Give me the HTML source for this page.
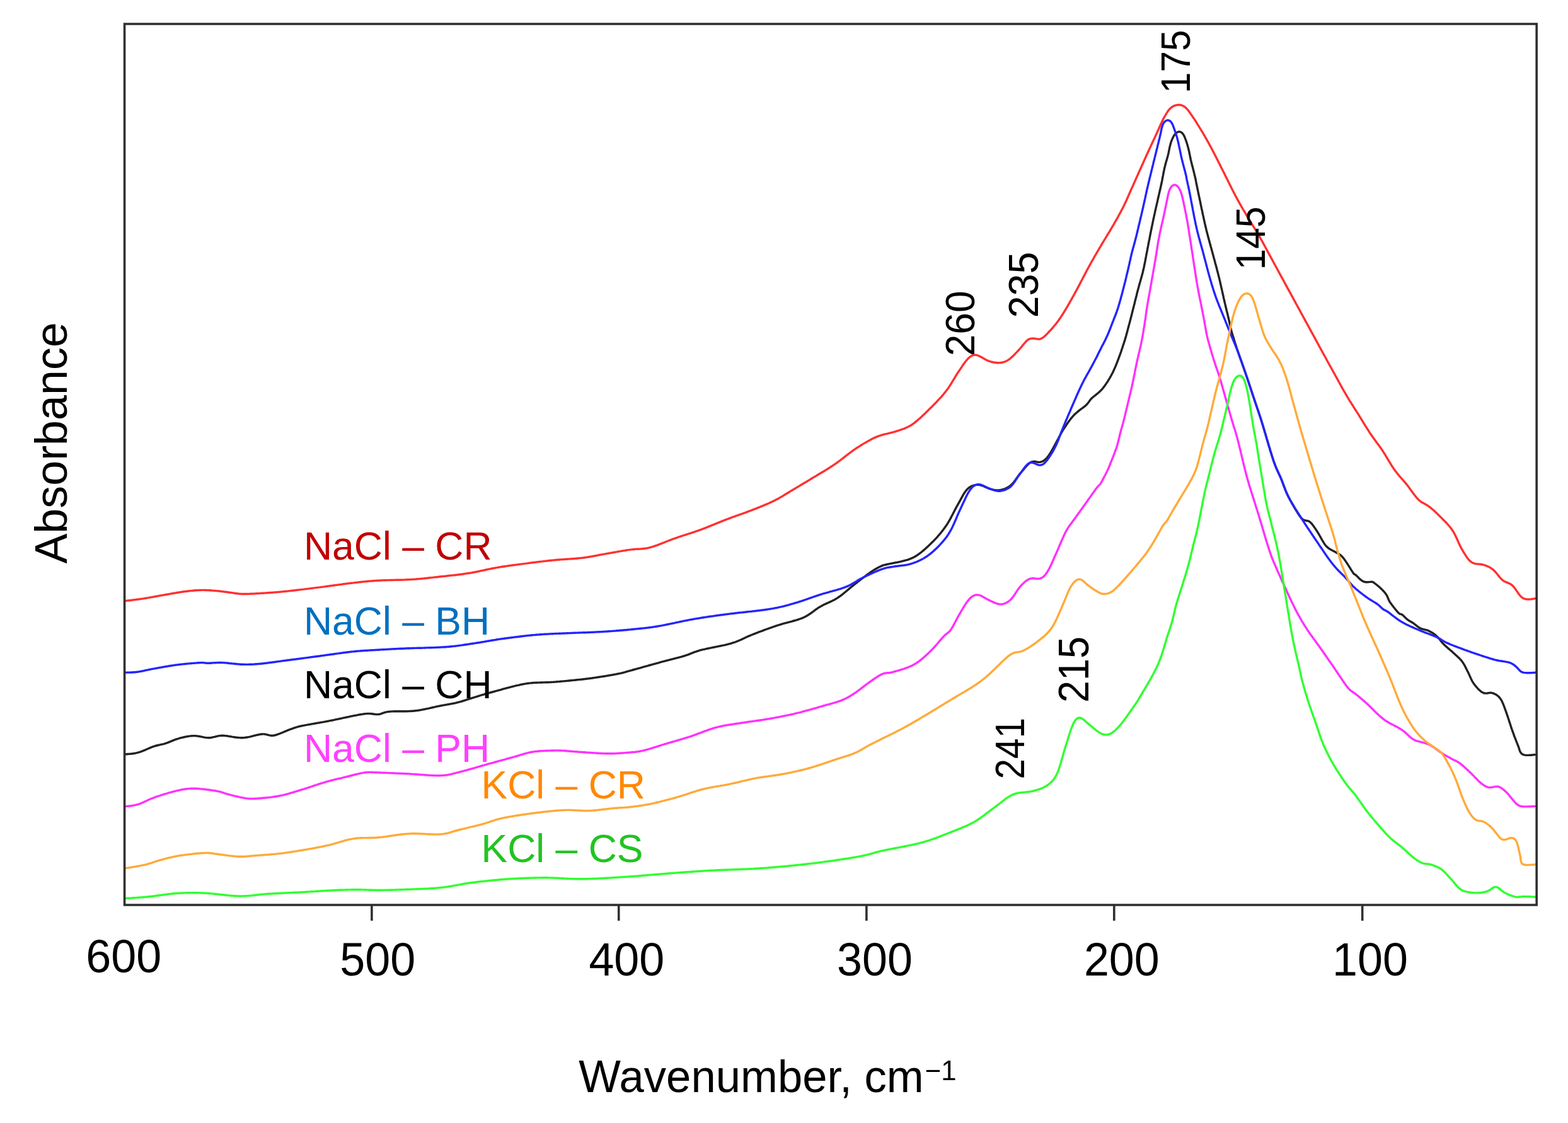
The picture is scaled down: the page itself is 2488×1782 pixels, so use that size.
<!DOCTYPE html>
<html><head><meta charset="utf-8"><title>Absorbance spectra</title>
<style>html,body{margin:0;padding:0;background:#fff;}svg{display:block;}</style>
</head><body>
<svg width="2488" height="1782" viewBox="0 0 2488 1782">
<rect width="2488" height="1782" fill="#fff"/>
<g>
<g fill="none" stroke-width="3.4" stroke-linejoin="round" stroke-linecap="butt">
<path d="M197.4 953.6 L199.4 953.4 L201.4 953.1 L203.4 952.9 L205.3 952.7 L207.3 952.5 L209.3 952.2 L211.3 952.0 L213.3 951.7 L215.3 951.5 L217.3 951.2 L219.2 951.0 L221.2 950.7 L223.2 950.4 L225.2 950.2 L227.2 949.9 L229.1 949.6 L231.1 949.2 L233.1 948.9 L235.1 948.6 L237.0 948.2 L239.0 947.9 L241.0 947.5 L242.9 947.2 L244.9 946.8 L246.9 946.5 L248.8 946.1 L250.8 945.8 L252.8 945.4 L254.7 945.0 L256.7 944.7 L258.7 944.3 L260.7 944.0 L262.6 943.6 L264.6 943.3 L266.6 943.0 L268.5 942.6 L270.5 942.3 L272.5 941.9 L274.4 941.5 L276.4 941.2 L278.4 940.9 L280.4 940.5 L282.3 940.2 L284.3 939.9 L286.3 939.6 L288.3 939.3 L290.2 939.0 L292.2 938.7 L294.2 938.5 L296.2 938.2 L298.2 938.0 L300.2 937.8 L302.1 937.6 L304.1 937.4 L306.1 937.2 L308.1 937.0 L310.1 936.8 L312.1 936.7 L314.1 936.6 L316.1 936.5 L318.1 936.5 L320.1 936.4 L322.1 936.4 L324.1 936.4 L326.1 936.5 L328.1 936.5 L330.1 936.6 L332.1 936.7 L334.1 936.8 L336.1 937.0 L338.1 937.1 L340.1 937.3 L342.1 937.5 L344.1 937.6 L346.1 937.8 L348.0 938.0 L350.0 938.2 L352.0 938.5 L354.0 938.7 L356.0 939.0 L358.0 939.2 L360.0 939.5 L361.9 939.8 L363.9 940.1 L365.9 940.3 L367.9 940.6 L369.9 940.9 L371.8 941.2 L373.8 941.5 L375.8 941.7 L377.8 942.0 L379.8 942.2 L381.8 942.4 L383.8 942.5 L385.8 942.5 L387.8 942.5 L389.8 942.5 L391.8 942.5 L393.8 942.5 L395.7 942.4 L397.7 942.3 L399.7 942.2 L401.7 942.1 L403.7 942.0 L405.7 941.9 L407.7 941.8 L409.7 941.7 L411.7 941.6 L413.7 941.4 L415.7 941.3 L417.7 941.2 L419.7 941.1 L421.7 940.9 L423.7 940.8 L425.7 940.7 L427.7 940.5 L429.7 940.4 L431.7 940.2 L433.7 940.1 L435.7 939.9 L437.7 939.8 L439.7 939.6 L441.7 939.4 L443.6 939.3 L445.6 939.1 L447.6 938.9 L449.6 938.7 L451.6 938.5 L453.6 938.3 L455.6 938.1 L457.6 937.9 L459.6 937.7 L461.6 937.4 L463.5 937.2 L465.5 937.0 L467.5 936.8 L469.5 936.5 L471.5 936.3 L473.5 936.1 L475.5 935.8 L477.4 935.6 L479.4 935.4 L481.4 935.1 L483.4 934.9 L485.4 934.6 L487.4 934.4 L489.4 934.1 L491.3 933.9 L493.3 933.6 L495.3 933.4 L497.3 933.1 L499.3 932.9 L501.3 932.6 L503.2 932.4 L505.2 932.1 L507.2 931.9 L509.2 931.6 L511.2 931.4 L513.2 931.1 L515.2 930.9 L517.1 930.6 L519.1 930.3 L521.1 930.1 L523.1 929.8 L525.1 929.5 L527.0 929.3 L529.0 929.0 L531.0 928.7 L533.0 928.4 L535.0 928.2 L537.0 927.9 L538.9 927.6 L540.9 927.4 L542.9 927.1 L544.9 926.8 L546.9 926.6 L548.8 926.3 L550.8 926.1 L552.8 925.8 L554.8 925.6 L556.8 925.3 L558.8 925.1 L560.8 924.9 L562.7 924.6 L564.7 924.4 L566.7 924.2 L568.7 923.9 L570.7 923.7 L572.7 923.5 L574.7 923.3 L576.7 923.1 L578.7 922.9 L580.6 922.7 L582.6 922.5 L584.6 922.3 L586.6 922.1 L588.6 922.0 L590.6 921.8 L592.6 921.7 L594.6 921.5 L596.6 921.4 L598.6 921.3 L600.6 921.2 L602.6 921.1 L604.6 921.0 L606.6 920.9 L608.6 920.8 L610.6 920.8 L612.6 920.7 L614.6 920.6 L616.6 920.6 L618.6 920.6 L620.6 920.5 L622.6 920.5 L624.6 920.4 L626.6 920.4 L628.6 920.3 L630.6 920.3 L632.6 920.3 L634.6 920.2 L636.6 920.2 L638.6 920.1 L640.6 920.1 L642.6 920.0 L644.6 919.9 L646.6 919.8 L648.6 919.7 L650.6 919.6 L652.6 919.5 L654.6 919.4 L656.6 919.3 L658.5 919.1 L660.5 919.0 L662.5 918.8 L664.5 918.6 L666.5 918.5 L668.5 918.3 L670.5 918.1 L672.5 917.9 L674.5 917.7 L676.5 917.5 L678.5 917.3 L680.4 917.0 L682.4 916.8 L684.4 916.6 L686.4 916.4 L688.4 916.1 L690.4 915.9 L692.4 915.7 L694.4 915.5 L696.3 915.2 L698.3 915.0 L700.3 914.8 L702.3 914.6 L704.3 914.4 L706.3 914.2 L708.3 914.0 L710.3 913.7 L712.3 913.5 L714.2 913.3 L716.2 913.1 L718.2 912.9 L720.2 912.7 L722.2 912.5 L724.2 912.2 L726.2 912.0 L728.2 911.7 L730.1 911.5 L732.1 911.2 L734.1 911.0 L736.1 910.7 L738.1 910.4 L740.0 910.1 L742.0 909.8 L744.0 909.5 L746.0 909.2 L747.9 908.9 L749.9 908.5 L751.9 908.1 L753.8 907.8 L755.8 907.4 L757.8 907.0 L759.7 906.6 L761.7 906.1 L763.6 905.7 L765.6 905.3 L767.5 904.9 L769.5 904.5 L771.5 904.0 L773.4 903.6 L775.4 903.2 L777.3 902.8 L779.3 902.4 L781.2 902.0 L783.2 901.6 L785.2 901.3 L787.1 900.9 L789.1 900.6 L791.1 900.2 L793.1 899.9 L795.0 899.6 L797.0 899.3 L799.0 899.0 L801.0 898.7 L802.9 898.4 L804.9 898.1 L806.9 897.8 L808.9 897.5 L810.9 897.3 L812.8 897.0 L814.8 896.7 L816.8 896.4 L818.8 896.2 L820.8 895.9 L822.8 895.7 L824.7 895.4 L826.7 895.1 L828.7 894.9 L830.7 894.6 L832.7 894.4 L834.7 894.1 L836.6 893.9 L838.6 893.6 L840.6 893.3 L842.6 893.1 L844.6 892.8 L846.6 892.6 L848.5 892.3 L850.5 892.1 L852.5 891.8 L854.5 891.6 L856.5 891.3 L858.5 891.1 L860.5 890.9 L862.4 890.6 L864.4 890.4 L866.4 890.2 L868.4 889.9 L870.4 889.7 L872.4 889.5 L874.4 889.3 L876.4 889.1 L878.3 888.9 L880.3 888.7 L882.3 888.5 L884.3 888.3 L886.3 888.2 L888.3 888.0 L890.3 887.9 L892.3 887.7 L894.3 887.6 L896.3 887.5 L898.3 887.3 L900.3 887.2 L902.3 887.1 L904.3 886.9 L906.3 886.8 L908.3 886.7 L910.3 886.5 L912.3 886.4 L914.2 886.2 L916.2 886.0 L918.2 885.8 L920.2 885.6 L922.2 885.4 L924.2 885.2 L926.2 885.0 L928.2 884.7 L930.1 884.4 L932.1 884.1 L934.1 883.8 L936.1 883.5 L938.0 883.1 L940.0 882.8 L942.0 882.4 L943.9 882.0 L945.9 881.7 L947.9 881.3 L949.8 880.9 L951.8 880.5 L953.8 880.1 L955.7 879.8 L957.7 879.4 L959.7 879.1 L961.6 878.7 L963.6 878.4 L965.6 878.0 L967.5 877.7 L969.5 877.3 L971.5 877.0 L973.5 876.6 L975.4 876.3 L977.4 875.9 L979.4 875.6 L981.3 875.2 L983.3 874.9 L985.3 874.6 L987.2 874.2 L989.2 873.9 L991.2 873.6 L993.2 873.2 L995.1 872.9 L997.1 872.6 L999.1 872.4 L1001.1 872.1 L1003.1 871.9 L1005.1 871.7 L1007.0 871.5 L1009.0 871.4 L1011.0 871.3 L1013.0 871.2 L1015.0 871.1 L1017.0 871.0 L1019.0 870.8 L1021.0 870.7 L1023.0 870.4 L1025.0 870.1 L1026.9 869.8 L1028.9 869.4 L1030.8 868.9 L1032.8 868.4 L1034.7 867.8 L1036.6 867.2 L1038.5 866.6 L1040.4 865.9 L1042.3 865.3 L1044.2 864.6 L1046.0 863.9 L1047.9 863.2 L1049.8 862.4 L1051.6 861.7 L1053.5 861.0 L1055.3 860.2 L1057.2 859.5 L1059.1 858.7 L1060.9 858.0 L1062.8 857.3 L1064.6 856.6 L1066.5 855.9 L1068.4 855.2 L1070.3 854.5 L1072.2 853.8 L1074.0 853.2 L1075.9 852.5 L1077.8 851.9 L1079.7 851.2 L1081.6 850.6 L1083.5 850.0 L1085.4 849.4 L1087.3 848.8 L1089.2 848.2 L1091.1 847.5 L1093.0 846.9 L1095.0 846.3 L1096.9 845.7 L1098.8 845.1 L1100.7 844.4 L1102.5 843.8 L1104.4 843.2 L1106.3 842.5 L1108.2 841.8 L1110.1 841.2 L1112.0 840.5 L1113.9 839.8 L1115.7 839.1 L1117.6 838.4 L1119.5 837.7 L1121.3 836.9 L1123.2 836.2 L1125.0 835.4 L1126.9 834.7 L1128.7 833.9 L1130.6 833.2 L1132.4 832.4 L1134.3 831.7 L1136.1 830.9 L1138.0 830.1 L1139.9 829.4 L1141.7 828.6 L1143.6 827.9 L1145.4 827.1 L1147.3 826.4 L1149.1 825.7 L1151.0 824.9 L1152.9 824.2 L1154.7 823.5 L1156.6 822.8 L1158.5 822.1 L1160.4 821.4 L1162.2 820.7 L1164.1 820.0 L1166.0 819.4 L1167.9 818.7 L1169.8 818.0 L1171.6 817.4 L1173.5 816.7 L1175.4 816.0 L1177.3 815.3 L1179.2 814.7 L1181.1 814.0 L1182.9 813.3 L1184.8 812.6 L1186.7 811.9 L1188.6 811.2 L1190.4 810.5 L1192.3 809.8 L1194.2 809.1 L1196.0 808.3 L1197.9 807.6 L1199.8 806.9 L1201.6 806.1 L1203.5 805.4 L1205.3 804.7 L1207.2 803.9 L1209.0 803.2 L1210.9 802.4 L1212.7 801.6 L1214.6 800.9 L1216.4 800.1 L1218.3 799.3 L1220.1 798.5 L1221.9 797.6 L1223.7 796.8 L1225.5 795.9 L1227.3 795.1 L1229.1 794.2 L1230.9 793.2 L1232.7 792.3 L1234.4 791.4 L1236.2 790.4 L1237.9 789.4 L1239.6 788.4 L1241.4 787.4 L1243.1 786.4 L1244.8 785.3 L1246.5 784.3 L1248.2 783.3 L1249.9 782.2 L1251.6 781.2 L1253.3 780.1 L1255.0 779.1 L1256.8 778.1 L1258.5 777.0 L1260.2 776.0 L1261.9 775.0 L1263.6 773.9 L1265.3 772.9 L1267.1 771.9 L1268.8 770.9 L1270.5 769.8 L1272.2 768.8 L1273.9 767.8 L1275.6 766.8 L1277.3 765.7 L1279.1 764.7 L1280.8 763.7 L1282.5 762.6 L1284.2 761.6 L1285.9 760.5 L1287.6 759.5 L1289.3 758.5 L1291.0 757.4 L1292.7 756.4 L1294.5 755.4 L1296.2 754.4 L1297.9 753.3 L1299.6 752.3 L1301.3 751.3 L1303.1 750.3 L1304.8 749.2 L1306.5 748.2 L1308.2 747.2 L1309.9 746.1 L1311.6 745.1 L1313.3 744.0 L1315.0 743.0 L1316.7 741.9 L1318.4 740.8 L1320.1 739.7 L1321.7 738.6 L1323.4 737.5 L1325.0 736.4 L1326.7 735.2 L1328.3 734.1 L1329.9 732.9 L1331.5 731.7 L1333.1 730.5 L1334.7 729.3 L1336.3 728.0 L1337.9 726.8 L1339.4 725.6 L1341.0 724.4 L1342.6 723.1 L1344.2 721.9 L1345.8 720.7 L1347.3 719.5 L1348.9 718.3 L1350.5 717.1 L1352.2 715.9 L1353.8 714.7 L1355.4 713.6 L1357.1 712.4 L1358.7 711.3 L1360.4 710.2 L1362.1 709.1 L1363.8 708.1 L1365.5 707.0 L1367.2 705.9 L1368.9 704.9 L1370.6 703.9 L1372.3 702.9 L1374.0 701.9 L1375.8 700.9 L1377.5 699.9 L1379.3 698.9 L1381.0 698.0 L1382.8 697.0 L1384.6 696.1 L1386.4 695.2 L1388.2 694.4 L1390.0 693.6 L1391.9 692.9 L1393.8 692.2 L1395.6 691.5 L1397.5 690.9 L1399.4 690.3 L1401.4 689.7 L1403.3 689.2 L1405.2 688.7 L1407.2 688.3 L1409.1 687.8 L1411.1 687.4 L1413.0 686.9 L1415.0 686.4 L1416.9 685.9 L1418.8 685.4 L1420.7 684.8 L1422.6 684.2 L1424.5 683.6 L1426.4 683.0 L1428.3 682.3 L1430.2 681.7 L1432.1 681.0 L1434.0 680.4 L1435.9 679.6 L1437.7 678.8 L1439.5 678.0 L1441.3 677.1 L1443.1 676.2 L1444.8 675.2 L1446.5 674.1 L1448.2 673.0 L1449.8 671.8 L1451.4 670.6 L1452.9 669.4 L1454.5 668.1 L1456.0 666.8 L1457.5 665.5 L1459.0 664.2 L1460.5 662.9 L1462.0 661.5 L1463.4 660.1 L1464.9 658.8 L1466.3 657.4 L1467.8 656.0 L1469.2 654.6 L1470.6 653.2 L1472.1 651.8 L1473.5 650.4 L1474.9 649.0 L1476.3 647.6 L1477.8 646.2 L1479.2 644.8 L1480.6 643.3 L1482.0 641.9 L1483.4 640.5 L1484.8 639.1 L1486.2 637.6 L1487.5 636.2 L1488.9 634.7 L1490.3 633.2 L1491.6 631.8 L1493.0 630.3 L1494.3 628.8 L1495.6 627.3 L1496.9 625.8 L1498.2 624.2 L1499.5 622.7 L1500.7 621.1 L1501.9 619.5 L1503.1 617.9 L1504.3 616.3 L1505.4 614.6 L1506.5 613.0 L1507.6 611.3 L1508.7 609.6 L1509.7 607.9 L1510.8 606.2 L1511.8 604.5 L1512.8 602.8 L1513.9 601.1 L1514.9 599.3 L1515.9 597.6 L1517.0 595.9 L1518.0 594.2 L1519.1 592.6 L1520.2 590.9 L1521.3 589.2 L1522.4 587.6 L1523.6 585.9 L1524.7 584.2 L1525.8 582.6 L1526.9 580.9 L1528.0 579.3 L1529.2 577.6 L1530.4 576.0 L1531.5 574.4 L1532.8 572.8 L1534.0 571.3 L1535.4 569.8 L1536.8 568.4 L1538.2 567.0 L1539.8 565.8 L1541.4 564.7 L1543.2 563.9 L1545.1 563.4 L1547.1 563.3 L1549.0 563.4 L1550.9 563.9 L1552.8 564.5 L1554.6 565.4 L1556.4 566.3 L1558.1 567.3 L1559.8 568.3 L1561.6 569.3 L1563.3 570.3 L1565.1 571.2 L1566.9 572.0 L1568.7 572.8 L1570.6 573.4 L1572.5 574.0 L1574.5 574.5 L1576.4 574.9 L1578.4 575.3 L1580.4 575.5 L1582.4 575.7 L1584.4 575.7 L1586.3 575.6 L1588.3 575.5 L1590.3 575.1 L1592.2 574.7 L1594.1 574.1 L1596.0 573.3 L1597.8 572.4 L1599.5 571.4 L1601.1 570.3 L1602.7 569.1 L1604.2 567.8 L1605.7 566.4 L1607.2 565.1 L1608.6 563.7 L1610.0 562.3 L1611.4 560.8 L1612.8 559.4 L1614.2 557.9 L1615.5 556.5 L1616.9 555.0 L1618.2 553.5 L1619.5 552.0 L1620.8 550.5 L1622.0 548.9 L1623.3 547.3 L1624.6 545.8 L1625.8 544.3 L1627.2 542.8 L1628.5 541.3 L1630.0 540.0 L1631.6 538.8 L1633.4 537.9 L1635.2 537.4 L1637.2 537.1 L1639.1 537.0 L1641.1 537.2 L1643.1 537.4 L1645.0 537.8 L1646.9 538.1 L1648.8 538.2 L1650.7 537.8 L1652.5 537.1 L1654.1 536.2 L1655.7 535.0 L1657.3 533.8 L1658.7 532.4 L1660.2 531.0 L1661.6 529.6 L1663.0 528.2 L1664.3 526.7 L1665.7 525.2 L1667.0 523.8 L1668.4 522.3 L1669.7 520.8 L1671.0 519.3 L1672.3 517.7 L1673.6 516.2 L1674.8 514.7 L1676.1 513.1 L1677.3 511.5 L1678.5 509.9 L1679.7 508.3 L1680.8 506.7 L1682.0 505.0 L1683.1 503.4 L1684.2 501.7 L1685.3 500.0 L1686.4 498.3 L1687.4 496.7 L1688.5 495.0 L1689.5 493.2 L1690.6 491.5 L1691.6 489.8 L1692.6 488.1 L1693.6 486.4 L1694.6 484.6 L1695.6 482.9 L1696.6 481.2 L1697.6 479.4 L1698.6 477.7 L1699.6 476.0 L1700.6 474.2 L1701.5 472.5 L1702.5 470.7 L1703.5 469.0 L1704.5 467.2 L1705.4 465.5 L1706.4 463.7 L1707.3 462.0 L1708.3 460.2 L1709.2 458.4 L1710.2 456.7 L1711.1 454.9 L1712.0 453.1 L1713.0 451.4 L1713.9 449.6 L1714.8 447.8 L1715.7 446.0 L1716.7 444.3 L1717.6 442.5 L1718.5 440.7 L1719.4 438.9 L1720.4 437.2 L1721.3 435.4 L1722.2 433.6 L1723.2 431.9 L1724.1 430.1 L1725.0 428.3 L1726.0 426.6 L1726.9 424.8 L1727.9 423.0 L1728.8 421.3 L1729.8 419.5 L1730.8 417.8 L1731.7 416.0 L1732.7 414.3 L1733.7 412.5 L1734.7 410.8 L1735.7 409.1 L1736.6 407.3 L1737.6 405.6 L1738.7 403.9 L1739.7 402.1 L1740.7 400.4 L1741.7 398.7 L1742.7 397.0 L1743.7 395.2 L1744.7 393.5 L1745.7 391.8 L1746.8 390.1 L1747.8 388.4 L1748.8 386.6 L1749.8 384.9 L1750.9 383.2 L1751.9 381.5 L1752.9 379.8 L1754.0 378.1 L1755.0 376.4 L1756.1 374.7 L1757.1 372.9 L1758.1 371.2 L1759.2 369.5 L1760.2 367.8 L1761.3 366.1 L1762.3 364.4 L1763.3 362.7 L1764.3 361.0 L1765.3 359.2 L1766.4 357.5 L1767.4 355.8 L1768.4 354.0 L1769.3 352.3 L1770.3 350.6 L1771.3 348.8 L1772.3 347.1 L1773.3 345.3 L1774.3 343.6 L1775.2 341.8 L1776.2 340.1 L1777.1 338.3 L1778.1 336.6 L1779.0 334.8 L1779.9 333.0 L1780.9 331.3 L1781.8 329.5 L1782.7 327.7 L1783.5 325.9 L1784.4 324.1 L1785.3 322.3 L1786.1 320.5 L1787.0 318.7 L1787.8 316.8 L1788.6 315.0 L1789.4 313.2 L1790.2 311.3 L1791.0 309.5 L1791.8 307.7 L1792.6 305.9 L1793.4 304.0 L1794.2 302.2 L1795.0 300.4 L1795.9 298.5 L1796.7 296.7 L1797.5 294.9 L1798.3 293.1 L1799.1 291.2 L1800.0 289.4 L1800.8 287.6 L1801.6 285.8 L1802.4 283.9 L1803.2 282.1 L1804.0 280.3 L1804.9 278.5 L1805.7 276.6 L1806.5 274.8 L1807.3 273.0 L1808.1 271.2 L1809.0 269.3 L1809.8 267.5 L1810.6 265.7 L1811.4 263.9 L1812.2 262.0 L1813.1 260.2 L1813.9 258.4 L1814.7 256.6 L1815.5 254.7 L1816.3 252.9 L1817.2 251.1 L1818.0 249.3 L1818.8 247.4 L1819.6 245.6 L1820.5 243.8 L1821.3 242.0 L1822.1 240.2 L1823.0 238.3 L1823.8 236.5 L1824.6 234.7 L1825.5 232.9 L1826.3 231.1 L1827.2 229.3 L1828.0 227.5 L1828.8 225.6 L1829.7 223.8 L1830.5 222.0 L1831.4 220.2 L1832.2 218.4 L1833.1 216.6 L1833.9 214.8 L1834.8 213.0 L1835.6 211.1 L1836.4 209.3 L1837.2 207.5 L1838.1 205.7 L1838.9 203.8 L1839.7 202.0 L1840.5 200.2 L1841.3 198.4 L1842.1 196.5 L1843.0 194.7 L1843.8 192.9 L1844.7 191.1 L1845.6 189.3 L1846.5 187.6 L1847.5 185.8 L1848.5 184.1 L1849.5 182.4 L1850.5 180.6 L1851.6 178.9 L1852.6 177.3 L1853.8 175.6 L1855.0 174.1 L1856.3 172.6 L1857.8 171.3 L1859.3 170.1 L1860.9 169.0 L1862.7 168.1 L1864.5 167.4 L1866.4 166.9 L1868.3 166.5 L1870.2 166.4 L1872.1 166.5 L1874.0 166.8 L1875.8 167.4 L1877.6 168.2 L1879.3 169.2 L1880.8 170.4 L1882.3 171.7 L1883.6 173.1 L1884.9 174.6 L1886.2 176.2 L1887.3 177.8 L1888.5 179.4 L1889.6 181.1 L1890.7 182.7 L1891.8 184.4 L1892.9 186.1 L1894.1 187.7 L1895.2 189.4 L1896.3 191.0 L1897.4 192.7 L1898.4 194.4 L1899.5 196.1 L1900.5 197.8 L1901.6 199.5 L1902.6 201.2 L1903.7 202.9 L1904.7 204.6 L1905.8 206.3 L1906.8 208.0 L1907.9 209.7 L1908.9 211.5 L1909.9 213.2 L1910.9 214.9 L1911.9 216.7 L1912.9 218.4 L1913.9 220.1 L1914.9 221.9 L1915.9 223.6 L1916.8 225.3 L1917.8 227.1 L1918.8 228.8 L1919.7 230.6 L1920.7 232.3 L1921.6 234.1 L1922.6 235.9 L1923.5 237.6 L1924.4 239.4 L1925.3 241.2 L1926.3 243.0 L1927.2 244.7 L1928.1 246.5 L1929.0 248.3 L1929.9 250.1 L1930.8 251.9 L1931.7 253.6 L1932.6 255.4 L1933.5 257.2 L1934.4 259.0 L1935.3 260.8 L1936.2 262.6 L1937.1 264.4 L1938.0 266.2 L1938.9 267.9 L1939.8 269.7 L1940.7 271.5 L1941.6 273.3 L1942.5 275.1 L1943.4 276.9 L1944.3 278.7 L1945.2 280.5 L1946.1 282.3 L1947.0 284.1 L1947.8 285.8 L1948.7 287.6 L1949.6 289.4 L1950.5 291.2 L1951.4 293.0 L1952.3 294.8 L1953.2 296.6 L1954.1 298.4 L1955.0 300.2 L1955.9 302.0 L1956.8 303.7 L1957.7 305.5 L1958.6 307.3 L1959.5 309.1 L1960.5 310.8 L1961.4 312.6 L1962.4 314.4 L1963.3 316.1 L1964.3 317.9 L1965.3 319.6 L1966.3 321.4 L1967.2 323.1 L1968.2 324.8 L1969.2 326.6 L1970.2 328.3 L1971.2 330.0 L1972.2 331.8 L1973.2 333.5 L1974.2 335.2 L1975.2 336.9 L1976.3 338.7 L1977.3 340.4 L1978.3 342.1 L1979.3 343.8 L1980.4 345.5 L1981.4 347.2 L1982.4 349.0 L1983.5 350.7 L1984.5 352.4 L1985.6 354.1 L1986.6 355.8 L1987.7 357.5 L1988.7 359.2 L1989.8 360.9 L1990.8 362.6 L1991.9 364.3 L1992.9 366.0 L1993.9 367.7 L1995.0 369.4 L1996.0 371.1 L1997.0 372.9 L1998.0 374.6 L1999.0 376.3 L2000.0 378.1 L2001.0 379.8 L2002.0 381.6 L2002.9 383.3 L2003.9 385.1 L2004.8 386.8 L2005.8 388.6 L2006.8 390.3 L2007.7 392.1 L2008.6 393.9 L2009.6 395.6 L2010.5 397.4 L2011.5 399.1 L2012.4 400.9 L2013.4 402.7 L2014.3 404.4 L2015.3 406.2 L2016.3 407.9 L2017.2 409.7 L2018.2 411.4 L2019.1 413.2 L2020.1 415.0 L2021.0 416.7 L2022.0 418.5 L2022.9 420.2 L2023.9 422.0 L2024.9 423.7 L2025.8 425.5 L2026.8 427.3 L2027.7 429.0 L2028.7 430.8 L2029.6 432.5 L2030.6 434.3 L2031.5 436.0 L2032.5 437.8 L2033.5 439.6 L2034.4 441.3 L2035.4 443.1 L2036.3 444.8 L2037.3 446.6 L2038.2 448.3 L2039.2 450.1 L2040.2 451.9 L2041.1 453.6 L2042.1 455.4 L2043.0 457.1 L2044.0 458.9 L2044.9 460.6 L2045.9 462.4 L2046.9 464.1 L2047.8 465.9 L2048.8 467.6 L2049.7 469.4 L2050.7 471.2 L2051.7 472.9 L2052.6 474.7 L2053.6 476.4 L2054.5 478.2 L2055.5 479.9 L2056.4 481.7 L2057.4 483.5 L2058.4 485.2 L2059.3 487.0 L2060.3 488.7 L2061.2 490.5 L2062.2 492.2 L2063.1 494.0 L2064.1 495.8 L2065.0 497.5 L2066.0 499.3 L2067.0 501.0 L2067.9 502.8 L2068.9 504.5 L2069.8 506.3 L2070.8 508.1 L2071.7 509.8 L2072.7 511.6 L2073.7 513.3 L2074.6 515.1 L2075.6 516.8 L2076.5 518.6 L2077.5 520.3 L2078.4 522.1 L2079.4 523.9 L2080.3 525.6 L2081.3 527.4 L2082.3 529.1 L2083.2 530.9 L2084.2 532.6 L2085.1 534.4 L2086.1 536.2 L2087.0 537.9 L2088.0 539.7 L2088.9 541.4 L2089.9 543.2 L2090.9 544.9 L2091.8 546.7 L2092.8 548.5 L2093.7 550.2 L2094.7 552.0 L2095.6 553.7 L2096.6 555.5 L2097.6 557.2 L2098.5 559.0 L2099.5 560.7 L2100.5 562.5 L2101.4 564.2 L2102.4 566.0 L2103.4 567.7 L2104.3 569.5 L2105.3 571.3 L2106.2 573.0 L2107.2 574.8 L2108.2 576.5 L2109.2 578.3 L2110.1 580.0 L2111.1 581.8 L2112.1 583.5 L2113.0 585.3 L2114.0 587.0 L2115.0 588.8 L2115.9 590.5 L2116.9 592.3 L2117.9 594.0 L2118.8 595.8 L2119.8 597.5 L2120.8 599.3 L2121.7 601.0 L2122.7 602.8 L2123.6 604.5 L2124.6 606.3 L2125.6 608.0 L2126.5 609.8 L2127.5 611.5 L2128.5 613.3 L2129.4 615.0 L2130.4 616.8 L2131.4 618.5 L2132.4 620.3 L2133.4 622.0 L2134.4 623.7 L2135.4 625.5 L2136.4 627.2 L2137.4 628.9 L2138.4 630.6 L2139.5 632.3 L2140.5 634.1 L2141.5 635.8 L2142.6 637.5 L2143.7 639.2 L2144.7 640.8 L2145.8 642.5 L2146.9 644.2 L2147.9 645.9 L2149.0 647.6 L2150.1 649.3 L2151.2 651.0 L2152.2 652.7 L2153.3 654.4 L2154.4 656.0 L2155.4 657.7 L2156.5 659.4 L2157.5 661.1 L2158.6 662.8 L2159.6 664.5 L2160.7 666.2 L2161.7 668.0 L2162.8 669.7 L2163.8 671.4 L2164.9 673.1 L2165.9 674.8 L2167.0 676.5 L2168.0 678.2 L2169.1 679.9 L2170.2 681.5 L2171.3 683.2 L2172.3 684.9 L2173.4 686.6 L2174.5 688.2 L2175.7 689.9 L2176.8 691.5 L2178.0 693.2 L2179.1 694.8 L2180.3 696.4 L2181.5 698.0 L2182.7 699.7 L2183.8 701.3 L2185.0 702.9 L2186.2 704.5 L2187.4 706.1 L2188.6 707.7 L2189.7 709.3 L2190.9 711.0 L2192.0 712.6 L2193.2 714.3 L2194.3 715.9 L2195.3 717.6 L2196.4 719.3 L2197.5 721.0 L2198.5 722.7 L2199.5 724.4 L2200.6 726.1 L2201.6 727.9 L2202.6 729.6 L2203.6 731.3 L2204.7 733.0 L2205.7 734.7 L2206.8 736.4 L2207.8 738.1 L2208.9 739.8 L2210.0 741.5 L2211.1 743.2 L2212.2 744.8 L2213.4 746.4 L2214.6 748.0 L2215.8 749.6 L2217.0 751.2 L2218.3 752.7 L2219.6 754.3 L2220.9 755.8 L2222.2 757.3 L2223.5 758.8 L2224.9 760.3 L2226.2 761.8 L2227.5 763.3 L2228.8 764.8 L2230.1 766.4 L2231.3 767.9 L2232.6 769.5 L2233.8 771.0 L2235.0 772.6 L2236.2 774.2 L2237.4 775.9 L2238.6 777.5 L2239.7 779.1 L2240.9 780.7 L2242.1 782.3 L2243.3 783.9 L2244.5 785.5 L2245.7 787.1 L2247.0 788.7 L2248.2 790.2 L2249.6 791.7 L2251.0 793.1 L2252.5 794.5 L2254.0 795.7 L2255.7 796.8 L2257.4 797.8 L2259.1 798.8 L2260.9 799.7 L2262.7 800.6 L2264.4 801.7 L2266.0 802.8 L2267.7 803.9 L2269.2 805.2 L2270.8 806.4 L2272.3 807.7 L2273.9 809.0 L2275.3 810.3 L2276.8 811.7 L2278.3 813.1 L2279.7 814.4 L2281.1 815.8 L2282.6 817.2 L2284.0 818.6 L2285.4 820.0 L2286.8 821.4 L2288.3 822.8 L2289.7 824.3 L2291.1 825.7 L2292.5 827.1 L2293.9 828.5 L2295.3 830.0 L2296.6 831.5 L2297.9 833.0 L2299.2 834.5 L2300.5 836.0 L2301.8 837.6 L2303.0 839.2 L2304.1 840.8 L2305.2 842.5 L2306.3 844.2 L2307.3 845.9 L2308.2 847.7 L2309.1 849.5 L2310.0 851.3 L2310.8 853.1 L2311.7 854.9 L2312.5 856.7 L2313.3 858.5 L2314.1 860.4 L2314.9 862.2 L2315.8 864.0 L2316.6 865.8 L2317.5 867.6 L2318.4 869.4 L2319.4 871.1 L2320.4 872.9 L2321.4 874.6 L2322.4 876.3 L2323.5 878.0 L2324.5 879.7 L2325.6 881.4 L2326.7 883.1 L2327.8 884.7 L2329.0 886.3 L2330.3 887.9 L2331.6 889.3 L2333.1 890.7 L2334.6 891.9 L2336.3 892.9 L2338.1 893.7 L2340.0 894.3 L2342.0 894.7 L2343.9 894.9 L2345.9 895.1 L2347.9 895.2 L2349.9 895.5 L2351.9 895.8 L2353.8 896.2 L2355.7 896.8 L2357.6 897.5 L2359.5 898.2 L2361.3 899.0 L2363.1 899.9 L2364.8 900.9 L2366.5 902.0 L2368.1 903.2 L2369.6 904.4 L2371.1 905.8 L2372.5 907.2 L2373.8 908.7 L2375.1 910.3 L2376.3 911.8 L2377.6 913.4 L2378.8 915.0 L2380.1 916.5 L2381.4 918.0 L2382.8 919.4 L2384.3 920.7 L2385.9 921.9 L2387.7 922.8 L2389.5 923.7 L2391.3 924.4 L2393.2 925.1 L2395.0 925.9 L2396.8 926.8 L2398.4 927.9 L2399.9 929.2 L2401.3 930.6 L2402.6 932.1 L2403.8 933.7 L2405.0 935.3 L2406.1 937.0 L2407.2 938.6 L2408.4 940.3 L2409.5 941.9 L2410.7 943.5 L2412.0 945.1 L2413.3 946.5 L2414.8 947.9 L2416.4 949.0 L2418.1 949.9 L2420.0 950.5 L2421.9 950.8 L2423.9 951.0 L2425.9 951.0 L2427.9 950.9 L2429.9 950.7 L2431.9 950.4 L2433.8 950.1 L2435.8 949.8 L2437.8 949.6" stroke="#ff3030"/>
<path d="M197.2 1197.0 L199.2 1196.8 L201.2 1196.7 L203.2 1196.5 L205.2 1196.4 L207.2 1196.2 L209.2 1196.0 L211.1 1195.7 L213.1 1195.5 L215.1 1195.1 L217.0 1194.7 L219.0 1194.2 L220.9 1193.7 L222.8 1193.0 L224.7 1192.3 L226.5 1191.6 L228.4 1190.8 L230.2 1190.1 L232.1 1189.3 L233.9 1188.5 L235.7 1187.7 L237.6 1186.9 L239.4 1186.1 L241.3 1185.4 L243.2 1184.7 L245.0 1184.1 L247.0 1183.5 L248.9 1183.0 L250.8 1182.5 L252.8 1182.1 L254.7 1181.7 L256.7 1181.2 L258.6 1180.8 L260.6 1180.3 L262.5 1179.7 L264.4 1179.1 L266.3 1178.4 L268.1 1177.6 L270.0 1176.9 L271.8 1176.1 L273.7 1175.4 L275.5 1174.6 L277.4 1173.9 L279.3 1173.2 L281.2 1172.6 L283.1 1172.0 L285.0 1171.4 L286.9 1170.9 L288.9 1170.4 L290.8 1170.0 L292.8 1169.5 L294.7 1169.1 L296.7 1168.7 L298.7 1168.4 L300.6 1168.1 L302.6 1167.9 L304.6 1167.7 L306.6 1167.6 L308.6 1167.6 L310.6 1167.7 L312.6 1167.9 L314.6 1168.2 L316.5 1168.5 L318.5 1168.9 L320.5 1169.3 L322.4 1169.7 L324.4 1170.1 L326.4 1170.4 L328.3 1170.6 L330.3 1170.7 L332.3 1170.7 L334.3 1170.5 L336.3 1170.2 L338.2 1169.7 L340.2 1169.3 L342.1 1168.8 L344.1 1168.3 L346.0 1167.9 L348.0 1167.6 L350.0 1167.4 L352.0 1167.3 L354.0 1167.3 L356.0 1167.4 L358.0 1167.6 L359.9 1167.8 L361.9 1168.1 L363.9 1168.4 L365.9 1168.7 L367.8 1169.1 L369.8 1169.4 L371.8 1169.7 L373.8 1170.0 L375.8 1170.2 L377.7 1170.4 L379.7 1170.6 L381.7 1170.7 L383.7 1170.8 L385.7 1170.7 L387.7 1170.6 L389.7 1170.3 L391.7 1170.0 L393.6 1169.7 L395.6 1169.3 L397.6 1168.8 L399.5 1168.4 L401.4 1167.9 L403.4 1167.4 L405.3 1166.9 L407.3 1166.4 L409.2 1166.0 L411.2 1165.6 L413.1 1165.2 L415.1 1165.0 L417.1 1164.9 L419.1 1164.9 L421.1 1165.2 L423.0 1165.6 L424.9 1166.1 L426.9 1166.7 L428.8 1167.1 L430.8 1167.3 L432.8 1167.2 L434.7 1167.0 L436.7 1166.5 L438.6 1166.0 L440.5 1165.4 L442.4 1164.7 L444.3 1164.0 L446.1 1163.2 L448.0 1162.5 L449.8 1161.7 L451.7 1160.9 L453.5 1160.2 L455.3 1159.4 L457.2 1158.7 L459.1 1157.9 L460.9 1157.2 L462.8 1156.6 L464.7 1155.9 L466.6 1155.2 L468.5 1154.6 L470.4 1154.0 L472.3 1153.4 L474.2 1152.9 L476.2 1152.4 L478.1 1152.0 L480.1 1151.6 L482.1 1151.2 L484.0 1150.8 L486.0 1150.4 L487.9 1150.1 L489.9 1149.7 L491.9 1149.4 L493.9 1149.0 L495.8 1148.7 L497.8 1148.3 L499.8 1148.0 L501.7 1147.6 L503.7 1147.3 L505.7 1147.0 L507.6 1146.6 L509.6 1146.3 L511.6 1145.9 L513.6 1145.6 L515.5 1145.2 L517.5 1144.9 L519.5 1144.5 L521.4 1144.1 L523.4 1143.7 L525.3 1143.3 L527.3 1143.0 L529.3 1142.6 L531.2 1142.2 L533.2 1141.7 L535.1 1141.3 L537.1 1140.9 L539.1 1140.5 L541.0 1140.1 L543.0 1139.7 L544.9 1139.2 L546.9 1138.8 L548.8 1138.4 L550.8 1138.0 L552.7 1137.6 L554.7 1137.2 L556.7 1136.7 L558.6 1136.3 L560.6 1135.9 L562.5 1135.5 L564.5 1135.2 L566.5 1134.8 L568.4 1134.4 L570.4 1134.0 L572.4 1133.7 L574.3 1133.4 L576.3 1133.1 L578.3 1132.8 L580.3 1132.6 L582.3 1132.4 L584.3 1132.4 L586.3 1132.4 L588.3 1132.5 L590.3 1132.7 L592.2 1133.0 L594.2 1133.3 L596.2 1133.5 L598.2 1133.6 L600.2 1133.6 L602.1 1133.3 L604.0 1132.8 L605.9 1132.1 L607.8 1131.4 L609.7 1130.8 L611.6 1130.2 L613.6 1129.8 L615.5 1129.4 L617.5 1129.2 L619.5 1129.1 L621.5 1128.9 L623.5 1128.9 L625.5 1128.8 L627.5 1128.8 L629.5 1128.8 L631.5 1128.8 L633.5 1128.8 L635.5 1128.8 L637.5 1128.8 L639.5 1128.7 L641.5 1128.7 L643.5 1128.7 L645.5 1128.7 L647.5 1128.6 L649.5 1128.5 L651.5 1128.5 L653.5 1128.3 L655.5 1128.2 L657.5 1128.0 L659.5 1127.8 L661.4 1127.6 L663.4 1127.3 L665.4 1127.0 L667.4 1126.6 L669.3 1126.3 L671.3 1125.9 L673.3 1125.5 L675.2 1125.1 L677.2 1124.7 L679.1 1124.3 L681.1 1123.9 L683.0 1123.4 L685.0 1123.0 L686.9 1122.5 L688.9 1122.1 L690.8 1121.6 L692.8 1121.2 L694.7 1120.8 L696.7 1120.4 L698.7 1120.0 L700.6 1119.6 L702.6 1119.2 L704.6 1118.9 L706.5 1118.5 L708.5 1118.2 L710.5 1117.8 L712.4 1117.5 L714.4 1117.1 L716.4 1116.8 L718.3 1116.4 L720.3 1116.0 L722.3 1115.6 L724.2 1115.1 L726.1 1114.6 L728.1 1114.1 L730.0 1113.6 L731.9 1113.1 L733.9 1112.5 L735.8 1111.9 L737.7 1111.3 L739.6 1110.7 L741.5 1110.1 L743.4 1109.5 L745.3 1108.9 L747.2 1108.3 L749.1 1107.7 L751.0 1107.1 L752.9 1106.5 L754.9 1105.9 L756.8 1105.3 L758.7 1104.7 L760.6 1104.1 L762.5 1103.5 L764.4 1102.9 L766.3 1102.4 L768.2 1101.8 L770.1 1101.2 L772.1 1100.6 L774.0 1100.1 L775.9 1099.6 L777.8 1099.0 L779.8 1098.5 L781.7 1098.0 L783.6 1097.5 L785.6 1096.9 L787.5 1096.4 L789.4 1095.9 L791.3 1095.3 L793.3 1094.8 L795.2 1094.3 L797.1 1093.7 L799.0 1093.2 L801.0 1092.7 L802.9 1092.1 L804.8 1091.6 L806.8 1091.1 L808.7 1090.6 L810.6 1090.1 L812.6 1089.6 L814.5 1089.1 L816.5 1088.6 L818.4 1088.2 L820.4 1087.7 L822.3 1087.3 L824.3 1086.8 L826.2 1086.4 L828.2 1086.0 L830.1 1085.6 L832.1 1085.3 L834.1 1084.9 L836.0 1084.6 L838.0 1084.3 L840.0 1084.1 L842.0 1083.9 L844.0 1083.7 L846.0 1083.5 L848.0 1083.4 L850.0 1083.3 L852.0 1083.2 L854.0 1083.1 L856.0 1083.1 L858.0 1083.0 L860.0 1083.0 L862.0 1082.9 L864.0 1082.9 L866.0 1082.8 L868.0 1082.8 L870.0 1082.7 L872.0 1082.6 L874.0 1082.5 L876.0 1082.4 L878.0 1082.3 L879.9 1082.1 L881.9 1082.0 L883.9 1081.8 L885.9 1081.6 L887.9 1081.5 L889.9 1081.3 L891.9 1081.1 L893.9 1080.9 L895.9 1080.8 L897.9 1080.6 L899.9 1080.4 L901.9 1080.2 L903.9 1080.0 L905.8 1079.8 L907.8 1079.6 L909.8 1079.4 L911.8 1079.2 L913.8 1079.0 L915.8 1078.8 L917.8 1078.6 L919.8 1078.4 L921.8 1078.2 L923.7 1078.0 L925.7 1077.7 L927.7 1077.5 L929.7 1077.3 L931.7 1077.0 L933.7 1076.8 L935.7 1076.5 L937.6 1076.2 L939.6 1076.0 L941.6 1075.7 L943.6 1075.4 L945.6 1075.1 L947.5 1074.8 L949.5 1074.5 L951.5 1074.2 L953.5 1073.9 L955.4 1073.6 L957.4 1073.3 L959.4 1073.0 L961.4 1072.7 L963.3 1072.3 L965.3 1072.0 L967.3 1071.6 L969.3 1071.3 L971.2 1071.0 L973.2 1070.6 L975.2 1070.2 L977.1 1069.9 L979.1 1069.5 L981.1 1069.1 L983.0 1068.7 L985.0 1068.3 L986.9 1067.8 L988.9 1067.3 L990.8 1066.8 L992.7 1066.3 L994.6 1065.7 L996.5 1065.2 L998.5 1064.6 L1000.4 1064.1 L1002.3 1063.6 L1004.3 1063.0 L1006.2 1062.5 L1008.1 1062.0 L1010.0 1061.4 L1012.0 1060.9 L1013.9 1060.4 L1015.8 1059.8 L1017.7 1059.3 L1019.7 1058.7 L1021.6 1058.2 L1023.5 1057.6 L1025.4 1057.1 L1027.4 1056.6 L1029.3 1056.0 L1031.2 1055.5 L1033.2 1055.0 L1035.1 1054.4 L1037.0 1053.9 L1038.9 1053.3 L1040.9 1052.8 L1042.8 1052.3 L1044.7 1051.8 L1046.7 1051.2 L1048.6 1050.7 L1050.5 1050.2 L1052.5 1049.7 L1054.4 1049.2 L1056.3 1048.7 L1058.3 1048.2 L1060.2 1047.7 L1062.1 1047.2 L1064.1 1046.7 L1066.0 1046.2 L1067.9 1045.7 L1069.9 1045.2 L1071.8 1044.7 L1073.8 1044.2 L1075.7 1043.7 L1077.6 1043.2 L1079.5 1042.6 L1081.5 1042.1 L1083.4 1041.5 L1085.3 1041.0 L1087.2 1040.4 L1089.1 1039.7 L1091.0 1039.1 L1092.9 1038.4 L1094.7 1037.6 L1096.6 1036.9 L1098.4 1036.2 L1100.3 1035.4 L1102.2 1034.7 L1104.1 1034.1 L1106.0 1033.4 L1107.9 1032.8 L1109.8 1032.2 L1111.7 1031.7 L1113.6 1031.2 L1115.6 1030.7 L1117.5 1030.3 L1119.5 1029.8 L1121.4 1029.4 L1123.4 1029.0 L1125.4 1028.6 L1127.3 1028.2 L1129.3 1027.8 L1131.2 1027.4 L1133.2 1027.0 L1135.2 1026.6 L1137.1 1026.2 L1139.1 1025.8 L1141.0 1025.4 L1143.0 1025.0 L1145.0 1024.6 L1146.9 1024.2 L1148.9 1023.8 L1150.8 1023.3 L1152.8 1022.9 L1154.7 1022.4 L1156.6 1021.9 L1158.6 1021.4 L1160.5 1020.8 L1162.4 1020.2 L1164.3 1019.6 L1166.2 1019.0 L1168.1 1018.3 L1169.9 1017.5 L1171.8 1016.8 L1173.6 1016.0 L1175.5 1015.2 L1177.3 1014.4 L1179.1 1013.5 L1180.9 1012.7 L1182.7 1011.8 L1184.5 1011.0 L1186.3 1010.1 L1188.2 1009.3 L1190.0 1008.6 L1191.9 1007.8 L1193.7 1007.0 L1195.6 1006.3 L1197.4 1005.6 L1199.3 1004.9 L1201.2 1004.2 L1203.0 1003.4 L1204.9 1002.7 L1206.8 1002.0 L1208.7 1001.3 L1210.5 1000.6 L1212.4 999.9 L1214.3 999.2 L1216.2 998.5 L1218.0 997.9 L1219.9 997.2 L1221.8 996.5 L1223.7 995.8 L1225.6 995.2 L1227.5 994.5 L1229.4 993.8 L1231.2 993.2 L1233.1 992.6 L1235.0 992.0 L1237.0 991.4 L1238.9 990.8 L1240.8 990.2 L1242.7 989.7 L1244.6 989.1 L1246.6 988.6 L1248.5 988.1 L1250.4 987.6 L1252.4 987.1 L1254.3 986.6 L1256.2 986.1 L1258.2 985.5 L1260.1 985.0 L1262.0 984.5 L1263.9 983.9 L1265.8 983.3 L1267.7 982.7 L1269.6 982.0 L1271.5 981.3 L1273.4 980.6 L1275.2 979.8 L1277.0 978.9 L1278.8 978.0 L1280.5 977.0 L1282.2 976.0 L1283.9 974.9 L1285.6 973.8 L1287.2 972.6 L1288.8 971.5 L1290.4 970.3 L1292.0 969.1 L1293.6 967.9 L1295.3 966.7 L1296.9 965.6 L1298.5 964.4 L1300.2 963.4 L1302.0 962.4 L1303.7 961.4 L1305.5 960.5 L1307.3 959.6 L1309.1 958.7 L1310.9 957.9 L1312.7 957.1 L1314.5 956.2 L1316.4 955.4 L1318.2 954.6 L1320.0 953.7 L1321.8 952.8 L1323.6 951.9 L1325.3 951.0 L1327.0 949.9 L1328.7 948.9 L1330.4 947.8 L1332.0 946.6 L1333.7 945.5 L1335.2 944.3 L1336.8 943.0 L1338.4 941.8 L1339.9 940.5 L1341.5 939.2 L1343.0 938.0 L1344.5 936.7 L1346.1 935.4 L1347.6 934.1 L1349.1 932.8 L1350.7 931.5 L1352.2 930.3 L1353.8 929.0 L1355.3 927.8 L1356.9 926.5 L1358.5 925.3 L1360.1 924.1 L1361.6 922.8 L1363.2 921.6 L1364.8 920.4 L1366.4 919.2 L1368.0 918.0 L1369.6 916.7 L1371.2 915.5 L1372.8 914.3 L1374.4 913.1 L1376.0 911.9 L1377.6 910.7 L1379.2 909.6 L1380.8 908.4 L1382.5 907.3 L1384.1 906.2 L1385.8 905.1 L1387.5 904.0 L1389.2 903.0 L1391.0 902.0 L1392.7 901.0 L1394.5 900.1 L1396.3 899.2 L1398.1 898.4 L1399.9 897.6 L1401.8 896.9 L1403.7 896.4 L1405.7 896.0 L1407.6 895.5 L1409.6 895.1 L1411.5 894.7 L1413.5 894.3 L1415.4 893.9 L1417.4 893.5 L1419.4 893.1 L1421.3 892.7 L1423.3 892.4 L1425.2 892.0 L1427.2 891.6 L1429.2 891.1 L1431.1 890.7 L1433.1 890.2 L1435.0 889.7 L1436.9 889.2 L1438.8 888.7 L1440.8 888.1 L1442.6 887.4 L1444.5 886.7 L1446.4 885.9 L1448.2 885.1 L1450.0 884.2 L1451.7 883.2 L1453.4 882.2 L1455.1 881.2 L1456.8 880.0 L1458.4 878.9 L1460.0 877.7 L1461.6 876.5 L1463.1 875.2 L1464.7 873.9 L1466.2 872.6 L1467.7 871.3 L1469.2 870.0 L1470.7 868.6 L1472.1 867.3 L1473.6 865.9 L1475.0 864.5 L1476.5 863.1 L1477.9 861.7 L1479.3 860.3 L1480.8 858.9 L1482.2 857.5 L1483.5 856.0 L1484.9 854.6 L1486.3 853.1 L1487.6 851.6 L1488.9 850.1 L1490.2 848.6 L1491.5 847.1 L1492.8 845.5 L1494.0 844.0 L1495.3 842.4 L1496.5 840.8 L1497.7 839.2 L1498.9 837.6 L1500.0 836.0 L1501.2 834.3 L1502.3 832.7 L1503.4 831.0 L1504.4 829.3 L1505.4 827.6 L1506.4 825.8 L1507.4 824.1 L1508.4 822.3 L1509.3 820.6 L1510.2 818.8 L1511.2 817.0 L1512.1 815.3 L1513.0 813.5 L1513.9 811.7 L1514.8 809.9 L1515.8 808.1 L1516.7 806.4 L1517.6 804.6 L1518.6 802.9 L1519.6 801.1 L1520.6 799.4 L1521.5 797.6 L1522.5 795.9 L1523.5 794.1 L1524.4 792.4 L1525.4 790.6 L1526.3 788.9 L1527.3 787.1 L1528.3 785.4 L1529.3 783.7 L1530.4 782.0 L1531.5 780.3 L1532.7 778.7 L1534.0 777.2 L1535.4 775.8 L1536.9 774.4 L1538.5 773.2 L1540.2 772.2 L1541.9 771.3 L1543.8 770.6 L1545.7 770.0 L1547.7 769.6 L1549.6 769.4 L1551.6 769.3 L1553.6 769.4 L1555.6 769.8 L1557.5 770.3 L1559.4 771.0 L1561.2 771.8 L1563.0 772.6 L1564.9 773.4 L1566.7 774.2 L1568.5 774.9 L1570.4 775.6 L1572.3 776.1 L1574.3 776.6 L1576.2 777.1 L1578.2 777.5 L1580.2 777.8 L1582.1 778.0 L1584.1 778.0 L1586.1 777.8 L1588.1 777.4 L1590.0 777.0 L1591.9 776.4 L1593.8 775.8 L1595.7 775.0 L1597.5 774.2 L1599.2 773.2 L1600.9 772.2 L1602.6 771.1 L1604.1 769.8 L1605.6 768.4 L1606.9 767.0 L1608.2 765.5 L1609.5 763.9 L1610.7 762.3 L1611.8 760.7 L1613.0 759.0 L1614.2 757.4 L1615.3 755.8 L1616.5 754.2 L1617.8 752.6 L1619.0 751.1 L1620.3 749.5 L1621.6 748.0 L1622.9 746.5 L1624.2 744.9 L1625.4 743.4 L1626.7 741.9 L1628.0 740.4 L1629.4 738.9 L1630.8 737.4 L1632.2 736.1 L1633.8 734.8 L1635.4 733.7 L1637.2 732.8 L1639.1 732.4 L1641.0 732.3 L1643.0 732.5 L1644.9 732.9 L1646.9 733.2 L1648.8 733.4 L1650.8 733.2 L1652.7 732.7 L1654.4 732.0 L1656.1 731.0 L1657.7 729.8 L1659.2 728.5 L1660.6 727.1 L1661.9 725.6 L1663.1 724.0 L1664.3 722.4 L1665.4 720.7 L1666.5 719.0 L1667.5 717.3 L1668.5 715.6 L1669.5 713.9 L1670.5 712.1 L1671.5 710.4 L1672.4 708.6 L1673.4 706.9 L1674.3 705.1 L1675.3 703.3 L1676.2 701.6 L1677.2 699.8 L1678.1 698.1 L1679.1 696.3 L1680.0 694.5 L1680.9 692.8 L1681.9 691.0 L1682.8 689.2 L1683.8 687.5 L1684.8 685.7 L1685.8 684.0 L1686.8 682.3 L1687.9 680.6 L1689.0 678.9 L1690.1 677.3 L1691.2 675.6 L1692.3 673.9 L1693.4 672.3 L1694.6 670.6 L1695.7 669.0 L1696.9 667.4 L1698.1 665.8 L1699.3 664.2 L1700.6 662.7 L1701.9 661.1 L1703.2 659.7 L1704.6 658.2 L1706.0 656.8 L1707.5 655.5 L1709.0 654.2 L1710.5 652.9 L1712.1 651.6 L1713.7 650.4 L1715.3 649.2 L1716.9 648.0 L1718.5 646.8 L1720.1 645.6 L1721.6 644.4 L1723.1 643.1 L1724.5 641.7 L1725.8 640.2 L1727.0 638.7 L1728.2 637.1 L1729.3 635.4 L1730.5 633.9 L1731.8 632.4 L1733.2 631.1 L1734.8 629.8 L1736.3 628.5 L1737.9 627.3 L1739.4 626.1 L1741.0 624.8 L1742.5 623.5 L1744.0 622.2 L1745.5 620.8 L1746.9 619.4 L1748.3 618.0 L1749.6 616.5 L1750.8 614.9 L1752.1 613.4 L1753.2 611.7 L1754.4 610.1 L1755.5 608.4 L1756.6 606.8 L1757.7 605.1 L1758.7 603.4 L1759.8 601.7 L1760.8 600.0 L1761.8 598.2 L1762.8 596.5 L1763.7 594.7 L1764.6 593.0 L1765.5 591.2 L1766.4 589.4 L1767.3 587.6 L1768.1 585.7 L1768.9 583.9 L1769.7 582.1 L1770.5 580.2 L1771.2 578.4 L1772.0 576.5 L1772.7 574.7 L1773.4 572.8 L1774.1 570.9 L1774.8 569.1 L1775.5 567.2 L1776.2 565.3 L1776.9 563.4 L1777.6 561.5 L1778.2 559.7 L1778.9 557.8 L1779.5 555.9 L1780.1 554.0 L1780.8 552.1 L1781.4 550.2 L1782.0 548.3 L1782.6 546.4 L1783.3 544.5 L1783.9 542.6 L1784.5 540.7 L1785.1 538.7 L1785.6 536.8 L1786.2 534.9 L1786.8 533.0 L1787.3 531.1 L1787.9 529.1 L1788.4 527.2 L1788.9 525.3 L1789.4 523.4 L1789.9 521.4 L1790.4 519.5 L1790.9 517.5 L1791.4 515.6 L1792.0 513.7 L1792.5 511.7 L1793.0 509.8 L1793.5 507.9 L1794.0 505.9 L1794.5 504.0 L1795.0 502.1 L1795.5 500.1 L1796.0 498.2 L1796.4 496.2 L1796.9 494.3 L1797.4 492.4 L1797.9 490.4 L1798.4 488.5 L1798.9 486.6 L1799.4 484.6 L1799.9 482.7 L1800.4 480.7 L1800.8 478.8 L1801.3 476.9 L1801.8 474.9 L1802.3 473.0 L1802.8 471.0 L1803.3 469.1 L1803.7 467.1 L1804.2 465.2 L1804.7 463.3 L1805.2 461.3 L1805.7 459.4 L1806.3 457.5 L1806.8 455.5 L1807.3 453.6 L1807.8 451.7 L1808.4 449.8 L1808.9 447.8 L1809.5 445.9 L1810.0 444.0 L1810.6 442.1 L1811.1 440.1 L1811.6 438.2 L1812.2 436.3 L1812.7 434.3 L1813.2 432.4 L1813.6 430.5 L1814.1 428.5 L1814.5 426.6 L1815.0 424.6 L1815.4 422.7 L1815.8 420.7 L1816.2 418.7 L1816.6 416.8 L1817.0 414.8 L1817.4 412.9 L1817.7 410.9 L1818.1 408.9 L1818.5 407.0 L1818.8 405.0 L1819.2 403.0 L1819.6 401.1 L1820.0 399.1 L1820.4 397.1 L1820.7 395.2 L1821.1 393.2 L1821.5 391.2 L1821.9 389.3 L1822.2 387.3 L1822.6 385.3 L1823.0 383.4 L1823.4 381.4 L1823.8 379.5 L1824.2 377.5 L1824.5 375.5 L1824.9 373.6 L1825.3 371.6 L1825.7 369.7 L1826.1 367.7 L1826.5 365.7 L1826.9 363.8 L1827.3 361.8 L1827.7 359.8 L1828.1 357.9 L1828.5 355.9 L1828.9 354.0 L1829.3 352.0 L1829.7 350.1 L1830.1 348.1 L1830.5 346.1 L1831.0 344.2 L1831.4 342.2 L1831.8 340.3 L1832.3 338.3 L1832.7 336.4 L1833.1 334.4 L1833.6 332.5 L1834.0 330.5 L1834.4 328.6 L1834.9 326.6 L1835.3 324.7 L1835.8 322.7 L1836.2 320.8 L1836.7 318.8 L1837.1 316.9 L1837.5 314.9 L1838.0 313.0 L1838.4 311.0 L1838.9 309.1 L1839.3 307.1 L1839.8 305.2 L1840.2 303.2 L1840.7 301.3 L1841.1 299.3 L1841.6 297.4 L1842.0 295.4 L1842.4 293.5 L1842.9 291.5 L1843.3 289.6 L1843.7 287.6 L1844.1 285.6 L1844.4 283.7 L1844.8 281.7 L1845.2 279.7 L1845.6 277.8 L1845.9 275.8 L1846.3 273.8 L1846.7 271.9 L1847.1 269.9 L1847.5 268.0 L1847.9 266.0 L1848.4 264.1 L1848.9 262.1 L1849.4 260.2 L1849.9 258.3 L1850.5 256.3 L1851.0 254.4 L1851.6 252.5 L1852.1 250.6 L1852.7 248.7 L1853.2 246.7 L1853.6 244.8 L1854.1 242.8 L1854.5 240.9 L1854.9 238.9 L1855.3 237.0 L1855.7 235.0 L1856.1 233.0 L1856.6 231.1 L1857.1 229.2 L1857.6 227.3 L1858.2 225.4 L1858.9 223.5 L1859.6 221.6 L1860.4 219.8 L1861.3 218.0 L1862.2 216.2 L1863.2 214.6 L1864.4 213.0 L1865.7 211.6 L1867.1 210.4 L1868.7 209.5 L1870.3 209.0 L1872.0 209.0 L1873.6 209.6 L1875.1 210.5 L1876.4 211.8 L1877.6 213.3 L1878.6 215.0 L1879.4 216.8 L1880.2 218.6 L1880.9 220.5 L1881.6 222.4 L1882.3 224.3 L1882.9 226.1 L1883.5 228.1 L1884.1 230.0 L1884.6 231.9 L1885.2 233.8 L1885.7 235.8 L1886.1 237.7 L1886.6 239.6 L1887.0 241.6 L1887.4 243.6 L1887.8 245.5 L1888.2 247.5 L1888.6 249.4 L1889.0 251.4 L1889.4 253.3 L1889.9 255.3 L1890.3 257.2 L1890.8 259.2 L1891.3 261.1 L1891.8 263.1 L1892.3 265.0 L1892.8 266.9 L1893.3 268.9 L1893.8 270.8 L1894.3 272.8 L1894.8 274.7 L1895.2 276.6 L1895.7 278.6 L1896.2 280.5 L1896.6 282.5 L1897.1 284.4 L1897.5 286.4 L1897.8 288.3 L1898.2 290.3 L1898.6 292.3 L1899.0 294.2 L1899.4 296.2 L1899.8 298.1 L1900.2 300.1 L1900.6 302.1 L1901.0 304.0 L1901.4 306.0 L1901.8 307.9 L1902.2 309.9 L1902.6 311.9 L1903.1 313.8 L1903.5 315.8 L1903.9 317.7 L1904.3 319.7 L1904.7 321.6 L1905.1 323.6 L1905.5 325.6 L1905.9 327.5 L1906.3 329.5 L1906.7 331.4 L1907.2 333.4 L1907.6 335.3 L1908.0 337.3 L1908.4 339.3 L1908.8 341.2 L1909.3 343.2 L1909.7 345.1 L1910.1 347.1 L1910.5 349.0 L1911.0 351.0 L1911.4 352.9 L1911.8 354.9 L1912.3 356.8 L1912.7 358.8 L1913.2 360.7 L1913.7 362.7 L1914.1 364.6 L1914.6 366.6 L1915.1 368.5 L1915.6 370.4 L1916.1 372.4 L1916.6 374.3 L1917.1 376.2 L1917.6 378.2 L1918.1 380.1 L1918.7 382.0 L1919.2 384.0 L1919.7 385.9 L1920.3 387.8 L1920.8 389.7 L1921.3 391.7 L1921.9 393.6 L1922.4 395.5 L1922.9 397.5 L1923.4 399.4 L1924.0 401.3 L1924.5 403.3 L1925.0 405.2 L1925.5 407.1 L1926.0 409.1 L1926.6 411.0 L1927.1 412.9 L1927.6 414.8 L1928.1 416.8 L1928.6 418.7 L1929.2 420.6 L1929.7 422.6 L1930.2 424.5 L1930.7 426.4 L1931.2 428.4 L1931.7 430.3 L1932.2 432.2 L1932.7 434.2 L1933.2 436.1 L1933.7 438.1 L1934.2 440.0 L1934.7 441.9 L1935.1 443.9 L1935.6 445.8 L1936.0 447.8 L1936.5 449.7 L1936.9 451.7 L1937.4 453.6 L1937.8 455.6 L1938.3 457.5 L1938.7 459.5 L1939.1 461.4 L1939.6 463.4 L1940.0 465.3 L1940.4 467.3 L1940.9 469.2 L1941.3 471.2 L1941.7 473.1 L1942.2 475.1 L1942.6 477.0 L1943.1 479.0 L1943.5 480.9 L1944.0 482.9 L1944.5 484.8 L1944.9 486.8 L1945.4 488.7 L1945.9 490.7 L1946.3 492.6 L1946.8 494.6 L1947.3 496.5 L1947.8 498.4 L1948.2 500.4 L1948.7 502.3 L1949.2 504.3 L1949.6 506.2 L1950.1 508.2 L1950.5 510.1 L1950.9 512.1 L1951.3 514.0 L1951.8 516.0 L1952.2 517.9 L1952.6 519.9 L1953.1 521.8 L1953.6 523.8 L1954.1 525.7 L1954.7 527.6 L1955.2 529.5 L1955.8 531.5 L1956.4 533.4 L1957.0 535.3 L1957.6 537.2 L1958.1 539.1 L1958.7 541.0 L1959.3 542.9 L1959.9 544.8 L1960.6 546.7 L1961.2 548.6 L1961.8 550.5 L1962.4 552.4 L1963.0 554.3 L1963.7 556.2 L1964.3 558.1 L1964.9 560.0 L1965.6 561.9 L1966.2 563.8 L1966.9 565.7 L1967.6 567.6 L1968.2 569.5 L1968.9 571.4 L1969.6 573.2 L1970.3 575.1 L1970.9 577.0 L1971.6 578.9 L1972.3 580.8 L1973.0 582.6 L1973.6 584.5 L1974.3 586.4 L1975.0 588.3 L1975.6 590.2 L1976.3 592.1 L1976.9 594.0 L1977.6 595.9 L1978.2 597.8 L1978.9 599.6 L1979.5 601.5 L1980.1 603.4 L1980.8 605.3 L1981.4 607.2 L1982.0 609.1 L1982.7 611.0 L1983.3 612.9 L1983.9 614.8 L1984.5 616.7 L1985.2 618.6 L1985.8 620.5 L1986.4 622.4 L1987.0 624.3 L1987.7 626.2 L1988.3 628.1 L1988.9 630.0 L1989.6 631.9 L1990.2 633.8 L1990.8 635.7 L1991.5 637.6 L1992.1 639.5 L1992.8 641.4 L1993.4 643.3 L1994.1 645.2 L1994.7 647.1 L1995.4 649.0 L1996.0 650.9 L1996.6 652.8 L1997.3 654.7 L1997.9 656.6 L1998.5 658.5 L1999.2 660.4 L1999.8 662.3 L2000.4 664.2 L2001.0 666.1 L2001.6 668.0 L2002.2 669.9 L2002.8 671.8 L2003.4 673.7 L2004.0 675.6 L2004.5 677.5 L2005.1 679.4 L2005.7 681.4 L2006.2 683.3 L2006.8 685.2 L2007.4 687.1 L2008.0 689.0 L2008.5 690.9 L2009.1 692.9 L2009.6 694.8 L2010.2 696.7 L2010.8 698.6 L2011.3 700.5 L2011.9 702.5 L2012.5 704.4 L2013.0 706.3 L2013.6 708.2 L2014.2 710.1 L2014.8 712.0 L2015.3 714.0 L2015.9 715.9 L2016.5 717.8 L2017.1 719.7 L2017.7 721.6 L2018.3 723.5 L2018.9 725.4 L2019.5 727.3 L2020.1 729.2 L2020.7 731.1 L2021.4 733.0 L2022.1 734.9 L2022.8 736.8 L2023.5 738.6 L2024.2 740.5 L2025.0 742.4 L2025.7 744.2 L2026.6 746.0 L2027.4 747.8 L2028.2 749.7 L2029.1 751.5 L2029.9 753.3 L2030.8 755.1 L2031.6 756.9 L2032.4 758.7 L2033.2 760.6 L2033.9 762.4 L2034.6 764.3 L2035.3 766.2 L2036.0 768.1 L2036.7 769.9 L2037.4 771.8 L2038.1 773.7 L2038.8 775.6 L2039.5 777.4 L2040.3 779.3 L2041.0 781.1 L2041.9 782.9 L2042.7 784.8 L2043.6 786.6 L2044.4 788.4 L2045.4 790.1 L2046.3 791.9 L2047.2 793.7 L2048.2 795.4 L2049.2 797.2 L2050.1 798.9 L2051.1 800.7 L2052.1 802.4 L2053.1 804.1 L2054.1 805.9 L2055.1 807.6 L2056.2 809.3 L2057.2 811.0 L2058.3 812.7 L2059.3 814.4 L2060.4 816.1 L2061.5 817.7 L2062.7 819.3 L2063.9 820.9 L2065.2 822.4 L2066.5 823.7 L2068.0 824.7 L2069.7 825.5 L2071.4 825.9 L2073.2 826.2 L2074.9 826.5 L2076.6 827.1 L2078.2 828.0 L2079.6 829.2 L2081.0 830.6 L2082.2 832.1 L2083.4 833.7 L2084.6 835.3 L2085.7 837.0 L2086.9 838.6 L2088.0 840.3 L2089.1 842.0 L2090.2 843.7 L2091.2 845.3 L2092.3 847.0 L2093.3 848.8 L2094.3 850.5 L2095.3 852.3 L2096.2 854.0 L2097.2 855.8 L2098.2 857.5 L2099.2 859.2 L2100.2 860.9 L2101.3 862.6 L2102.4 864.2 L2103.7 865.8 L2105.0 867.3 L2106.5 868.6 L2108.0 869.9 L2109.7 871.0 L2111.4 872.0 L2113.2 872.9 L2114.9 873.9 L2116.7 874.8 L2118.4 875.8 L2120.2 876.8 L2121.9 877.7 L2123.7 878.6 L2125.4 879.7 L2127.0 880.9 L2128.5 882.2 L2129.9 883.6 L2131.2 885.1 L2132.5 886.7 L2133.6 888.3 L2134.8 889.9 L2135.9 891.6 L2137.0 893.2 L2138.1 894.9 L2139.2 896.6 L2140.3 898.3 L2141.3 900.0 L2142.4 901.7 L2143.4 903.4 L2144.5 905.1 L2145.6 906.8 L2146.7 908.4 L2147.7 910.0 L2148.7 911.0 L2149.6 911.4 L2150.6 911.9 L2151.9 913.0 L2153.3 914.4 L2154.7 915.8 L2156.1 917.2 L2157.5 918.6 L2159.0 919.9 L2160.6 921.1 L2162.3 922.2 L2164.1 923.0 L2166.0 923.5 L2168.0 923.7 L2169.9 923.7 L2171.9 923.6 L2173.9 923.4 L2175.9 923.3 L2177.6 923.3 L2179.0 923.8 L2180.3 924.8 L2181.8 926.0 L2183.4 927.2 L2185.0 928.5 L2186.5 929.7 L2188.0 931.0 L2189.5 932.3 L2191.0 933.7 L2192.4 935.1 L2193.8 936.5 L2195.2 938.0 L2196.6 939.4 L2197.8 941.0 L2199.0 942.6 L2200.1 944.2 L2201.1 946.0 L2201.9 947.8 L2202.6 949.7 L2203.4 951.5 L2204.2 953.3 L2205.2 955.0 L2206.3 956.7 L2207.5 958.3 L2208.7 959.9 L2209.9 961.5 L2211.1 963.1 L2212.4 964.7 L2213.6 966.2 L2214.9 967.8 L2216.2 969.3 L2217.5 970.8 L2218.8 972.3 L2220.2 973.6 L2221.7 974.4 L2223.3 974.7 L2224.9 975.4 L2226.3 976.5 L2227.8 977.9 L2229.1 979.3 L2230.6 980.7 L2232.0 982.1 L2233.6 983.4 L2235.2 984.5 L2236.9 985.5 L2238.7 986.5 L2240.4 987.5 L2242.1 988.6 L2243.7 989.7 L2245.3 991.0 L2246.8 992.2 L2248.4 993.5 L2250.0 994.7 L2251.6 995.8 L2253.4 996.8 L2255.2 997.6 L2257.1 998.2 L2259.0 998.7 L2261.0 999.1 L2262.9 999.6 L2264.8 1000.2 L2266.7 1000.9 L2268.5 1001.8 L2270.2 1002.7 L2272.0 1003.7 L2273.7 1004.8 L2275.3 1005.9 L2276.9 1007.1 L2278.5 1008.4 L2279.9 1009.7 L2281.3 1011.1 L2282.7 1012.6 L2283.9 1014.2 L2285.2 1015.7 L2286.4 1017.3 L2287.7 1018.8 L2289.0 1020.3 L2290.4 1021.8 L2291.8 1023.2 L2293.2 1024.6 L2294.7 1025.9 L2296.2 1027.2 L2297.7 1028.6 L2299.2 1029.9 L2300.8 1031.2 L2302.3 1032.5 L2303.8 1033.8 L2305.3 1035.1 L2306.7 1036.5 L2308.2 1037.8 L2309.7 1039.2 L2311.2 1040.5 L2312.7 1041.9 L2314.1 1043.2 L2315.6 1044.6 L2316.9 1046.1 L2318.3 1047.5 L2319.5 1049.1 L2320.7 1050.7 L2321.8 1052.4 L2322.9 1054.1 L2323.9 1055.8 L2324.8 1057.6 L2325.7 1059.4 L2326.6 1061.1 L2327.5 1062.9 L2328.4 1064.7 L2329.3 1066.5 L2330.2 1068.3 L2331.0 1070.1 L2331.8 1071.9 L2332.6 1073.8 L2333.5 1075.6 L2334.3 1077.4 L2335.2 1079.2 L2336.1 1081.0 L2337.1 1082.7 L2338.2 1084.4 L2339.4 1086.0 L2340.6 1087.6 L2341.9 1089.1 L2343.1 1090.7 L2344.5 1092.2 L2345.9 1093.6 L2347.3 1095.0 L2348.8 1096.3 L2350.3 1097.6 L2352.0 1098.6 L2353.8 1099.5 L2355.7 1100.0 L2357.6 1100.1 L2359.6 1100.0 L2361.6 1099.7 L2363.5 1099.4 L2365.5 1099.3 L2367.5 1099.6 L2369.4 1100.1 L2371.2 1100.9 L2373.0 1101.8 L2374.7 1102.8 L2376.3 1104.0 L2377.8 1105.3 L2379.2 1106.7 L2380.4 1108.3 L2381.5 1109.9 L2382.6 1111.7 L2383.5 1113.4 L2384.3 1115.2 L2385.1 1117.1 L2385.8 1118.9 L2386.6 1120.8 L2387.2 1122.7 L2387.9 1124.6 L2388.6 1126.4 L2389.3 1128.3 L2389.9 1130.2 L2390.6 1132.1 L2391.3 1134.0 L2391.9 1135.9 L2392.6 1137.8 L2393.2 1139.7 L2393.8 1141.6 L2394.4 1143.5 L2395.0 1145.4 L2395.7 1147.3 L2396.3 1149.2 L2396.9 1151.1 L2397.5 1153.0 L2398.1 1154.9 L2398.8 1156.8 L2399.4 1158.7 L2400.1 1160.6 L2400.8 1162.4 L2401.5 1164.3 L2402.1 1166.2 L2402.8 1168.1 L2403.5 1169.9 L2404.3 1171.8 L2405.0 1173.7 L2405.7 1175.5 L2406.4 1177.4 L2407.2 1179.3 L2407.9 1181.1 L2408.7 1183.0 L2409.4 1184.8 L2410.0 1186.7 L2410.6 1188.6 L2411.2 1190.5 L2411.9 1192.4 L2412.9 1194.1 L2414.1 1195.7 L2415.6 1196.8 L2417.4 1197.7 L2419.3 1198.1 L2421.3 1198.4 L2423.2 1198.4 L2425.2 1198.4 L2427.2 1198.3 L2429.2 1198.2 L2431.2 1198.0 L2433.2 1197.8 L2435.2 1197.6 L2437.2 1197.5 L2438.2 1197.4" stroke="#222222"/>
<path d="M197.4 1067.2 L199.4 1067.2 L201.4 1067.1 L203.4 1067.1 L205.4 1067.1 L207.4 1067.0 L209.4 1067.0 L211.4 1066.8 L213.4 1066.7 L215.4 1066.5 L217.4 1066.3 L219.3 1066.0 L221.3 1065.7 L223.3 1065.3 L225.3 1065.0 L227.2 1064.6 L229.2 1064.2 L231.1 1063.7 L233.1 1063.3 L235.0 1062.9 L237.0 1062.5 L238.9 1062.1 L240.9 1061.7 L242.9 1061.3 L244.8 1060.9 L246.8 1060.6 L248.8 1060.2 L250.7 1059.9 L252.7 1059.5 L254.7 1059.2 L256.7 1058.8 L258.6 1058.5 L260.6 1058.1 L262.6 1057.8 L264.5 1057.5 L266.5 1057.1 L268.5 1056.8 L270.5 1056.5 L272.4 1056.2 L274.4 1055.9 L276.4 1055.6 L278.4 1055.3 L280.4 1055.1 L282.3 1054.8 L284.3 1054.6 L286.3 1054.3 L288.3 1054.1 L290.3 1053.9 L292.3 1053.7 L294.3 1053.5 L296.3 1053.3 L298.3 1053.1 L300.2 1052.9 L302.2 1052.8 L304.2 1052.6 L306.2 1052.4 L308.2 1052.3 L310.2 1052.1 L312.2 1052.0 L314.2 1051.8 L316.2 1051.7 L318.2 1051.6 L320.2 1051.5 L322.2 1051.6 L324.1 1051.8 L326.1 1052.1 L328.1 1052.2 L330.1 1052.3 L332.1 1052.3 L334.1 1052.2 L336.1 1052.0 L338.1 1051.9 L340.1 1051.8 L342.0 1051.7 L344.0 1051.6 L346.0 1051.5 L348.0 1051.5 L350.0 1051.5 L352.0 1051.5 L354.0 1051.6 L356.0 1051.7 L358.0 1051.9 L360.0 1052.0 L362.0 1052.2 L364.0 1052.5 L366.0 1052.7 L368.0 1052.9 L370.0 1053.1 L372.0 1053.3 L373.9 1053.5 L375.9 1053.7 L377.9 1053.9 L379.9 1054.0 L381.9 1054.2 L383.9 1054.3 L385.9 1054.3 L387.9 1054.4 L389.9 1054.4 L391.9 1054.4 L393.9 1054.4 L395.9 1054.3 L397.9 1054.3 L399.9 1054.2 L401.9 1054.1 L403.9 1054.0 L405.9 1053.8 L407.9 1053.7 L409.9 1053.5 L411.9 1053.4 L413.9 1053.2 L415.9 1053.0 L417.9 1052.8 L419.8 1052.5 L421.8 1052.3 L423.8 1052.1 L425.8 1051.8 L427.8 1051.5 L429.8 1051.3 L431.7 1051.0 L433.7 1050.7 L435.7 1050.5 L437.7 1050.2 L439.7 1049.9 L441.6 1049.6 L443.6 1049.4 L445.6 1049.1 L447.6 1048.8 L449.6 1048.6 L451.6 1048.3 L453.5 1048.1 L455.5 1047.8 L457.5 1047.5 L459.5 1047.3 L461.5 1047.0 L463.5 1046.8 L465.4 1046.5 L467.4 1046.2 L469.4 1046.0 L471.4 1045.7 L473.4 1045.5 L475.4 1045.2 L477.3 1044.9 L479.3 1044.7 L481.3 1044.4 L483.3 1044.1 L485.3 1043.9 L487.3 1043.6 L489.2 1043.4 L491.2 1043.1 L493.2 1042.8 L495.2 1042.6 L497.2 1042.3 L499.2 1042.0 L501.1 1041.8 L503.1 1041.5 L505.1 1041.2 L507.1 1041.0 L509.1 1040.7 L511.0 1040.4 L513.0 1040.2 L515.0 1039.9 L517.0 1039.6 L519.0 1039.3 L521.0 1039.1 L522.9 1038.8 L524.9 1038.5 L526.9 1038.2 L528.9 1038.0 L530.9 1037.7 L532.8 1037.4 L534.8 1037.1 L536.8 1036.9 L538.8 1036.6 L540.8 1036.3 L542.7 1036.1 L544.7 1035.8 L546.7 1035.5 L548.7 1035.3 L550.7 1035.0 L552.7 1034.8 L554.7 1034.6 L556.6 1034.3 L558.6 1034.1 L560.6 1033.9 L562.6 1033.7 L564.6 1033.5 L566.6 1033.3 L568.6 1033.1 L570.6 1033.0 L572.6 1032.8 L574.6 1032.7 L576.6 1032.5 L578.6 1032.4 L580.6 1032.3 L582.6 1032.2 L584.5 1032.1 L586.5 1031.9 L588.5 1031.8 L590.5 1031.7 L592.5 1031.6 L594.5 1031.5 L596.5 1031.4 L598.5 1031.3 L600.5 1031.2 L602.5 1031.0 L604.5 1030.9 L606.5 1030.8 L608.5 1030.7 L610.5 1030.6 L612.5 1030.5 L614.5 1030.4 L616.5 1030.2 L618.5 1030.1 L620.5 1030.0 L622.5 1029.9 L624.5 1029.8 L626.5 1029.7 L628.5 1029.6 L630.5 1029.5 L632.5 1029.4 L634.5 1029.3 L636.5 1029.2 L638.5 1029.2 L640.5 1029.1 L642.5 1029.0 L644.5 1028.9 L646.5 1028.8 L648.5 1028.7 L650.5 1028.7 L652.5 1028.6 L654.5 1028.5 L656.5 1028.5 L658.5 1028.4 L660.5 1028.4 L662.5 1028.3 L664.5 1028.3 L666.5 1028.2 L668.5 1028.2 L670.5 1028.1 L672.5 1028.1 L674.5 1028.0 L676.5 1027.9 L678.5 1027.9 L680.5 1027.8 L682.5 1027.8 L684.5 1027.7 L686.5 1027.6 L688.5 1027.6 L690.5 1027.5 L692.5 1027.4 L694.4 1027.3 L696.4 1027.2 L698.4 1027.1 L700.4 1027.0 L702.4 1026.9 L704.4 1026.8 L706.4 1026.7 L708.4 1026.5 L710.4 1026.4 L712.4 1026.2 L714.4 1026.0 L716.4 1025.8 L718.4 1025.6 L720.4 1025.4 L722.4 1025.2 L724.3 1024.9 L726.3 1024.7 L728.3 1024.4 L730.3 1024.1 L732.3 1023.9 L734.3 1023.6 L736.2 1023.3 L738.2 1023.0 L740.2 1022.7 L742.2 1022.4 L744.1 1022.1 L746.1 1021.8 L748.1 1021.5 L750.1 1021.2 L752.1 1020.9 L754.0 1020.6 L756.0 1020.3 L758.0 1020.0 L760.0 1019.7 L761.9 1019.4 L763.9 1019.0 L765.9 1018.7 L767.9 1018.4 L769.8 1018.0 L771.8 1017.7 L773.8 1017.3 L775.7 1017.0 L777.7 1016.7 L779.7 1016.3 L781.7 1016.0 L783.6 1015.7 L785.6 1015.4 L787.6 1015.0 L789.6 1014.7 L791.5 1014.4 L793.5 1014.1 L795.5 1013.8 L797.5 1013.6 L799.5 1013.3 L801.4 1013.0 L803.4 1012.8 L805.4 1012.5 L807.4 1012.2 L809.4 1012.0 L811.3 1011.7 L813.3 1011.4 L815.3 1011.2 L817.3 1010.9 L819.3 1010.7 L821.3 1010.5 L823.3 1010.2 L825.2 1010.0 L827.2 1009.7 L829.2 1009.5 L831.2 1009.3 L833.2 1009.1 L835.2 1008.8 L837.2 1008.6 L839.2 1008.4 L841.1 1008.2 L843.1 1008.0 L845.1 1007.8 L847.1 1007.6 L849.1 1007.5 L851.1 1007.3 L853.1 1007.1 L855.1 1007.0 L857.1 1006.8 L859.1 1006.7 L861.1 1006.6 L863.1 1006.4 L865.1 1006.3 L867.1 1006.2 L869.1 1006.1 L871.1 1006.0 L873.1 1005.9 L875.1 1005.8 L877.1 1005.7 L879.1 1005.6 L881.1 1005.5 L883.0 1005.4 L885.0 1005.4 L887.0 1005.3 L889.0 1005.2 L891.0 1005.1 L893.0 1005.0 L895.0 1005.0 L897.0 1004.9 L899.0 1004.8 L901.0 1004.7 L903.0 1004.6 L905.0 1004.6 L907.0 1004.5 L909.0 1004.4 L911.0 1004.3 L913.0 1004.2 L915.0 1004.1 L917.0 1004.1 L919.0 1004.0 L921.0 1003.9 L923.0 1003.9 L925.0 1003.8 L927.0 1003.7 L929.0 1003.7 L931.0 1003.6 L933.0 1003.5 L935.0 1003.5 L937.0 1003.4 L939.0 1003.3 L941.0 1003.2 L943.0 1003.1 L945.0 1003.0 L947.0 1002.9 L949.0 1002.8 L951.0 1002.7 L953.0 1002.6 L955.0 1002.5 L957.0 1002.4 L959.0 1002.2 L961.0 1002.1 L963.0 1002.0 L965.0 1001.8 L967.0 1001.7 L969.0 1001.6 L971.0 1001.4 L973.0 1001.3 L974.9 1001.1 L976.9 1001.0 L978.9 1000.8 L980.9 1000.7 L982.9 1000.5 L984.9 1000.3 L986.9 1000.2 L988.9 1000.0 L990.9 999.8 L992.9 999.7 L994.9 999.5 L996.9 999.3 L998.9 999.1 L1000.9 998.9 L1002.8 998.7 L1004.8 998.5 L1006.8 998.3 L1008.8 998.1 L1010.8 997.9 L1012.8 997.7 L1014.8 997.5 L1016.8 997.3 L1018.8 997.1 L1020.8 996.9 L1022.7 996.7 L1024.7 996.4 L1026.7 996.2 L1028.7 996.0 L1030.7 995.7 L1032.7 995.4 L1034.6 995.2 L1036.6 994.9 L1038.6 994.6 L1040.6 994.3 L1042.6 994.0 L1044.5 993.6 L1046.5 993.3 L1048.5 992.9 L1050.4 992.6 L1052.4 992.2 L1054.4 991.8 L1056.3 991.4 L1058.3 991.0 L1060.2 990.6 L1062.2 990.2 L1064.2 989.8 L1066.1 989.4 L1068.1 989.0 L1070.0 988.6 L1072.0 988.1 L1073.9 987.7 L1075.9 987.3 L1077.9 986.9 L1079.8 986.5 L1081.8 986.1 L1083.7 985.7 L1085.7 985.2 L1087.6 984.9 L1089.6 984.5 L1091.6 984.1 L1093.5 983.7 L1095.5 983.3 L1097.5 983.0 L1099.4 982.6 L1101.4 982.3 L1103.4 981.9 L1105.4 981.6 L1107.3 981.3 L1109.3 981.0 L1111.3 980.6 L1113.3 980.3 L1115.2 980.0 L1117.2 979.7 L1119.2 979.4 L1121.2 979.1 L1123.1 978.8 L1125.1 978.5 L1127.1 978.2 L1129.1 977.9 L1131.1 977.7 L1133.0 977.4 L1135.0 977.1 L1137.0 976.8 L1139.0 976.5 L1141.0 976.3 L1142.9 976.0 L1144.9 975.7 L1146.9 975.5 L1148.9 975.2 L1150.9 974.9 L1152.9 974.7 L1154.8 974.4 L1156.8 974.2 L1158.8 973.9 L1160.8 973.7 L1162.8 973.5 L1164.8 973.2 L1166.8 973.0 L1168.7 972.8 L1170.7 972.5 L1172.7 972.3 L1174.7 972.1 L1176.7 971.9 L1178.7 971.7 L1180.7 971.5 L1182.7 971.2 L1184.6 971.0 L1186.6 970.8 L1188.6 970.6 L1190.6 970.4 L1192.6 970.2 L1194.6 969.9 L1196.6 969.7 L1198.6 969.5 L1200.5 969.2 L1202.5 969.0 L1204.5 968.8 L1206.5 968.5 L1208.5 968.3 L1210.5 968.0 L1212.5 967.8 L1214.4 967.5 L1216.4 967.2 L1218.4 966.9 L1220.4 966.6 L1222.3 966.3 L1224.3 965.9 L1226.3 965.6 L1228.3 965.2 L1230.2 964.8 L1232.2 964.5 L1234.1 964.1 L1236.1 963.6 L1238.0 963.2 L1240.0 962.8 L1241.9 962.3 L1243.9 961.8 L1245.8 961.3 L1247.8 960.8 L1249.7 960.3 L1251.6 959.8 L1253.5 959.2 L1255.5 958.7 L1257.4 958.1 L1259.3 957.6 L1261.2 957.0 L1263.2 956.5 L1265.1 955.9 L1267.0 955.3 L1268.9 954.7 L1270.8 954.1 L1272.7 953.4 L1274.6 952.8 L1276.5 952.1 L1278.4 951.5 L1280.3 950.8 L1282.1 950.2 L1284.0 949.5 L1285.9 948.8 L1287.8 948.2 L1289.7 947.5 L1291.6 946.9 L1293.5 946.2 L1295.4 945.6 L1297.3 944.9 L1299.2 944.3 L1301.1 943.7 L1303.0 943.1 L1304.9 942.5 L1306.8 941.9 L1308.7 941.4 L1310.6 940.8 L1312.6 940.3 L1314.5 939.8 L1316.4 939.2 L1318.4 938.7 L1320.3 938.2 L1322.2 937.6 L1324.1 937.1 L1326.1 936.6 L1328.0 936.0 L1329.9 935.4 L1331.8 934.9 L1333.7 934.3 L1335.6 933.7 L1337.5 933.0 L1339.4 932.3 L1341.3 931.6 L1343.1 930.9 L1345.0 930.1 L1346.8 929.3 L1348.6 928.4 L1350.4 927.5 L1352.1 926.5 L1353.8 925.5 L1355.6 924.5 L1357.3 923.4 L1359.0 922.4 L1360.7 921.3 L1362.4 920.3 L1364.1 919.3 L1365.9 918.3 L1367.6 917.4 L1369.4 916.4 L1371.2 915.5 L1373.0 914.7 L1374.8 913.8 L1376.6 912.9 L1378.4 912.1 L1380.2 911.3 L1382.0 910.4 L1383.8 909.6 L1385.7 908.8 L1387.5 908.0 L1389.3 907.2 L1391.2 906.4 L1393.0 905.6 L1394.9 904.9 L1396.7 904.1 L1398.6 903.4 L1400.5 902.8 L1402.4 902.2 L1404.3 901.6 L1406.3 901.1 L1408.2 900.7 L1410.2 900.3 L1412.1 900.0 L1414.1 899.7 L1416.1 899.4 L1418.1 899.1 L1420.1 898.8 L1422.0 898.5 L1424.0 898.3 L1426.0 898.0 L1428.0 897.8 L1430.0 897.6 L1432.0 897.3 L1433.9 897.1 L1435.9 896.8 L1437.9 896.5 L1439.9 896.1 L1441.8 895.7 L1443.8 895.2 L1445.7 894.6 L1447.6 894.0 L1449.5 893.4 L1451.3 892.7 L1453.2 892.0 L1455.1 891.2 L1456.9 890.4 L1458.7 889.6 L1460.5 888.7 L1462.3 887.8 L1464.1 886.9 L1465.8 885.9 L1467.5 884.8 L1469.2 883.8 L1470.9 882.7 L1472.5 881.5 L1474.1 880.3 L1475.7 879.1 L1477.2 877.9 L1478.8 876.6 L1480.3 875.3 L1481.8 873.9 L1483.3 872.6 L1484.7 871.2 L1486.2 869.9 L1487.6 868.5 L1489.0 867.0 L1490.4 865.6 L1491.8 864.1 L1493.1 862.7 L1494.5 861.2 L1495.8 859.7 L1497.1 858.2 L1498.3 856.6 L1499.6 855.0 L1500.8 853.5 L1502.0 851.9 L1503.2 850.2 L1504.3 848.6 L1505.4 846.9 L1506.4 845.2 L1507.5 843.5 L1508.4 841.7 L1509.4 840.0 L1510.3 838.2 L1511.2 836.4 L1512.0 834.6 L1512.9 832.8 L1513.7 831.0 L1514.5 829.1 L1515.3 827.3 L1516.1 825.5 L1516.9 823.6 L1517.7 821.8 L1518.4 819.9 L1519.2 818.1 L1520.0 816.3 L1520.8 814.4 L1521.6 812.6 L1522.5 810.8 L1523.3 809.0 L1524.2 807.2 L1525.0 805.3 L1525.9 803.5 L1526.7 801.7 L1527.5 799.9 L1528.4 798.1 L1529.2 796.3 L1530.1 794.5 L1530.9 792.7 L1531.8 790.8 L1532.6 789.0 L1533.5 787.2 L1534.4 785.5 L1535.4 783.7 L1536.3 782.0 L1537.4 780.2 L1538.5 778.6 L1539.6 776.9 L1540.8 775.4 L1542.1 773.8 L1543.5 772.4 L1545.0 771.2 L1546.7 770.1 L1548.5 769.3 L1550.4 768.8 L1552.3 768.6 L1554.3 768.7 L1556.2 769.1 L1558.1 769.8 L1559.9 770.5 L1561.7 771.4 L1563.5 772.3 L1565.3 773.2 L1567.1 774.0 L1568.9 774.9 L1570.8 775.6 L1572.6 776.3 L1574.5 777.0 L1576.4 777.6 L1578.3 778.2 L1580.3 778.7 L1582.2 779.1 L1584.2 779.2 L1586.2 779.2 L1588.1 779.0 L1590.1 778.6 L1592.0 778.1 L1594.0 777.6 L1595.8 776.9 L1597.6 776.0 L1599.4 775.1 L1601.1 774.0 L1602.7 772.9 L1604.2 771.6 L1605.6 770.1 L1606.9 768.6 L1608.1 767.1 L1609.3 765.5 L1610.4 763.8 L1611.5 762.1 L1612.6 760.5 L1613.7 758.8 L1614.8 757.1 L1615.9 755.4 L1617.1 753.8 L1618.2 752.2 L1619.4 750.6 L1620.6 749.0 L1621.8 747.4 L1623.0 745.7 L1624.1 744.1 L1625.3 742.5 L1626.6 740.9 L1627.8 739.4 L1629.2 737.9 L1630.6 736.6 L1632.2 735.4 L1633.9 734.5 L1635.8 734.1 L1637.7 734.1 L1639.6 734.5 L1641.4 735.2 L1643.2 736.0 L1645.0 736.8 L1646.9 737.5 L1648.7 738.0 L1650.6 738.1 L1652.5 737.8 L1654.2 737.1 L1655.9 736.1 L1657.4 734.9 L1658.7 733.5 L1660.0 732.0 L1661.3 730.4 L1662.5 728.8 L1663.6 727.2 L1664.8 725.6 L1665.9 723.9 L1667.0 722.2 L1668.0 720.5 L1669.1 718.8 L1670.1 717.1 L1671.1 715.3 L1672.0 713.6 L1673.0 711.8 L1673.9 710.0 L1674.8 708.3 L1675.7 706.5 L1676.5 704.7 L1677.3 702.8 L1678.1 701.0 L1678.9 699.1 L1679.6 697.3 L1680.3 695.4 L1681.0 693.5 L1681.7 691.7 L1682.4 689.8 L1683.1 687.9 L1683.8 686.0 L1684.5 684.2 L1685.3 682.3 L1686.0 680.5 L1686.8 678.6 L1687.5 676.8 L1688.3 674.9 L1689.1 673.1 L1689.9 671.2 L1690.6 669.4 L1691.4 667.5 L1692.2 665.7 L1693.0 663.9 L1693.8 662.0 L1694.5 660.2 L1695.3 658.3 L1696.1 656.5 L1696.9 654.7 L1697.7 652.8 L1698.5 651.0 L1699.2 649.1 L1700.0 647.3 L1700.8 645.5 L1701.6 643.6 L1702.4 641.8 L1703.2 640.0 L1704.0 638.1 L1704.8 636.3 L1705.6 634.4 L1706.4 632.6 L1707.2 630.8 L1708.0 629.0 L1708.8 627.1 L1709.6 625.3 L1710.4 623.5 L1711.3 621.6 L1712.1 619.8 L1712.9 618.0 L1713.7 616.2 L1714.6 614.4 L1715.5 612.6 L1716.3 610.8 L1717.2 609.0 L1718.1 607.2 L1719.0 605.4 L1719.9 603.6 L1720.8 601.8 L1721.8 600.1 L1722.8 598.3 L1723.7 596.6 L1724.7 594.8 L1725.7 593.1 L1726.7 591.4 L1727.7 589.6 L1728.7 587.9 L1729.6 586.1 L1730.6 584.4 L1731.6 582.6 L1732.5 580.9 L1733.5 579.1 L1734.4 577.4 L1735.4 575.6 L1736.3 573.8 L1737.2 572.0 L1738.1 570.3 L1739.1 568.5 L1740.0 566.7 L1740.9 564.9 L1741.8 563.1 L1742.6 561.3 L1743.5 559.6 L1744.4 557.8 L1745.3 556.0 L1746.2 554.2 L1747.1 552.4 L1748.0 550.6 L1748.9 548.8 L1749.8 547.1 L1750.8 545.3 L1751.7 543.5 L1752.6 541.7 L1753.5 539.9 L1754.4 538.1 L1755.2 536.3 L1756.1 534.5 L1756.9 532.7 L1757.7 530.9 L1758.5 529.0 L1759.3 527.2 L1760.0 525.3 L1760.8 523.5 L1761.5 521.6 L1762.2 519.8 L1763.0 517.9 L1763.7 516.0 L1764.4 514.2 L1765.1 512.3 L1765.8 510.4 L1766.6 508.6 L1767.3 506.7 L1768.0 504.8 L1768.8 503.0 L1769.5 501.1 L1770.2 499.3 L1770.9 497.4 L1771.6 495.5 L1772.3 493.6 L1772.9 491.7 L1773.6 489.8 L1774.2 487.9 L1774.8 486.0 L1775.3 484.1 L1775.9 482.2 L1776.5 480.3 L1777.0 478.3 L1777.6 476.4 L1778.1 474.5 L1778.6 472.6 L1779.1 470.6 L1779.7 468.7 L1780.2 466.8 L1780.7 464.8 L1781.2 462.9 L1781.7 461.0 L1782.2 459.0 L1782.7 457.1 L1783.2 455.2 L1783.7 453.2 L1784.2 451.3 L1784.7 449.3 L1785.2 447.4 L1785.7 445.5 L1786.1 443.5 L1786.6 441.6 L1787.1 439.6 L1787.5 437.7 L1788.0 435.7 L1788.5 433.8 L1788.9 431.8 L1789.4 429.9 L1789.9 428.0 L1790.3 426.0 L1790.7 424.1 L1791.2 422.1 L1791.6 420.2 L1792.1 418.2 L1792.5 416.2 L1792.9 414.3 L1793.4 412.3 L1793.8 410.4 L1794.2 408.4 L1794.7 406.5 L1795.1 404.5 L1795.6 402.6 L1796.1 400.7 L1796.6 398.7 L1797.1 396.8 L1797.6 394.8 L1798.1 392.9 L1798.7 391.0 L1799.2 389.1 L1799.8 387.1 L1800.3 385.2 L1800.8 383.3 L1801.3 381.4 L1801.8 379.4 L1802.3 377.5 L1802.8 375.5 L1803.3 373.6 L1803.7 371.6 L1804.2 369.7 L1804.7 367.8 L1805.1 365.8 L1805.6 363.9 L1806.1 361.9 L1806.5 360.0 L1807.0 358.0 L1807.4 356.1 L1807.9 354.1 L1808.4 352.2 L1808.8 350.2 L1809.3 348.3 L1809.7 346.3 L1810.2 344.4 L1810.7 342.5 L1811.1 340.5 L1811.6 338.6 L1812.0 336.6 L1812.5 334.7 L1812.9 332.7 L1813.4 330.8 L1813.8 328.8 L1814.3 326.9 L1814.7 324.9 L1815.1 323.0 L1815.6 321.0 L1816.0 319.1 L1816.4 317.1 L1816.9 315.1 L1817.3 313.2 L1817.7 311.2 L1818.1 309.3 L1818.6 307.3 L1819.0 305.4 L1819.4 303.4 L1819.8 301.5 L1820.3 299.5 L1820.7 297.6 L1821.2 295.6 L1821.6 293.7 L1822.1 291.7 L1822.6 289.8 L1823.0 287.8 L1823.5 285.9 L1824.0 283.9 L1824.4 282.0 L1824.9 280.1 L1825.4 278.1 L1825.9 276.2 L1826.3 274.2 L1826.8 272.3 L1827.3 270.3 L1827.8 268.4 L1828.2 266.5 L1828.7 264.5 L1829.2 262.6 L1829.7 260.6 L1830.1 258.7 L1830.6 256.7 L1831.1 254.8 L1831.6 252.9 L1832.1 250.9 L1832.5 249.0 L1833.0 247.0 L1833.5 245.1 L1834.0 243.2 L1834.5 241.2 L1834.9 239.3 L1835.4 237.3 L1835.9 235.4 L1836.4 233.4 L1836.8 231.5 L1837.3 229.6 L1837.8 227.6 L1838.3 225.7 L1838.7 223.7 L1839.2 221.8 L1839.7 219.8 L1840.2 217.9 L1840.6 215.9 L1841.1 214.0 L1841.5 212.0 L1841.9 210.1 L1842.3 208.1 L1842.7 206.2 L1843.1 204.2 L1843.6 202.3 L1844.2 200.4 L1844.8 198.5 L1845.6 196.7 L1846.6 195.0 L1847.7 193.5 L1849.1 192.3 L1850.6 191.3 L1852.2 190.8 L1853.8 190.8 L1855.4 191.4 L1856.9 192.3 L1858.2 193.6 L1859.3 195.2 L1860.2 196.9 L1861.0 198.7 L1861.8 200.5 L1862.4 202.4 L1863.1 204.3 L1863.8 206.2 L1864.4 208.1 L1865.0 210.0 L1865.7 211.9 L1866.3 213.8 L1866.9 215.7 L1867.5 217.6 L1868.0 219.5 L1868.5 221.5 L1869.0 223.4 L1869.5 225.3 L1869.9 227.3 L1870.3 229.2 L1870.7 231.2 L1871.1 233.2 L1871.6 235.1 L1872.0 237.1 L1872.4 239.0 L1872.8 241.0 L1873.2 243.0 L1873.6 244.9 L1874.0 246.9 L1874.4 248.8 L1874.9 250.8 L1875.3 252.7 L1875.8 254.7 L1876.3 256.6 L1876.8 258.6 L1877.3 260.5 L1877.8 262.4 L1878.3 264.4 L1878.8 266.3 L1879.3 268.2 L1879.8 270.1 L1880.4 272.1 L1880.8 274.0 L1881.3 276.0 L1881.8 277.9 L1882.2 279.9 L1882.6 281.8 L1882.9 283.8 L1883.3 285.8 L1883.7 287.7 L1884.2 289.7 L1884.6 291.6 L1885.0 293.6 L1885.5 295.5 L1885.9 297.4 L1886.3 299.4 L1886.7 301.4 L1887.1 303.3 L1887.5 305.3 L1887.9 307.2 L1888.3 309.2 L1888.6 311.2 L1889.0 313.1 L1889.4 315.1 L1889.8 317.1 L1890.1 319.0 L1890.5 321.0 L1890.9 323.0 L1891.2 324.9 L1891.6 326.9 L1892.0 328.9 L1892.4 330.8 L1892.7 332.8 L1893.1 334.8 L1893.5 336.7 L1893.9 338.7 L1894.2 340.7 L1894.6 342.6 L1895.0 344.6 L1895.4 346.5 L1895.8 348.5 L1896.2 350.5 L1896.6 352.4 L1897.0 354.4 L1897.4 356.3 L1897.9 358.3 L1898.3 360.2 L1898.7 362.2 L1899.2 364.1 L1899.6 366.1 L1900.1 368.0 L1900.6 370.0 L1901.1 371.9 L1901.6 373.8 L1902.1 375.8 L1902.6 377.7 L1903.1 379.6 L1903.7 381.6 L1904.2 383.5 L1904.7 385.4 L1905.3 387.3 L1905.8 389.3 L1906.4 391.2 L1906.9 393.1 L1907.4 395.1 L1908.0 397.0 L1908.5 398.9 L1909.0 400.8 L1909.5 402.8 L1910.0 404.7 L1910.5 406.6 L1911.0 408.6 L1911.5 410.5 L1912.1 412.5 L1912.6 414.4 L1913.1 416.3 L1913.6 418.3 L1914.1 420.2 L1914.6 422.1 L1915.1 424.1 L1915.6 426.0 L1916.1 427.9 L1916.6 429.9 L1917.1 431.8 L1917.7 433.7 L1918.2 435.7 L1918.7 437.6 L1919.3 439.5 L1919.8 441.4 L1920.4 443.4 L1920.9 445.3 L1921.5 447.2 L1922.1 449.1 L1922.6 451.0 L1923.2 452.9 L1923.8 454.9 L1924.4 456.8 L1925.0 458.7 L1925.6 460.6 L1926.2 462.5 L1926.8 464.4 L1927.5 466.3 L1928.1 468.2 L1928.8 470.1 L1929.4 472.0 L1930.1 473.8 L1930.8 475.7 L1931.5 477.6 L1932.2 479.4 L1933.0 481.3 L1933.7 483.2 L1934.4 485.0 L1935.2 486.9 L1935.9 488.7 L1936.7 490.6 L1937.5 492.4 L1938.2 494.3 L1939.0 496.1 L1939.8 498.0 L1940.5 499.8 L1941.3 501.7 L1942.0 503.5 L1942.8 505.4 L1943.5 507.2 L1944.3 509.1 L1945.0 511.0 L1945.7 512.8 L1946.5 514.7 L1947.2 516.5 L1948.0 518.4 L1948.7 520.2 L1949.5 522.1 L1950.2 523.9 L1951.0 525.8 L1951.7 527.6 L1952.5 529.5 L1953.3 531.3 L1954.0 533.2 L1954.8 535.0 L1955.6 536.9 L1956.4 538.7 L1957.1 540.6 L1957.9 542.4 L1958.7 544.3 L1959.5 546.1 L1960.2 548.0 L1961.0 549.8 L1961.7 551.7 L1962.5 553.5 L1963.2 555.4 L1963.9 557.2 L1964.6 559.1 L1965.3 561.0 L1966.0 562.9 L1966.7 564.7 L1967.4 566.6 L1968.1 568.5 L1968.8 570.4 L1969.4 572.3 L1970.1 574.2 L1970.8 576.0 L1971.4 577.9 L1972.1 579.8 L1972.7 581.7 L1973.4 583.6 L1974.0 585.5 L1974.7 587.4 L1975.3 589.3 L1976.0 591.2 L1976.6 593.1 L1977.3 594.9 L1977.9 596.8 L1978.6 598.7 L1979.2 600.6 L1979.8 602.5 L1980.5 604.4 L1981.1 606.3 L1981.7 608.2 L1982.4 610.1 L1983.0 612.0 L1983.6 613.9 L1984.2 615.8 L1984.9 617.7 L1985.5 619.6 L1986.1 621.5 L1986.7 623.4 L1987.4 625.3 L1988.0 627.2 L1988.6 629.1 L1989.2 631.0 L1989.9 632.9 L1990.5 634.8 L1991.2 636.7 L1991.8 638.6 L1992.5 640.5 L1993.1 642.4 L1993.7 644.3 L1994.4 646.2 L1995.0 648.1 L1995.7 650.0 L1996.3 651.8 L1997.0 653.7 L1997.6 655.6 L1998.2 657.5 L1998.9 659.4 L1999.5 661.3 L2000.1 663.2 L2000.7 665.1 L2001.3 667.1 L2001.9 669.0 L2002.5 670.9 L2003.1 672.8 L2003.7 674.7 L2004.3 676.6 L2004.8 678.5 L2005.4 680.4 L2006.0 682.4 L2006.5 684.3 L2007.1 686.2 L2007.7 688.1 L2008.2 690.0 L2008.8 692.0 L2009.4 693.9 L2009.9 695.8 L2010.5 697.7 L2011.1 699.6 L2011.6 701.5 L2012.2 703.5 L2012.8 705.4 L2013.3 707.3 L2013.9 709.2 L2014.5 711.1 L2015.1 713.0 L2015.6 715.0 L2016.2 716.9 L2016.8 718.8 L2017.4 720.7 L2018.0 722.6 L2018.6 724.5 L2019.2 726.4 L2019.8 728.3 L2020.4 730.2 L2021.1 732.1 L2021.7 734.0 L2022.4 735.9 L2023.1 737.8 L2023.8 739.6 L2024.6 741.5 L2025.4 743.3 L2026.2 745.2 L2027.0 747.0 L2027.8 748.8 L2028.7 750.6 L2029.5 752.4 L2030.4 754.2 L2031.2 756.0 L2032.0 757.9 L2032.8 759.7 L2033.6 761.6 L2034.3 763.4 L2035.0 765.3 L2035.7 767.2 L2036.4 769.0 L2037.1 770.9 L2037.8 772.8 L2038.5 774.7 L2039.2 776.5 L2039.9 778.4 L2040.7 780.2 L2041.5 782.1 L2042.3 783.9 L2043.1 785.7 L2044.0 787.5 L2044.9 789.3 L2045.9 791.0 L2046.8 792.8 L2047.8 794.5 L2048.8 796.3 L2049.8 798.0 L2050.8 799.7 L2051.9 801.4 L2052.9 803.2 L2053.9 804.9 L2055.0 806.6 L2056.0 808.3 L2057.1 810.0 L2058.2 811.7 L2059.2 813.3 L2060.3 815.0 L2061.4 816.7 L2062.5 818.4 L2063.5 820.1 L2064.6 821.8 L2065.7 823.5 L2066.8 825.1 L2067.9 826.8 L2069.0 828.5 L2070.0 830.2 L2071.1 831.9 L2072.2 833.5 L2073.3 835.2 L2074.4 836.9 L2075.5 838.5 L2076.7 840.2 L2077.8 841.9 L2078.9 843.5 L2080.0 845.2 L2081.1 846.8 L2082.2 848.5 L2083.3 850.2 L2084.5 851.8 L2085.6 853.5 L2086.7 855.1 L2087.8 856.8 L2088.9 858.4 L2090.1 860.1 L2091.2 861.8 L2092.3 863.4 L2093.4 865.1 L2094.5 866.7 L2095.7 868.4 L2096.8 870.0 L2097.9 871.7 L2099.0 873.4 L2100.1 875.0 L2101.3 876.7 L2102.4 878.3 L2103.5 880.0 L2104.7 881.6 L2105.8 883.3 L2107.0 884.9 L2108.1 886.5 L2109.3 888.1 L2110.5 889.7 L2111.7 891.3 L2112.9 892.9 L2114.2 894.5 L2115.4 896.0 L2116.7 897.6 L2118.0 899.1 L2119.3 900.6 L2120.7 902.1 L2122.0 903.6 L2123.4 905.0 L2124.8 906.5 L2126.2 907.9 L2127.6 909.3 L2129.0 910.7 L2130.5 912.1 L2131.9 913.5 L2133.3 914.9 L2134.7 916.3 L2136.0 917.8 L2137.3 919.3 L2138.6 920.9 L2139.9 922.4 L2141.2 923.9 L2142.5 925.4 L2143.8 926.9 L2145.2 928.4 L2146.5 929.9 L2148.0 931.3 L2149.4 932.6 L2150.9 934.0 L2152.4 935.3 L2154.0 936.5 L2155.5 937.8 L2157.1 939.1 L2158.7 940.3 L2160.2 941.5 L2161.8 942.8 L2163.4 944.0 L2165.0 945.2 L2166.6 946.4 L2168.2 947.6 L2169.8 948.7 L2171.5 949.9 L2173.2 951.0 L2174.9 952.0 L2176.6 953.0 L2178.3 954.1 L2180.0 955.1 L2181.7 956.1 L2183.4 957.2 L2185.1 958.3 L2186.6 959.5 L2188.2 960.8 L2189.7 962.1 L2191.1 963.5 L2192.5 964.9 L2194.0 966.2 L2195.4 967.3 L2197.0 968.1 L2198.6 968.8 L2200.2 969.7 L2201.9 970.7 L2203.5 971.9 L2205.1 973.1 L2206.7 974.3 L2208.2 975.6 L2209.8 976.8 L2211.4 978.0 L2213.0 979.2 L2214.6 980.4 L2216.2 981.6 L2217.8 982.8 L2219.5 983.9 L2221.1 985.0 L2222.8 986.1 L2224.5 987.1 L2226.3 988.1 L2228.0 989.1 L2229.8 990.0 L2231.6 990.9 L2233.4 991.8 L2235.2 992.6 L2237.0 993.5 L2238.8 994.3 L2240.7 995.1 L2242.5 995.9 L2244.3 996.7 L2246.2 997.5 L2248.0 998.3 L2249.8 999.0 L2251.7 999.8 L2253.5 1000.6 L2255.4 1001.4 L2257.2 1002.1 L2259.1 1002.8 L2261.0 1003.6 L2262.8 1004.3 L2264.7 1005.0 L2266.6 1005.7 L2268.4 1006.4 L2270.3 1007.1 L2272.2 1007.8 L2274.0 1008.6 L2275.9 1009.3 L2277.7 1010.1 L2279.5 1011.0 L2281.3 1011.9 L2283.1 1012.8 L2284.8 1013.8 L2286.5 1014.8 L2288.2 1015.9 L2289.9 1016.9 L2291.7 1017.9 L2293.4 1018.9 L2295.2 1019.8 L2297.0 1020.6 L2298.9 1021.4 L2300.7 1022.2 L2302.5 1023.0 L2304.4 1023.7 L2306.3 1024.5 L2308.1 1025.2 L2310.0 1025.9 L2311.9 1026.6 L2313.7 1027.3 L2315.6 1028.0 L2317.5 1028.7 L2319.4 1029.4 L2321.2 1030.1 L2323.1 1030.8 L2325.0 1031.5 L2326.9 1032.1 L2328.8 1032.8 L2330.6 1033.5 L2332.5 1034.1 L2334.4 1034.8 L2336.3 1035.5 L2338.2 1036.1 L2340.1 1036.8 L2342.0 1037.4 L2343.9 1038.1 L2345.8 1038.7 L2347.7 1039.4 L2349.6 1040.0 L2351.5 1040.6 L2353.3 1041.3 L2355.3 1041.9 L2357.2 1042.5 L2359.1 1043.1 L2361.0 1043.7 L2362.9 1044.3 L2364.8 1044.9 L2366.7 1045.5 L2368.6 1046.0 L2370.6 1046.6 L2372.5 1047.1 L2374.4 1047.5 L2376.4 1048.0 L2378.3 1048.4 L2380.3 1048.7 L2382.3 1049.0 L2384.3 1049.3 L2386.2 1049.6 L2388.2 1049.9 L2390.2 1050.3 L2392.1 1050.7 L2394.1 1051.1 L2396.0 1051.7 L2397.8 1052.5 L2399.6 1053.4 L2401.3 1054.5 L2402.9 1055.6 L2404.4 1056.9 L2405.9 1058.2 L2407.4 1059.6 L2408.7 1061.0 L2410.0 1062.5 L2411.4 1064.0 L2412.8 1065.3 L2414.5 1066.3 L2416.3 1067.0 L2418.2 1067.4 L2420.2 1067.6 L2422.2 1067.7 L2424.2 1067.8 L2426.2 1067.7 L2428.2 1067.7 L2430.2 1067.6 L2432.2 1067.5 L2434.2 1067.4 L2436.2 1067.3 L2438.2 1067.2" stroke="#2424ff"/>
<path d="M197.2 1279.8 L199.2 1279.6 L201.2 1279.4 L203.2 1279.2 L205.2 1279.0 L207.1 1278.7 L209.1 1278.5 L211.1 1278.2 L213.1 1277.8 L215.0 1277.4 L217.0 1276.9 L218.9 1276.4 L220.8 1275.8 L222.7 1275.1 L224.5 1274.4 L226.4 1273.6 L228.2 1272.7 L230.0 1271.9 L231.8 1271.0 L233.6 1270.2 L235.4 1269.3 L237.2 1268.5 L239.1 1267.7 L240.9 1267.0 L242.8 1266.3 L244.7 1265.6 L246.6 1264.9 L248.4 1264.2 L250.3 1263.6 L252.2 1263.0 L254.1 1262.4 L256.0 1261.7 L257.9 1261.1 L259.9 1260.5 L261.8 1259.9 L263.7 1259.4 L265.6 1258.8 L267.5 1258.2 L269.4 1257.7 L271.4 1257.1 L273.3 1256.6 L275.2 1256.1 L277.2 1255.6 L279.1 1255.1 L281.1 1254.7 L283.0 1254.2 L285.0 1253.8 L286.9 1253.4 L288.9 1253.0 L290.8 1252.6 L292.8 1252.3 L294.8 1252.0 L296.8 1251.8 L298.8 1251.6 L300.8 1251.4 L302.8 1251.3 L304.8 1251.3 L306.8 1251.2 L308.8 1251.3 L310.7 1251.3 L312.7 1251.4 L314.7 1251.5 L316.7 1251.7 L318.7 1251.9 L320.7 1252.1 L322.7 1252.3 L324.7 1252.5 L326.7 1252.7 L328.7 1253.0 L330.6 1253.2 L332.6 1253.5 L334.6 1253.8 L336.6 1254.1 L338.6 1254.4 L340.5 1254.7 L342.5 1255.0 L344.5 1255.4 L346.4 1255.8 L348.4 1256.2 L350.3 1256.7 L352.2 1257.3 L354.1 1257.9 L356.0 1258.6 L357.9 1259.2 L359.8 1259.8 L361.8 1260.3 L363.7 1260.8 L365.6 1261.3 L367.6 1261.8 L369.5 1262.3 L371.5 1262.8 L373.4 1263.3 L375.3 1263.7 L377.3 1264.2 L379.2 1264.7 L381.2 1265.1 L383.1 1265.5 L385.1 1265.9 L387.1 1266.3 L389.0 1266.6 L391.0 1266.9 L393.0 1267.1 L395.0 1267.3 L397.0 1267.4 L399.0 1267.4 L401.0 1267.4 L403.0 1267.3 L405.0 1267.2 L407.0 1267.1 L409.0 1267.0 L411.0 1266.8 L413.0 1266.7 L415.0 1266.5 L416.9 1266.3 L418.9 1266.2 L420.9 1266.0 L422.9 1265.8 L424.9 1265.6 L426.9 1265.4 L428.9 1265.1 L430.9 1264.9 L432.8 1264.6 L434.8 1264.3 L436.8 1264.0 L438.8 1263.7 L440.8 1263.4 L442.7 1263.0 L444.7 1262.6 L446.6 1262.2 L448.6 1261.8 L450.5 1261.3 L452.5 1260.8 L454.4 1260.3 L456.3 1259.8 L458.3 1259.3 L460.2 1258.7 L462.1 1258.2 L464.0 1257.6 L465.9 1257.0 L467.9 1256.5 L469.8 1255.9 L471.7 1255.3 L473.6 1254.7 L475.5 1254.1 L477.4 1253.5 L479.3 1253.0 L481.2 1252.4 L483.2 1251.8 L485.1 1251.2 L487.0 1250.5 L488.9 1249.9 L490.8 1249.3 L492.7 1248.7 L494.6 1248.0 L496.5 1247.4 L498.4 1246.7 L500.2 1246.1 L502.1 1245.5 L504.0 1244.8 L505.9 1244.2 L507.8 1243.6 L509.8 1243.0 L511.7 1242.4 L513.6 1241.9 L515.5 1241.3 L517.4 1240.7 L519.4 1240.2 L521.3 1239.7 L523.2 1239.2 L525.1 1238.7 L527.1 1238.2 L529.0 1237.7 L531.0 1237.2 L532.9 1236.7 L534.8 1236.2 L536.8 1235.7 L538.7 1235.3 L540.7 1234.8 L542.6 1234.3 L544.6 1233.9 L546.5 1233.4 L548.5 1232.9 L550.4 1232.5 L552.3 1232.0 L554.3 1231.5 L556.2 1231.0 L558.2 1230.5 L560.1 1230.0 L562.0 1229.5 L564.0 1229.0 L565.9 1228.5 L567.9 1228.1 L569.8 1227.6 L571.8 1227.2 L573.7 1226.8 L575.7 1226.4 L577.7 1226.1 L579.6 1225.8 L581.6 1225.6 L583.6 1225.5 L585.6 1225.4 L587.6 1225.4 L589.6 1225.5 L591.6 1225.5 L593.6 1225.6 L595.6 1225.7 L597.6 1225.8 L599.6 1225.9 L601.6 1226.0 L603.6 1226.0 L605.6 1226.1 L607.6 1226.2 L609.6 1226.2 L611.6 1226.3 L613.6 1226.4 L615.6 1226.5 L617.6 1226.6 L619.6 1226.6 L621.6 1226.7 L623.6 1226.8 L625.6 1226.9 L627.6 1227.0 L629.6 1227.1 L631.6 1227.2 L633.6 1227.3 L635.6 1227.4 L637.6 1227.5 L639.6 1227.5 L641.6 1227.6 L643.6 1227.7 L645.6 1227.8 L647.6 1227.9 L649.6 1228.0 L651.5 1228.1 L653.5 1228.3 L655.5 1228.4 L657.5 1228.5 L659.5 1228.7 L661.5 1228.8 L663.5 1228.9 L665.5 1229.1 L667.5 1229.2 L669.5 1229.4 L671.5 1229.5 L673.5 1229.7 L675.5 1229.8 L677.5 1230.0 L679.5 1230.1 L681.5 1230.2 L683.5 1230.4 L685.5 1230.5 L687.5 1230.5 L689.5 1230.6 L691.5 1230.7 L693.5 1230.7 L695.5 1230.7 L697.5 1230.7 L699.5 1230.6 L701.5 1230.5 L703.5 1230.4 L705.4 1230.2 L707.4 1230.0 L709.4 1229.7 L711.4 1229.4 L713.3 1229.0 L715.3 1228.6 L717.2 1228.1 L719.2 1227.6 L721.1 1227.1 L723.1 1226.6 L725.0 1226.1 L726.9 1225.6 L728.9 1225.2 L730.8 1224.7 L732.7 1224.2 L734.7 1223.7 L736.6 1223.1 L738.5 1222.6 L740.5 1222.1 L742.4 1221.5 L744.3 1221.0 L746.2 1220.5 L748.2 1219.9 L750.1 1219.4 L752.0 1218.8 L753.9 1218.3 L755.9 1217.7 L757.8 1217.2 L759.7 1216.6 L761.6 1216.0 L763.5 1215.5 L765.5 1214.9 L767.4 1214.4 L769.3 1213.8 L771.2 1213.3 L773.2 1212.7 L775.1 1212.2 L777.0 1211.7 L778.9 1211.1 L780.9 1210.6 L782.8 1210.1 L784.7 1209.5 L786.7 1209.0 L788.6 1208.5 L790.5 1207.9 L792.4 1207.4 L794.4 1206.9 L796.3 1206.3 L798.2 1205.8 L800.2 1205.3 L802.1 1204.8 L804.0 1204.2 L805.9 1203.7 L807.9 1203.2 L809.8 1202.6 L811.7 1202.1 L813.7 1201.6 L815.6 1201.1 L817.5 1200.5 L819.4 1200.0 L821.4 1199.4 L823.3 1198.8 L825.2 1198.2 L827.1 1197.6 L829.0 1197.0 L830.9 1196.5 L832.8 1195.9 L834.7 1195.3 L836.7 1194.8 L838.6 1194.4 L840.6 1193.9 L842.5 1193.5 L844.5 1193.2 L846.5 1192.9 L848.5 1192.6 L850.4 1192.4 L852.4 1192.2 L854.4 1192.0 L856.4 1191.8 L858.4 1191.7 L860.4 1191.6 L862.4 1191.5 L864.4 1191.4 L866.4 1191.3 L868.4 1191.2 L870.4 1191.1 L872.4 1191.1 L874.4 1191.0 L876.4 1191.0 L878.4 1191.0 L880.4 1190.9 L882.4 1190.9 L884.4 1190.9 L886.4 1190.9 L888.4 1191.0 L890.4 1191.0 L892.4 1191.1 L894.4 1191.2 L896.4 1191.3 L898.4 1191.5 L900.4 1191.7 L902.4 1191.9 L904.4 1192.0 L906.3 1192.2 L908.3 1192.4 L910.3 1192.6 L912.3 1192.7 L914.3 1192.8 L916.3 1193.0 L918.3 1193.1 L920.3 1193.3 L922.3 1193.4 L924.3 1193.5 L926.3 1193.7 L928.3 1193.8 L930.3 1194.0 L932.3 1194.1 L934.3 1194.2 L936.3 1194.4 L938.3 1194.5 L940.3 1194.7 L942.3 1194.8 L944.3 1194.9 L946.2 1195.0 L948.2 1195.2 L950.2 1195.3 L952.2 1195.4 L954.2 1195.5 L956.2 1195.6 L958.2 1195.6 L960.2 1195.7 L962.2 1195.7 L964.2 1195.8 L966.2 1195.8 L968.2 1195.8 L970.2 1195.8 L972.2 1195.7 L974.2 1195.7 L976.2 1195.6 L978.2 1195.5 L980.2 1195.4 L982.2 1195.3 L984.2 1195.2 L986.2 1195.0 L988.2 1194.9 L990.2 1194.7 L992.2 1194.6 L994.2 1194.4 L996.2 1194.2 L998.2 1194.1 L1000.2 1193.9 L1002.2 1193.7 L1004.1 1193.5 L1006.1 1193.4 L1008.1 1193.2 L1010.1 1192.9 L1012.1 1192.7 L1014.1 1192.4 L1016.0 1192.0 L1018.0 1191.6 L1020.0 1191.2 L1021.9 1190.7 L1023.8 1190.3 L1025.8 1189.7 L1027.7 1189.2 L1029.6 1188.6 L1031.5 1188.1 L1033.4 1187.5 L1035.4 1186.9 L1037.3 1186.3 L1039.2 1185.7 L1041.1 1185.1 L1043.0 1184.5 L1044.9 1183.9 L1046.8 1183.3 L1048.7 1182.7 L1050.6 1182.1 L1052.5 1181.5 L1054.4 1180.9 L1056.4 1180.3 L1058.3 1179.8 L1060.2 1179.2 L1062.1 1178.7 L1064.0 1178.1 L1066.0 1177.5 L1067.9 1177.0 L1069.8 1176.4 L1071.7 1175.9 L1073.6 1175.3 L1075.6 1174.7 L1077.5 1174.2 L1079.4 1173.6 L1081.3 1173.0 L1083.2 1172.5 L1085.1 1171.9 L1087.1 1171.3 L1089.0 1170.7 L1090.9 1170.1 L1092.8 1169.5 L1094.7 1168.9 L1096.6 1168.3 L1098.5 1167.6 L1100.4 1166.9 L1102.2 1166.3 L1104.1 1165.6 L1106.0 1164.9 L1107.9 1164.2 L1109.7 1163.5 L1111.6 1162.8 L1113.5 1162.1 L1115.3 1161.3 L1117.2 1160.6 L1119.1 1159.9 L1121.0 1159.3 L1122.9 1158.6 L1124.7 1157.9 L1126.6 1157.3 L1128.5 1156.6 L1130.4 1156.0 L1132.3 1155.4 L1134.3 1154.9 L1136.2 1154.4 L1138.1 1153.8 L1140.1 1153.4 L1142.0 1152.9 L1144.0 1152.5 L1145.9 1152.1 L1147.9 1151.7 L1149.9 1151.3 L1151.8 1151.0 L1153.8 1150.6 L1155.8 1150.3 L1157.7 1150.0 L1159.7 1149.7 L1161.7 1149.4 L1163.7 1149.1 L1165.7 1148.8 L1167.6 1148.5 L1169.6 1148.2 L1171.6 1147.9 L1173.6 1147.6 L1175.6 1147.3 L1177.5 1147.0 L1179.5 1146.7 L1181.5 1146.4 L1183.5 1146.1 L1185.4 1145.8 L1187.4 1145.5 L1189.4 1145.2 L1191.4 1144.9 L1193.4 1144.7 L1195.3 1144.4 L1197.3 1144.1 L1199.3 1143.8 L1201.3 1143.5 L1203.3 1143.3 L1205.2 1143.0 L1207.2 1142.7 L1209.2 1142.4 L1211.2 1142.1 L1213.1 1141.8 L1215.1 1141.5 L1217.1 1141.1 L1219.1 1140.8 L1221.0 1140.5 L1223.0 1140.1 L1225.0 1139.8 L1226.9 1139.4 L1228.9 1139.1 L1230.9 1138.7 L1232.8 1138.3 L1234.8 1138.0 L1236.8 1137.6 L1238.7 1137.2 L1240.7 1136.8 L1242.7 1136.4 L1244.6 1136.0 L1246.6 1135.6 L1248.5 1135.2 L1250.5 1134.8 L1252.5 1134.4 L1254.4 1134.0 L1256.4 1133.5 L1258.3 1133.1 L1260.3 1132.6 L1262.2 1132.2 L1264.1 1131.7 L1266.1 1131.2 L1268.0 1130.8 L1270.0 1130.3 L1271.9 1129.8 L1273.8 1129.2 L1275.8 1128.7 L1277.7 1128.2 L1279.6 1127.7 L1281.6 1127.1 L1283.5 1126.6 L1285.4 1126.1 L1287.3 1125.5 L1289.3 1125.0 L1291.2 1124.4 L1293.1 1123.9 L1295.0 1123.3 L1296.9 1122.8 L1298.9 1122.2 L1300.8 1121.7 L1302.7 1121.1 L1304.6 1120.6 L1306.6 1120.0 L1308.5 1119.5 L1310.4 1118.9 L1312.3 1118.4 L1314.3 1117.9 L1316.2 1117.4 L1318.1 1116.8 L1320.1 1116.3 L1322.0 1115.7 L1323.9 1115.2 L1325.8 1114.6 L1327.7 1114.0 L1329.6 1113.4 L1331.5 1112.7 L1333.4 1112.1 L1335.3 1111.3 L1337.1 1110.6 L1338.9 1109.8 L1340.8 1109.0 L1342.6 1108.1 L1344.3 1107.2 L1346.1 1106.2 L1347.8 1105.2 L1349.5 1104.2 L1351.2 1103.1 L1352.9 1102.0 L1354.6 1101.0 L1356.3 1099.9 L1357.9 1098.7 L1359.6 1097.6 L1361.2 1096.4 L1362.8 1095.2 L1364.4 1094.0 L1366.0 1092.8 L1367.5 1091.6 L1369.1 1090.3 L1370.7 1089.1 L1372.3 1087.9 L1373.9 1086.7 L1375.5 1085.5 L1377.1 1084.3 L1378.7 1083.2 L1380.4 1082.0 L1382.0 1080.9 L1383.6 1079.7 L1385.3 1078.5 L1386.9 1077.4 L1388.6 1076.3 L1390.2 1075.2 L1391.9 1074.1 L1393.6 1073.0 L1395.3 1072.0 L1397.0 1071.0 L1398.8 1070.1 L1400.6 1069.3 L1402.5 1068.7 L1404.5 1068.2 L1406.4 1068.0 L1408.4 1067.8 L1410.4 1067.7 L1412.4 1067.4 L1414.3 1067.0 L1416.3 1066.6 L1418.2 1066.0 L1420.1 1065.5 L1422.1 1064.9 L1424.0 1064.4 L1425.9 1063.8 L1427.8 1063.3 L1429.7 1062.7 L1431.6 1062.1 L1433.5 1061.5 L1435.4 1060.8 L1437.3 1060.2 L1439.2 1059.5 L1441.1 1058.8 L1442.9 1058.0 L1444.8 1057.2 L1446.6 1056.4 L1448.4 1055.5 L1450.1 1054.6 L1451.9 1053.6 L1453.6 1052.5 L1455.2 1051.4 L1456.9 1050.3 L1458.5 1049.1 L1460.1 1047.9 L1461.7 1046.7 L1463.2 1045.4 L1464.7 1044.1 L1466.2 1042.8 L1467.7 1041.5 L1469.2 1040.1 L1470.7 1038.8 L1472.1 1037.4 L1473.6 1036.0 L1475.0 1034.6 L1476.5 1033.2 L1477.9 1031.8 L1479.3 1030.4 L1480.6 1028.9 L1482.0 1027.5 L1483.3 1026.0 L1484.7 1024.5 L1486.0 1023.0 L1487.3 1021.5 L1488.6 1020.0 L1489.9 1018.4 L1491.2 1016.9 L1492.5 1015.4 L1493.8 1013.9 L1495.1 1012.4 L1496.5 1010.9 L1497.8 1009.4 L1499.2 1008.0 L1500.7 1006.7 L1502.3 1005.5 L1503.9 1004.3 L1505.4 1003.0 L1506.8 1001.7 L1508.1 1000.1 L1509.2 998.5 L1510.3 996.8 L1511.3 995.1 L1512.3 993.3 L1513.2 991.6 L1514.2 989.8 L1515.1 988.0 L1516.1 986.3 L1517.0 984.5 L1517.9 982.7 L1518.9 981.0 L1519.8 979.2 L1520.8 977.5 L1521.8 975.7 L1522.7 974.0 L1523.8 972.3 L1524.8 970.5 L1525.8 968.8 L1526.8 967.1 L1527.9 965.4 L1528.9 963.7 L1530.0 962.0 L1531.0 960.3 L1532.1 958.6 L1533.2 956.9 L1534.4 955.3 L1535.5 953.7 L1536.8 952.1 L1538.1 950.6 L1539.5 949.2 L1540.9 947.8 L1542.5 946.6 L1544.2 945.6 L1546.0 944.8 L1547.8 944.2 L1549.8 944.0 L1551.8 944.1 L1553.7 944.4 L1555.6 945.0 L1557.4 945.8 L1559.2 946.7 L1560.9 947.7 L1562.7 948.7 L1564.4 949.7 L1566.1 950.7 L1567.9 951.6 L1569.7 952.6 L1571.5 953.4 L1573.3 954.3 L1575.1 955.1 L1576.9 955.9 L1578.8 956.7 L1580.6 957.4 L1582.5 958.0 L1584.4 958.5 L1586.4 958.8 L1588.4 958.9 L1590.3 958.7 L1592.3 958.3 L1594.2 957.7 L1596.0 956.9 L1597.7 956.0 L1599.4 954.9 L1601.0 953.8 L1602.6 952.5 L1604.0 951.1 L1605.4 949.7 L1606.6 948.1 L1607.9 946.5 L1609.0 944.9 L1610.1 943.2 L1611.2 941.6 L1612.3 939.9 L1613.4 938.2 L1614.5 936.6 L1615.6 934.9 L1616.8 933.3 L1618.1 931.7 L1619.4 930.2 L1620.7 928.7 L1622.1 927.3 L1623.5 925.9 L1624.9 924.5 L1626.4 923.2 L1628.0 921.9 L1629.6 920.8 L1631.3 919.7 L1633.1 918.8 L1634.9 918.2 L1636.9 917.8 L1638.8 917.7 L1640.8 917.8 L1642.8 918.1 L1644.8 918.3 L1646.7 918.4 L1648.7 918.3 L1650.6 917.9 L1652.4 917.2 L1654.1 916.3 L1655.7 915.1 L1657.1 913.7 L1658.4 912.3 L1659.6 910.7 L1660.8 909.1 L1661.9 907.4 L1662.9 905.7 L1663.9 904.0 L1664.9 902.2 L1665.8 900.4 L1666.7 898.6 L1667.5 896.8 L1668.4 895.0 L1669.2 893.2 L1670.0 891.4 L1670.8 889.5 L1671.6 887.7 L1672.4 885.9 L1673.2 884.0 L1674.0 882.2 L1674.8 880.4 L1675.7 878.6 L1676.5 876.7 L1677.3 874.9 L1678.1 873.1 L1678.9 871.2 L1679.7 869.4 L1680.4 867.6 L1681.2 865.7 L1682.0 863.9 L1682.8 862.0 L1683.6 860.2 L1684.4 858.4 L1685.2 856.5 L1686.0 854.7 L1686.8 852.9 L1687.6 851.0 L1688.4 849.2 L1689.3 847.4 L1690.2 845.6 L1691.1 843.8 L1692.0 842.1 L1693.0 840.4 L1694.1 838.6 L1695.1 836.9 L1696.2 835.3 L1697.4 833.7 L1698.6 832.0 L1699.8 830.4 L1701.0 828.8 L1702.2 827.2 L1703.4 825.6 L1704.5 824.0 L1705.7 822.4 L1706.9 820.8 L1708.1 819.2 L1709.2 817.5 L1710.4 815.9 L1711.5 814.3 L1712.7 812.7 L1713.9 811.0 L1715.0 809.4 L1716.2 807.8 L1717.4 806.2 L1718.5 804.5 L1719.7 802.9 L1720.9 801.3 L1722.0 799.7 L1723.2 798.0 L1724.4 796.4 L1725.5 794.8 L1726.7 793.1 L1727.8 791.5 L1729.0 789.9 L1730.1 788.2 L1731.3 786.6 L1732.4 785.0 L1733.6 783.3 L1734.8 781.7 L1735.9 780.1 L1737.1 778.5 L1738.2 776.8 L1739.4 775.2 L1740.6 773.7 L1741.7 772.3 L1742.8 771.1 L1743.8 770.1 L1744.8 769.1 L1745.7 768.1 L1746.6 766.9 L1747.5 765.5 L1748.4 763.8 L1749.3 762.1 L1750.2 760.3 L1751.1 758.6 L1752.0 756.8 L1753.0 755.0 L1753.9 753.3 L1754.8 751.5 L1755.8 749.7 L1756.7 747.9 L1757.5 746.1 L1758.4 744.3 L1759.1 742.5 L1759.9 740.6 L1760.7 738.8 L1761.4 736.9 L1762.1 735.0 L1762.8 733.2 L1763.6 731.3 L1764.3 729.5 L1765.1 727.6 L1765.8 725.8 L1766.5 723.9 L1767.3 722.0 L1768.0 720.2 L1768.7 718.3 L1769.4 716.4 L1770.1 714.5 L1770.8 712.7 L1771.4 710.8 L1772.1 708.9 L1772.6 707.0 L1773.2 705.1 L1773.7 703.1 L1774.2 701.2 L1774.7 699.2 L1775.2 697.3 L1775.6 695.4 L1776.1 693.4 L1776.5 691.5 L1777.0 689.5 L1777.5 687.6 L1778.0 685.6 L1778.5 683.7 L1779.0 681.8 L1779.6 679.9 L1780.1 677.9 L1780.7 676.0 L1781.2 674.1 L1781.8 672.2 L1782.3 670.2 L1782.8 668.3 L1783.3 666.4 L1783.8 664.4 L1784.3 662.5 L1784.7 660.5 L1785.2 658.6 L1785.7 656.6 L1786.1 654.7 L1786.6 652.7 L1787.0 650.8 L1787.5 648.9 L1788.0 646.9 L1788.4 645.0 L1788.9 643.0 L1789.4 641.1 L1789.8 639.1 L1790.3 637.2 L1790.8 635.2 L1791.2 633.3 L1791.7 631.4 L1792.2 629.4 L1792.6 627.5 L1793.1 625.5 L1793.6 623.6 L1794.0 621.6 L1794.5 619.7 L1795.0 617.7 L1795.4 615.8 L1795.9 613.8 L1796.3 611.9 L1796.7 609.9 L1797.2 608.0 L1797.6 606.0 L1798.0 604.1 L1798.4 602.1 L1798.8 600.2 L1799.2 598.2 L1799.6 596.2 L1800.0 594.3 L1800.4 592.3 L1800.7 590.3 L1801.1 588.4 L1801.5 586.4 L1801.9 584.5 L1802.3 582.5 L1802.7 580.5 L1803.1 578.6 L1803.5 576.6 L1803.9 574.7 L1804.3 572.7 L1804.8 570.8 L1805.2 568.8 L1805.7 566.9 L1806.1 564.9 L1806.6 563.0 L1807.0 561.0 L1807.5 559.1 L1808.0 557.1 L1808.4 555.2 L1808.9 553.2 L1809.3 551.3 L1809.8 549.3 L1810.2 547.4 L1810.6 545.4 L1811.0 543.5 L1811.4 541.5 L1811.8 539.5 L1812.2 537.6 L1812.6 535.6 L1812.9 533.6 L1813.3 531.7 L1813.6 529.7 L1813.9 527.7 L1814.3 525.8 L1814.6 523.8 L1814.9 521.8 L1815.2 519.8 L1815.6 517.9 L1815.9 515.9 L1816.2 513.9 L1816.5 511.9 L1816.8 510.0 L1817.1 508.0 L1817.4 506.0 L1817.7 504.0 L1817.9 502.0 L1818.2 500.1 L1818.5 498.1 L1818.7 496.1 L1819.0 494.1 L1819.3 492.1 L1819.6 490.2 L1819.9 488.2 L1820.2 486.2 L1820.5 484.2 L1820.9 482.3 L1821.2 480.3 L1821.6 478.3 L1821.9 476.4 L1822.3 474.4 L1822.6 472.4 L1823.0 470.4 L1823.3 468.5 L1823.7 466.5 L1824.0 464.5 L1824.4 462.6 L1824.7 460.6 L1825.1 458.6 L1825.4 456.7 L1825.8 454.7 L1826.1 452.7 L1826.5 450.8 L1826.8 448.8 L1827.2 446.8 L1827.5 444.8 L1827.9 442.9 L1828.2 440.9 L1828.5 438.9 L1828.9 437.0 L1829.2 435.0 L1829.6 433.0 L1829.9 431.1 L1830.3 429.1 L1830.6 427.1 L1831.0 425.1 L1831.3 423.2 L1831.7 421.2 L1832.0 419.2 L1832.3 417.3 L1832.7 415.3 L1833.0 413.3 L1833.4 411.4 L1833.7 409.4 L1834.0 407.4 L1834.4 405.4 L1834.7 403.5 L1835.0 401.5 L1835.3 399.5 L1835.6 397.5 L1835.9 395.6 L1836.2 393.6 L1836.5 391.6 L1836.8 389.6 L1837.1 387.6 L1837.4 385.7 L1837.7 383.7 L1838.1 381.7 L1838.5 379.8 L1838.9 377.8 L1839.2 375.8 L1839.6 373.9 L1840.0 371.9 L1840.4 370.0 L1840.8 368.0 L1841.3 366.0 L1841.7 364.1 L1842.1 362.1 L1842.5 360.2 L1843.0 358.2 L1843.4 356.3 L1843.9 354.3 L1844.3 352.4 L1844.8 350.4 L1845.2 348.5 L1845.7 346.5 L1846.1 344.6 L1846.6 342.6 L1847.0 340.7 L1847.4 338.7 L1847.8 336.8 L1848.2 334.8 L1848.6 332.9 L1849.0 330.9 L1849.4 328.9 L1849.8 327.0 L1850.2 325.0 L1850.6 323.1 L1851.0 321.1 L1851.4 319.1 L1851.8 317.2 L1852.2 315.2 L1852.6 313.3 L1853.0 311.3 L1853.4 309.3 L1853.9 307.4 L1854.4 305.5 L1854.9 303.6 L1855.6 301.7 L1856.4 299.9 L1857.3 298.2 L1858.4 296.6 L1859.7 295.2 L1861.1 294.1 L1862.6 293.5 L1864.2 293.4 L1865.8 293.8 L1867.3 294.7 L1868.7 296.0 L1869.9 297.4 L1871.0 299.1 L1872.0 300.8 L1872.8 302.6 L1873.5 304.4 L1874.2 306.3 L1874.8 308.2 L1875.4 310.1 L1875.9 312.1 L1876.3 314.0 L1876.8 315.9 L1877.2 317.9 L1877.7 319.8 L1878.1 321.8 L1878.5 323.8 L1878.9 325.7 L1879.3 327.7 L1879.7 329.6 L1880.1 331.6 L1880.5 333.6 L1880.9 335.5 L1881.3 337.5 L1881.7 339.4 L1882.1 341.4 L1882.4 343.4 L1882.8 345.3 L1883.2 347.3 L1883.6 349.3 L1883.9 351.2 L1884.3 353.2 L1884.6 355.2 L1884.9 357.1 L1885.3 359.1 L1885.6 361.1 L1885.9 363.1 L1886.2 365.0 L1886.5 367.0 L1886.8 369.0 L1887.1 371.0 L1887.4 372.9 L1887.8 374.9 L1888.1 376.9 L1888.4 378.9 L1888.7 380.9 L1889.0 382.8 L1889.3 384.8 L1889.6 386.8 L1889.9 388.8 L1890.2 390.7 L1890.5 392.7 L1890.8 394.7 L1891.1 396.7 L1891.4 398.6 L1891.7 400.6 L1892.0 402.6 L1892.3 404.6 L1892.6 406.6 L1892.9 408.5 L1893.2 410.5 L1893.5 412.5 L1893.8 414.5 L1894.1 416.4 L1894.4 418.4 L1894.7 420.4 L1895.0 422.4 L1895.3 424.4 L1895.6 426.3 L1895.9 428.3 L1896.2 430.3 L1896.5 432.3 L1896.8 434.2 L1897.1 436.2 L1897.4 438.2 L1897.7 440.2 L1898.1 442.1 L1898.4 444.1 L1898.7 446.1 L1899.0 448.1 L1899.4 450.0 L1899.7 452.0 L1900.1 454.0 L1900.4 455.9 L1900.8 457.9 L1901.1 459.9 L1901.5 461.8 L1901.9 463.8 L1902.3 465.8 L1902.6 467.7 L1903.0 469.7 L1903.4 471.7 L1903.8 473.6 L1904.2 475.6 L1904.6 477.5 L1905.0 479.5 L1905.4 481.5 L1905.8 483.4 L1906.2 485.4 L1906.6 487.3 L1907.0 489.3 L1907.4 491.3 L1907.8 493.2 L1908.2 495.2 L1908.5 497.1 L1908.9 499.1 L1909.3 501.1 L1909.7 503.0 L1910.1 505.0 L1910.4 507.0 L1910.8 508.9 L1911.1 510.9 L1911.5 512.9 L1911.8 514.8 L1912.2 516.8 L1912.5 518.8 L1912.9 520.7 L1913.2 522.7 L1913.6 524.7 L1913.9 526.7 L1914.3 528.6 L1914.7 530.6 L1915.1 532.5 L1915.5 534.5 L1916.0 536.4 L1916.5 538.4 L1917.0 540.3 L1917.6 542.2 L1918.1 544.1 L1918.6 546.1 L1919.2 548.0 L1919.7 549.9 L1920.3 551.8 L1920.8 553.8 L1921.4 555.7 L1921.9 557.6 L1922.5 559.5 L1923.0 561.4 L1923.6 563.4 L1924.2 565.3 L1924.8 567.2 L1925.4 569.1 L1925.9 571.0 L1926.6 572.9 L1927.2 574.8 L1927.8 576.7 L1928.4 578.6 L1929.1 580.5 L1929.7 582.4 L1930.4 584.3 L1931.0 586.2 L1931.7 588.1 L1932.3 590.0 L1933.0 591.9 L1933.6 593.8 L1934.2 595.7 L1934.8 597.6 L1935.4 599.5 L1936.0 601.4 L1936.6 603.3 L1937.2 605.2 L1937.7 607.1 L1938.3 609.1 L1938.8 611.0 L1939.4 612.9 L1939.9 614.8 L1940.5 616.8 L1941.0 618.7 L1941.5 620.6 L1942.1 622.5 L1942.6 624.5 L1943.2 626.4 L1943.7 628.3 L1944.2 630.2 L1944.8 632.2 L1945.3 634.1 L1945.9 636.0 L1946.4 637.9 L1947.0 639.9 L1947.5 641.8 L1948.1 643.7 L1948.6 645.6 L1949.2 647.5 L1949.7 649.5 L1950.3 651.4 L1950.8 653.3 L1951.4 655.2 L1951.9 657.2 L1952.5 659.1 L1953.0 661.0 L1953.6 662.9 L1954.1 664.8 L1954.7 666.8 L1955.3 668.7 L1955.8 670.6 L1956.4 672.5 L1957.0 674.4 L1957.6 676.3 L1958.2 678.2 L1958.8 680.2 L1959.4 682.1 L1960.0 684.0 L1960.6 685.9 L1961.1 687.8 L1961.7 689.7 L1962.2 691.7 L1962.8 693.6 L1963.3 695.5 L1963.8 697.4 L1964.3 699.4 L1964.8 701.3 L1965.3 703.3 L1965.8 705.2 L1966.3 707.1 L1966.7 709.1 L1967.2 711.0 L1967.7 713.0 L1968.2 714.9 L1968.6 716.9 L1969.1 718.8 L1969.5 720.7 L1970.0 722.7 L1970.5 724.6 L1970.9 726.6 L1971.4 728.5 L1971.9 730.5 L1972.3 732.4 L1972.8 734.4 L1973.3 736.3 L1973.7 738.2 L1974.2 740.2 L1974.7 742.1 L1975.2 744.1 L1975.7 746.0 L1976.2 748.0 L1976.7 749.9 L1977.2 751.8 L1977.7 753.8 L1978.2 755.7 L1978.7 757.6 L1979.3 759.5 L1979.8 761.5 L1980.4 763.4 L1980.9 765.3 L1981.5 767.2 L1982.0 769.2 L1982.6 771.1 L1983.2 773.0 L1983.8 774.9 L1984.4 776.8 L1985.0 778.7 L1985.6 780.6 L1986.2 782.5 L1986.8 784.4 L1987.4 786.3 L1988.0 788.2 L1988.6 790.2 L1989.2 792.1 L1989.8 794.0 L1990.4 795.9 L1991.0 797.8 L1991.6 799.7 L1992.2 801.6 L1992.8 803.5 L1993.4 805.4 L1994.0 807.3 L1994.6 809.2 L1995.2 811.1 L1995.8 813.0 L1996.4 815.0 L1997.0 816.9 L1997.6 818.8 L1998.2 820.7 L1998.7 822.6 L1999.3 824.5 L1999.9 826.4 L2000.5 828.3 L2001.1 830.3 L2001.6 832.2 L2002.2 834.1 L2002.8 836.0 L2003.3 837.9 L2003.9 839.8 L2004.5 841.8 L2005.0 843.7 L2005.6 845.6 L2006.1 847.5 L2006.7 849.4 L2007.3 851.4 L2007.8 853.3 L2008.4 855.2 L2009.0 857.1 L2009.6 859.0 L2010.2 860.9 L2010.8 862.8 L2011.4 864.7 L2012.0 866.7 L2012.6 868.6 L2013.2 870.5 L2013.8 872.4 L2014.5 874.3 L2015.1 876.2 L2015.8 878.0 L2016.4 879.9 L2017.1 881.8 L2017.8 883.7 L2018.5 885.6 L2019.2 887.4 L2020.0 889.3 L2020.7 891.1 L2021.5 893.0 L2022.3 894.8 L2023.1 896.7 L2023.9 898.5 L2024.7 900.3 L2025.5 902.2 L2026.3 904.0 L2027.1 905.8 L2027.9 907.6 L2028.7 909.5 L2029.5 911.3 L2030.4 913.1 L2031.2 914.9 L2032.0 916.7 L2032.9 918.6 L2033.7 920.4 L2034.5 922.2 L2035.3 924.0 L2036.2 925.8 L2037.0 927.7 L2037.8 929.5 L2038.7 931.3 L2039.5 933.1 L2040.3 934.9 L2041.1 936.8 L2042.0 938.6 L2042.8 940.4 L2043.6 942.2 L2044.5 944.0 L2045.3 945.9 L2046.1 947.7 L2047.0 949.5 L2047.8 951.3 L2048.7 953.1 L2049.5 954.9 L2050.4 956.7 L2051.3 958.5 L2052.2 960.3 L2053.1 962.1 L2054.0 963.9 L2054.9 965.7 L2055.8 967.5 L2056.7 969.2 L2057.6 971.0 L2058.6 972.8 L2059.5 974.5 L2060.5 976.3 L2061.5 978.0 L2062.4 979.8 L2063.4 981.5 L2064.4 983.2 L2065.4 985.0 L2066.4 986.7 L2067.5 988.4 L2068.5 990.1 L2069.6 991.8 L2070.6 993.5 L2071.7 995.2 L2072.8 996.9 L2073.9 998.6 L2075.0 1000.2 L2076.1 1001.9 L2077.2 1003.5 L2078.4 1005.2 L2079.5 1006.8 L2080.7 1008.4 L2081.9 1010.1 L2083.0 1011.7 L2084.2 1013.3 L2085.4 1014.9 L2086.6 1016.5 L2087.8 1018.1 L2088.9 1019.7 L2090.1 1021.4 L2091.3 1023.0 L2092.5 1024.6 L2093.6 1026.2 L2094.8 1027.9 L2095.9 1029.5 L2097.1 1031.1 L2098.2 1032.8 L2099.4 1034.4 L2100.5 1036.0 L2101.7 1037.7 L2102.8 1039.3 L2103.9 1041.0 L2105.1 1042.6 L2106.2 1044.3 L2107.4 1045.9 L2108.5 1047.6 L2109.6 1049.2 L2110.8 1050.8 L2111.9 1052.5 L2113.0 1054.1 L2114.2 1055.8 L2115.3 1057.4 L2116.5 1059.1 L2117.6 1060.7 L2118.7 1062.4 L2119.8 1064.0 L2121.0 1065.7 L2122.1 1067.3 L2123.2 1069.0 L2124.3 1070.7 L2125.4 1072.3 L2126.5 1074.0 L2127.7 1075.6 L2128.8 1077.3 L2129.9 1079.0 L2131.0 1080.6 L2132.1 1082.3 L2133.3 1083.9 L2134.4 1085.5 L2135.6 1087.2 L2136.8 1088.8 L2138.0 1090.4 L2139.2 1091.9 L2140.6 1093.4 L2142.0 1094.8 L2143.5 1096.1 L2145.1 1097.3 L2146.8 1098.3 L2148.5 1099.4 L2150.1 1100.6 L2151.7 1101.8 L2153.2 1103.0 L2154.8 1104.3 L2156.3 1105.6 L2157.8 1106.9 L2159.4 1108.2 L2160.9 1109.4 L2162.4 1110.7 L2163.9 1112.1 L2165.4 1113.4 L2166.9 1114.7 L2168.4 1116.0 L2169.9 1117.4 L2171.3 1118.8 L2172.8 1120.2 L2174.2 1121.5 L2175.6 1123.0 L2177.1 1124.4 L2178.5 1125.8 L2179.9 1127.2 L2181.3 1128.6 L2182.7 1130.0 L2184.2 1131.4 L2185.6 1132.8 L2187.1 1134.1 L2188.5 1135.5 L2190.0 1136.8 L2191.5 1138.1 L2193.1 1139.4 L2194.6 1140.7 L2196.2 1141.9 L2197.8 1143.1 L2199.5 1144.2 L2201.2 1145.3 L2202.9 1146.3 L2204.6 1147.3 L2206.4 1148.3 L2208.1 1149.2 L2209.9 1150.1 L2211.7 1151.0 L2213.5 1151.9 L2215.3 1152.8 L2217.0 1153.7 L2218.8 1154.7 L2220.5 1155.7 L2222.2 1156.7 L2223.9 1157.8 L2225.5 1159.0 L2227.1 1160.2 L2228.7 1161.4 L2230.2 1162.8 L2231.7 1164.1 L2233.1 1165.5 L2234.6 1166.8 L2236.0 1168.2 L2237.5 1169.5 L2239.0 1170.8 L2240.6 1172.0 L2242.3 1173.1 L2244.0 1174.1 L2245.8 1174.9 L2247.7 1175.6 L2249.6 1176.2 L2251.6 1176.7 L2253.5 1177.1 L2255.4 1177.6 L2257.4 1178.1 L2259.3 1178.6 L2261.2 1179.2 L2263.1 1179.8 L2265.0 1180.5 L2266.9 1181.2 L2268.7 1182.0 L2270.4 1183.0 L2272.1 1184.0 L2273.8 1185.1 L2275.5 1186.2 L2277.1 1187.4 L2278.7 1188.6 L2280.3 1189.7 L2281.9 1190.9 L2283.6 1192.1 L2285.2 1193.3 L2286.8 1194.4 L2288.5 1195.5 L2290.2 1196.6 L2291.9 1197.6 L2293.6 1198.6 L2295.3 1199.6 L2297.1 1200.6 L2298.8 1201.6 L2300.6 1202.6 L2302.3 1203.5 L2304.1 1204.5 L2305.9 1205.4 L2307.7 1206.3 L2309.5 1207.1 L2311.3 1208.0 L2313.0 1208.9 L2314.7 1210.0 L2316.3 1211.1 L2317.9 1212.4 L2319.5 1213.6 L2321.0 1214.9 L2322.5 1216.2 L2324.0 1217.6 L2325.5 1218.9 L2326.9 1220.3 L2328.4 1221.6 L2329.9 1223.0 L2331.3 1224.4 L2332.8 1225.8 L2334.2 1227.1 L2335.6 1228.5 L2337.1 1230.0 L2338.5 1231.4 L2339.8 1232.8 L2341.2 1234.3 L2342.6 1235.7 L2344.0 1237.2 L2345.4 1238.6 L2346.8 1240.0 L2348.3 1241.3 L2349.8 1242.6 L2351.4 1243.8 L2353.0 1245.0 L2354.6 1246.2 L2356.3 1247.2 L2358.1 1248.1 L2359.9 1248.9 L2361.8 1249.4 L2363.8 1249.6 L2365.7 1249.6 L2367.7 1249.2 L2369.6 1248.8 L2371.6 1248.4 L2373.5 1248.1 L2375.5 1248.0 L2377.4 1248.3 L2379.3 1248.9 L2381.0 1249.8 L2382.7 1250.8 L2384.3 1252.0 L2385.9 1253.3 L2387.4 1254.6 L2388.9 1255.9 L2390.3 1257.3 L2391.7 1258.7 L2393.1 1260.2 L2394.4 1261.7 L2395.6 1263.3 L2396.9 1264.8 L2398.1 1266.4 L2399.4 1267.9 L2400.7 1269.4 L2402.0 1270.9 L2403.3 1272.5 L2404.6 1274.0 L2406.0 1275.4 L2407.5 1276.7 L2409.1 1277.8 L2410.9 1278.6 L2412.8 1279.2 L2414.7 1279.6 L2416.7 1279.8 L2418.7 1279.9 L2420.7 1279.9 L2422.7 1279.9 L2424.7 1279.9 L2426.7 1279.8 L2428.7 1279.7 L2430.7 1279.6 L2432.7 1279.5 L2434.7 1279.4 L2436.7 1279.4 L2438.2 1279.3" stroke="#ff30ff"/>
<path d="M197.2 1378.1 L199.2 1377.8 L201.1 1377.4 L203.1 1377.1 L205.1 1376.8 L207.1 1376.5 L209.0 1376.1 L211.0 1375.8 L213.0 1375.5 L215.0 1375.1 L216.9 1374.8 L218.9 1374.5 L220.9 1374.1 L222.8 1373.7 L224.8 1373.3 L226.8 1372.9 L228.7 1372.5 L230.7 1372.1 L232.6 1371.6 L234.5 1371.0 L236.4 1370.5 L238.3 1369.9 L240.2 1369.3 L242.1 1368.6 L244.0 1368.0 L245.9 1367.3 L247.8 1366.7 L249.8 1366.1 L251.7 1365.6 L253.6 1365.0 L255.5 1364.5 L257.5 1364.0 L259.4 1363.5 L261.3 1362.9 L263.3 1362.4 L265.2 1361.9 L267.1 1361.4 L269.1 1361.0 L271.0 1360.5 L273.0 1360.1 L274.9 1359.6 L276.9 1359.2 L278.8 1358.8 L280.8 1358.5 L282.8 1358.1 L284.8 1357.8 L286.7 1357.5 L288.7 1357.2 L290.7 1356.9 L292.7 1356.6 L294.6 1356.4 L296.6 1356.1 L298.6 1355.9 L300.6 1355.6 L302.6 1355.4 L304.6 1355.2 L306.6 1354.9 L308.6 1354.7 L310.5 1354.5 L312.5 1354.3 L314.5 1354.2 L316.5 1354.0 L318.5 1353.8 L320.5 1353.7 L322.5 1353.6 L324.5 1353.5 L326.5 1353.4 L328.5 1353.4 L330.5 1353.5 L332.5 1353.6 L334.5 1353.8 L336.5 1354.0 L338.4 1354.3 L340.4 1354.7 L342.4 1355.0 L344.4 1355.3 L346.3 1355.6 L348.3 1355.8 L350.3 1356.1 L352.3 1356.3 L354.3 1356.6 L356.3 1356.8 L358.2 1357.1 L360.2 1357.4 L362.2 1357.6 L364.2 1357.9 L366.2 1358.1 L368.2 1358.3 L370.2 1358.6 L372.1 1358.8 L374.1 1358.9 L376.1 1359.1 L378.1 1359.2 L380.1 1359.3 L382.1 1359.3 L384.1 1359.3 L386.1 1359.3 L388.1 1359.2 L390.1 1359.1 L392.1 1358.9 L394.1 1358.7 L396.1 1358.5 L398.1 1358.3 L400.1 1358.1 L402.1 1357.9 L404.1 1357.8 L406.0 1357.6 L408.0 1357.4 L410.0 1357.3 L412.0 1357.1 L414.0 1357.0 L416.0 1356.8 L418.0 1356.7 L420.0 1356.5 L422.0 1356.4 L424.0 1356.3 L426.0 1356.1 L428.0 1356.0 L430.0 1355.8 L432.0 1355.6 L434.0 1355.4 L436.0 1355.3 L438.0 1355.1 L439.9 1354.9 L441.9 1354.6 L443.9 1354.4 L445.9 1354.2 L447.9 1353.9 L449.9 1353.7 L451.9 1353.4 L453.8 1353.1 L455.8 1352.9 L457.8 1352.6 L459.8 1352.3 L461.8 1352.0 L463.7 1351.7 L465.7 1351.4 L467.7 1351.1 L469.7 1350.8 L471.6 1350.4 L473.6 1350.1 L475.6 1349.8 L477.6 1349.5 L479.5 1349.1 L481.5 1348.8 L483.5 1348.5 L485.4 1348.1 L487.4 1347.8 L489.4 1347.4 L491.4 1347.1 L493.3 1346.7 L495.3 1346.4 L497.3 1346.0 L499.2 1345.7 L501.2 1345.3 L503.2 1344.9 L505.1 1344.5 L507.1 1344.2 L509.0 1343.8 L511.0 1343.4 L513.0 1343.0 L514.9 1342.6 L516.9 1342.2 L518.8 1341.7 L520.8 1341.3 L522.7 1340.8 L524.7 1340.3 L526.6 1339.8 L528.5 1339.3 L530.5 1338.7 L532.4 1338.2 L534.3 1337.6 L536.2 1337.1 L538.1 1336.5 L540.1 1335.9 L542.0 1335.4 L543.9 1334.8 L545.8 1334.2 L547.7 1333.7 L549.7 1333.2 L551.6 1332.7 L553.6 1332.2 L555.5 1331.8 L557.5 1331.4 L559.4 1331.1 L561.4 1330.7 L563.4 1330.5 L565.4 1330.2 L567.4 1330.0 L569.4 1329.9 L571.4 1329.8 L573.4 1329.7 L575.4 1329.6 L577.4 1329.6 L579.4 1329.6 L581.4 1329.6 L583.4 1329.6 L585.4 1329.5 L587.4 1329.5 L589.4 1329.5 L591.4 1329.5 L593.4 1329.4 L595.4 1329.3 L597.3 1329.2 L599.3 1329.0 L601.3 1328.8 L603.3 1328.6 L605.3 1328.4 L607.3 1328.2 L609.3 1327.9 L611.3 1327.6 L613.2 1327.4 L615.2 1327.1 L617.2 1326.8 L619.2 1326.5 L621.2 1326.2 L623.1 1325.9 L625.1 1325.6 L627.1 1325.3 L629.1 1325.0 L631.1 1324.8 L633.0 1324.5 L635.0 1324.2 L637.0 1324.0 L639.0 1323.8 L641.0 1323.6 L643.0 1323.4 L645.0 1323.2 L647.0 1323.1 L649.0 1323.0 L651.0 1322.9 L653.0 1322.8 L655.0 1322.8 L657.0 1322.8 L659.0 1322.8 L661.0 1322.8 L663.0 1322.9 L665.0 1323.0 L666.9 1323.0 L668.9 1323.1 L670.9 1323.2 L672.9 1323.3 L674.9 1323.4 L676.9 1323.6 L678.9 1323.7 L680.9 1323.8 L682.9 1323.8 L684.9 1323.9 L686.9 1324.0 L688.9 1324.0 L690.9 1324.1 L692.9 1324.1 L694.9 1324.0 L696.9 1323.9 L698.9 1323.8 L700.9 1323.6 L702.9 1323.4 L704.9 1323.1 L706.8 1322.8 L708.8 1322.4 L710.7 1321.9 L712.7 1321.4 L714.6 1320.8 L716.5 1320.3 L718.4 1319.7 L720.3 1319.1 L722.3 1318.5 L724.2 1318.0 L726.1 1317.5 L728.1 1317.0 L730.0 1316.5 L731.9 1316.0 L733.9 1315.6 L735.8 1315.1 L737.8 1314.6 L739.7 1314.1 L741.7 1313.7 L743.6 1313.2 L745.5 1312.7 L747.5 1312.2 L749.4 1311.8 L751.4 1311.3 L753.3 1310.8 L755.3 1310.3 L757.2 1309.8 L759.1 1309.3 L761.1 1308.8 L763.0 1308.3 L764.9 1307.8 L766.9 1307.3 L768.8 1306.8 L770.7 1306.2 L772.6 1305.6 L774.5 1305.0 L776.4 1304.4 L778.3 1303.7 L780.2 1303.1 L782.1 1302.4 L784.0 1301.8 L785.9 1301.2 L787.8 1300.6 L789.8 1300.1 L791.7 1299.6 L793.6 1299.1 L795.6 1298.6 L797.5 1298.2 L799.5 1297.8 L801.4 1297.4 L803.4 1297.0 L805.4 1296.6 L807.3 1296.3 L809.3 1295.9 L811.3 1295.6 L813.3 1295.3 L815.2 1294.9 L817.2 1294.6 L819.2 1294.3 L821.2 1294.0 L823.1 1293.7 L825.1 1293.4 L827.1 1293.1 L829.1 1292.8 L831.0 1292.5 L833.0 1292.2 L835.0 1291.9 L837.0 1291.6 L839.0 1291.4 L840.9 1291.1 L842.9 1290.8 L844.9 1290.6 L846.9 1290.3 L848.9 1290.0 L850.9 1289.8 L852.8 1289.5 L854.8 1289.3 L856.8 1289.1 L858.8 1288.8 L860.8 1288.6 L862.8 1288.3 L864.8 1288.1 L866.8 1287.9 L868.7 1287.7 L870.7 1287.5 L872.7 1287.3 L874.7 1287.1 L876.7 1286.9 L878.7 1286.7 L880.7 1286.5 L882.7 1286.3 L884.7 1286.2 L886.7 1286.0 L888.7 1285.9 L890.7 1285.8 L892.7 1285.7 L894.7 1285.6 L896.7 1285.5 L898.7 1285.4 L900.6 1285.4 L902.6 1285.4 L904.6 1285.4 L906.6 1285.5 L908.6 1285.6 L910.6 1285.7 L912.6 1285.8 L914.6 1285.9 L916.6 1286.0 L918.6 1286.1 L920.6 1286.2 L922.6 1286.3 L924.6 1286.4 L926.6 1286.5 L928.6 1286.5 L930.6 1286.5 L932.6 1286.5 L934.6 1286.5 L936.6 1286.4 L938.6 1286.3 L940.6 1286.1 L942.6 1286.0 L944.6 1285.8 L946.6 1285.6 L948.6 1285.4 L950.6 1285.2 L952.6 1285.0 L954.5 1284.8 L956.5 1284.5 L958.5 1284.3 L960.5 1284.1 L962.5 1283.8 L964.5 1283.6 L966.5 1283.3 L968.4 1283.1 L970.4 1282.9 L972.4 1282.7 L974.4 1282.5 L976.4 1282.3 L978.4 1282.2 L980.4 1282.0 L982.4 1281.9 L984.4 1281.8 L986.4 1281.7 L988.4 1281.6 L990.4 1281.4 L992.4 1281.3 L994.4 1281.1 L996.4 1281.0 L998.4 1280.8 L1000.3 1280.5 L1002.3 1280.3 L1004.3 1280.1 L1006.3 1279.8 L1008.3 1279.6 L1010.3 1279.3 L1012.3 1279.1 L1014.2 1278.8 L1016.2 1278.5 L1018.2 1278.2 L1020.2 1277.9 L1022.1 1277.5 L1024.1 1277.2 L1026.1 1276.8 L1028.0 1276.5 L1030.0 1276.1 L1032.0 1275.7 L1033.9 1275.3 L1035.9 1274.8 L1037.8 1274.4 L1039.8 1274.0 L1041.7 1273.5 L1043.7 1273.0 L1045.6 1272.6 L1047.6 1272.1 L1049.5 1271.6 L1051.4 1271.1 L1053.4 1270.7 L1055.3 1270.2 L1057.3 1269.7 L1059.2 1269.2 L1061.1 1268.6 L1063.1 1268.1 L1065.0 1267.6 L1066.9 1267.1 L1068.9 1266.6 L1070.8 1266.0 L1072.7 1265.5 L1074.6 1264.9 L1076.5 1264.4 L1078.5 1263.8 L1080.4 1263.2 L1082.3 1262.6 L1084.2 1262.0 L1086.1 1261.4 L1088.0 1260.8 L1089.9 1260.1 L1091.8 1259.5 L1093.7 1258.9 L1095.6 1258.2 L1097.5 1257.6 L1099.4 1257.0 L1101.3 1256.4 L1103.2 1255.8 L1105.1 1255.2 L1107.0 1254.6 L1108.9 1254.0 L1110.9 1253.5 L1112.8 1253.0 L1114.7 1252.5 L1116.7 1252.0 L1118.6 1251.5 L1120.6 1251.1 L1122.5 1250.6 L1124.5 1250.2 L1126.4 1249.9 L1128.4 1249.5 L1130.4 1249.1 L1132.3 1248.8 L1134.3 1248.4 L1136.3 1248.1 L1138.3 1247.7 L1140.2 1247.4 L1142.2 1247.1 L1144.2 1246.7 L1146.1 1246.4 L1148.1 1246.1 L1150.1 1245.7 L1152.0 1245.4 L1154.0 1245.0 L1156.0 1244.6 L1157.9 1244.2 L1159.9 1243.8 L1161.8 1243.4 L1163.8 1242.9 L1165.7 1242.5 L1167.7 1242.0 L1169.6 1241.6 L1171.6 1241.1 L1173.5 1240.6 L1175.5 1240.2 L1177.4 1239.7 L1179.4 1239.2 L1181.3 1238.8 L1183.3 1238.3 L1185.2 1237.9 L1187.2 1237.4 L1189.1 1237.0 L1191.1 1236.5 L1193.0 1236.1 L1195.0 1235.7 L1196.9 1235.3 L1198.9 1234.9 L1200.9 1234.6 L1202.8 1234.2 L1204.8 1233.9 L1206.8 1233.6 L1208.8 1233.3 L1210.7 1233.0 L1212.7 1232.7 L1214.7 1232.4 L1216.7 1232.1 L1218.7 1231.9 L1220.6 1231.6 L1222.6 1231.3 L1224.6 1231.1 L1226.6 1230.8 L1228.6 1230.5 L1230.6 1230.2 L1232.5 1229.9 L1234.5 1229.6 L1236.5 1229.3 L1238.5 1229.0 L1240.4 1228.6 L1242.4 1228.3 L1244.4 1227.9 L1246.3 1227.5 L1248.3 1227.2 L1250.2 1226.8 L1252.2 1226.4 L1254.2 1226.0 L1256.1 1225.6 L1258.1 1225.1 L1260.0 1224.7 L1262.0 1224.3 L1263.9 1223.9 L1265.9 1223.4 L1267.8 1223.0 L1269.8 1222.5 L1271.7 1222.0 L1273.7 1221.5 L1275.6 1221.1 L1277.6 1220.6 L1279.5 1220.1 L1281.4 1219.5 L1283.3 1219.0 L1285.3 1218.5 L1287.2 1217.9 L1289.1 1217.3 L1291.0 1216.8 L1292.9 1216.2 L1294.8 1215.6 L1296.8 1215.0 L1298.7 1214.4 L1300.6 1213.7 L1302.5 1213.1 L1304.4 1212.5 L1306.3 1211.8 L1308.1 1211.2 L1310.0 1210.6 L1311.9 1209.9 L1313.8 1209.3 L1315.7 1208.6 L1317.6 1208.0 L1319.5 1207.3 L1321.4 1206.7 L1323.3 1206.1 L1325.2 1205.4 L1327.1 1204.8 L1329.0 1204.2 L1330.9 1203.6 L1332.8 1203.0 L1334.7 1202.4 L1336.6 1201.8 L1338.5 1201.2 L1340.5 1200.6 L1342.4 1200.0 L1344.3 1199.4 L1346.2 1198.8 L1348.1 1198.1 L1349.9 1197.4 L1351.8 1196.8 L1353.7 1196.1 L1355.5 1195.3 L1357.4 1194.5 L1359.2 1193.7 L1361.0 1192.8 L1362.8 1191.9 L1364.5 1191.0 L1366.3 1190.0 L1368.0 1189.0 L1369.7 1187.9 L1371.4 1186.9 L1373.2 1185.9 L1374.9 1184.9 L1376.7 1183.9 L1378.4 1183.0 L1380.2 1182.1 L1382.0 1181.1 L1383.7 1180.2 L1385.5 1179.3 L1387.3 1178.4 L1389.1 1177.5 L1390.9 1176.6 L1392.7 1175.7 L1394.5 1174.8 L1396.2 1173.9 L1398.0 1173.0 L1399.8 1172.1 L1401.6 1171.2 L1403.4 1170.3 L1405.2 1169.4 L1407.0 1168.5 L1408.8 1167.7 L1410.6 1166.8 L1412.4 1165.9 L1414.2 1165.0 L1416.0 1164.2 L1417.8 1163.3 L1419.5 1162.4 L1421.3 1161.5 L1423.1 1160.6 L1424.9 1159.7 L1426.7 1158.8 L1428.5 1157.9 L1430.2 1156.9 L1432.0 1156.0 L1433.8 1155.1 L1435.5 1154.1 L1437.3 1153.1 L1439.0 1152.2 L1440.8 1151.2 L1442.5 1150.2 L1444.3 1149.2 L1446.0 1148.2 L1447.7 1147.2 L1449.5 1146.2 L1451.2 1145.2 L1452.9 1144.2 L1454.6 1143.2 L1456.4 1142.2 L1458.1 1141.2 L1459.8 1140.1 L1461.5 1139.1 L1463.2 1138.1 L1465.0 1137.1 L1466.7 1136.0 L1468.4 1135.0 L1470.1 1134.0 L1471.8 1133.0 L1473.5 1131.9 L1475.2 1130.9 L1477.0 1129.9 L1478.7 1128.8 L1480.4 1127.8 L1482.1 1126.7 L1483.8 1125.7 L1485.5 1124.7 L1487.2 1123.6 L1488.9 1122.6 L1490.6 1121.5 L1492.3 1120.5 L1494.0 1119.5 L1495.7 1118.4 L1497.5 1117.4 L1499.2 1116.3 L1500.9 1115.3 L1502.6 1114.2 L1504.3 1113.2 L1506.0 1112.2 L1507.7 1111.1 L1509.4 1110.1 L1511.1 1109.1 L1512.8 1108.0 L1514.6 1107.0 L1516.3 1106.0 L1518.0 1105.0 L1519.7 1104.0 L1521.5 1102.9 L1523.2 1101.9 L1524.9 1100.9 L1526.6 1099.9 L1528.4 1098.9 L1530.1 1097.9 L1531.8 1096.9 L1533.5 1095.8 L1535.2 1094.8 L1536.9 1093.8 L1538.6 1092.7 L1540.3 1091.7 L1542.0 1090.6 L1543.7 1089.5 L1545.4 1088.4 L1547.1 1087.3 L1548.7 1086.2 L1550.4 1085.1 L1552.0 1084.0 L1553.7 1082.8 L1555.3 1081.6 L1556.9 1080.4 L1558.5 1079.2 L1560.1 1078.0 L1561.6 1076.7 L1563.2 1075.5 L1564.7 1074.2 L1566.2 1072.9 L1567.7 1071.5 L1569.2 1070.2 L1570.7 1068.9 L1572.1 1067.5 L1573.6 1066.1 L1575.0 1064.7 L1576.5 1063.4 L1577.9 1062.0 L1579.3 1060.6 L1580.8 1059.2 L1582.2 1057.8 L1583.6 1056.4 L1585.1 1055.0 L1586.5 1053.6 L1587.9 1052.2 L1589.3 1050.8 L1590.8 1049.4 L1592.2 1048.0 L1593.7 1046.7 L1595.2 1045.3 L1596.7 1044.0 L1598.2 1042.7 L1599.7 1041.4 L1601.3 1040.2 L1603.0 1039.0 L1604.6 1038.0 L1606.4 1037.0 L1608.2 1036.2 L1610.1 1035.6 L1612.0 1035.1 L1614.0 1034.9 L1616.0 1034.6 L1617.9 1034.4 L1619.9 1033.9 L1621.7 1033.3 L1623.6 1032.5 L1625.3 1031.6 L1627.1 1030.7 L1628.8 1029.7 L1630.6 1028.7 L1632.3 1027.6 L1634.0 1026.6 L1635.7 1025.5 L1637.3 1024.4 L1639.0 1023.3 L1640.7 1022.2 L1642.3 1021.0 L1643.9 1019.8 L1645.5 1018.6 L1647.1 1017.4 L1648.7 1016.2 L1650.2 1014.9 L1651.8 1013.7 L1653.3 1012.4 L1654.9 1011.1 L1656.4 1009.8 L1657.9 1008.5 L1659.3 1007.1 L1660.8 1005.7 L1662.2 1004.3 L1663.5 1002.8 L1664.8 1001.3 L1666.1 999.8 L1667.3 998.2 L1668.5 996.6 L1669.6 994.9 L1670.7 993.3 L1671.7 991.5 L1672.7 989.8 L1673.6 988.0 L1674.6 986.3 L1675.4 984.5 L1676.3 982.7 L1677.2 980.9 L1678.0 979.1 L1678.8 977.2 L1679.6 975.4 L1680.4 973.6 L1681.2 971.7 L1682.0 969.9 L1682.8 968.1 L1683.6 966.2 L1684.4 964.4 L1685.2 962.6 L1686.0 960.7 L1686.8 958.9 L1687.6 957.1 L1688.4 955.2 L1689.1 953.4 L1689.9 951.5 L1690.6 949.7 L1691.4 947.8 L1692.1 945.9 L1692.9 944.1 L1693.6 942.2 L1694.4 940.4 L1695.2 938.6 L1696.1 936.8 L1696.9 935.0 L1697.9 933.2 L1698.8 931.4 L1699.9 929.7 L1701.0 928.1 L1702.1 926.5 L1703.4 924.9 L1704.7 923.4 L1706.1 922.1 L1707.6 920.9 L1709.3 920.0 L1711.0 919.4 L1712.7 919.3 L1714.5 919.5 L1716.2 920.2 L1717.8 921.2 L1719.3 922.4 L1720.7 923.7 L1722.2 925.1 L1723.6 926.4 L1725.1 927.8 L1726.7 929.0 L1728.3 930.2 L1729.9 931.4 L1731.5 932.5 L1733.2 933.7 L1734.8 934.8 L1736.5 935.9 L1738.2 937.0 L1739.9 938.0 L1741.6 939.0 L1743.4 940.0 L1745.1 940.9 L1746.9 941.6 L1748.8 942.2 L1750.7 942.5 L1752.6 942.5 L1754.6 942.4 L1756.5 942.1 L1758.4 941.6 L1760.3 940.9 L1762.0 940.1 L1763.7 939.1 L1765.4 938.0 L1767.0 936.8 L1768.5 935.5 L1770.0 934.1 L1771.4 932.8 L1772.8 931.4 L1774.2 929.9 L1775.6 928.5 L1777.0 927.0 L1778.3 925.6 L1779.7 924.1 L1781.0 922.6 L1782.4 921.1 L1783.7 919.6 L1785.0 918.2 L1786.4 916.7 L1787.7 915.2 L1789.0 913.7 L1790.3 912.1 L1791.6 910.6 L1792.9 909.1 L1794.3 907.6 L1795.6 906.1 L1796.9 904.6 L1798.2 903.0 L1799.5 901.5 L1800.8 900.0 L1802.1 898.5 L1803.3 897.0 L1804.6 895.4 L1805.9 893.9 L1807.2 892.4 L1808.5 890.8 L1809.8 889.3 L1811.0 887.7 L1812.3 886.2 L1813.5 884.6 L1814.8 883.0 L1816.0 881.5 L1817.2 879.9 L1818.4 878.3 L1819.6 876.7 L1820.7 875.0 L1821.9 873.4 L1823.0 871.7 L1824.1 870.1 L1825.2 868.4 L1826.3 866.7 L1827.4 865.0 L1828.4 863.3 L1829.5 861.6 L1830.5 859.9 L1831.5 858.2 L1832.5 856.4 L1833.5 854.7 L1834.5 853.0 L1835.5 851.2 L1836.5 849.5 L1837.4 847.7 L1838.4 846.0 L1839.4 844.3 L1840.4 842.5 L1841.3 840.8 L1842.3 839.0 L1843.3 837.3 L1844.3 835.6 L1845.4 834.0 L1846.4 832.5 L1847.5 831.2 L1848.5 830.0 L1849.6 828.9 L1850.6 827.6 L1851.7 826.2 L1852.7 824.6 L1853.7 823.0 L1854.7 821.3 L1855.6 819.5 L1856.6 817.8 L1857.6 816.0 L1858.6 814.3 L1859.6 812.5 L1860.6 810.8 L1861.6 809.1 L1862.6 807.3 L1863.6 805.6 L1864.6 803.9 L1865.6 802.2 L1866.7 800.5 L1867.7 798.8 L1868.7 797.0 L1869.8 795.3 L1870.8 793.6 L1871.8 791.9 L1872.9 790.2 L1873.9 788.5 L1874.9 786.8 L1876.0 785.1 L1877.0 783.4 L1878.1 781.7 L1879.1 780.0 L1880.2 778.3 L1881.2 776.6 L1882.3 774.8 L1883.3 773.1 L1884.3 771.4 L1885.3 769.7 L1886.3 768.0 L1887.3 766.2 L1888.3 764.5 L1889.2 762.7 L1890.2 761.0 L1891.1 759.2 L1892.1 757.4 L1893.0 755.6 L1893.9 753.9 L1894.7 752.0 L1895.5 750.2 L1896.3 748.4 L1897.1 746.5 L1897.8 744.7 L1898.4 742.8 L1899.1 740.9 L1899.7 739.0 L1900.2 737.0 L1900.8 735.1 L1901.3 733.2 L1901.8 731.3 L1902.3 729.3 L1902.8 727.4 L1903.3 725.5 L1903.8 723.5 L1904.3 721.6 L1904.8 719.6 L1905.2 717.7 L1905.7 715.7 L1906.2 713.8 L1906.7 711.9 L1907.2 709.9 L1907.6 708.0 L1908.1 706.0 L1908.6 704.1 L1909.1 702.2 L1909.7 700.2 L1910.2 698.3 L1910.7 696.4 L1911.3 694.5 L1911.8 692.5 L1912.4 690.6 L1913.0 688.7 L1913.5 686.8 L1914.0 684.8 L1914.6 682.9 L1915.1 681.0 L1915.6 679.1 L1916.1 677.1 L1916.6 675.2 L1917.1 673.2 L1917.5 671.3 L1918.0 669.3 L1918.4 667.4 L1918.9 665.4 L1919.3 663.5 L1919.8 661.5 L1920.2 659.6 L1920.7 657.6 L1921.1 655.7 L1921.6 653.7 L1922.0 651.8 L1922.5 649.8 L1922.9 647.9 L1923.4 645.9 L1923.8 644.0 L1924.3 642.1 L1924.7 640.1 L1925.1 638.2 L1925.6 636.2 L1926.0 634.3 L1926.5 632.3 L1926.9 630.4 L1927.4 628.4 L1927.9 626.5 L1928.3 624.5 L1928.8 622.6 L1929.3 620.6 L1929.8 618.7 L1930.3 616.8 L1930.8 614.8 L1931.3 612.9 L1931.9 611.0 L1932.4 609.0 L1933.0 607.1 L1933.5 605.2 L1934.1 603.3 L1934.6 601.4 L1935.2 599.4 L1935.7 597.5 L1936.2 595.6 L1936.7 593.6 L1937.2 591.7 L1937.7 589.8 L1938.2 587.8 L1938.7 585.9 L1939.2 583.9 L1939.6 582.0 L1940.1 580.1 L1940.6 578.1 L1941.0 576.2 L1941.5 574.2 L1941.9 572.3 L1942.3 570.3 L1942.7 568.3 L1943.1 566.4 L1943.5 564.4 L1943.9 562.4 L1944.2 560.5 L1944.6 558.5 L1944.9 556.5 L1945.3 554.6 L1945.7 552.6 L1946.0 550.6 L1946.4 548.7 L1946.8 546.7 L1947.2 544.8 L1947.6 542.8 L1948.0 540.8 L1948.4 538.9 L1948.8 536.9 L1949.2 535.0 L1949.7 533.0 L1950.1 531.1 L1950.5 529.1 L1950.9 527.1 L1951.3 525.2 L1951.7 523.2 L1952.1 521.3 L1952.6 519.3 L1953.0 517.4 L1953.4 515.4 L1953.9 513.5 L1954.3 511.5 L1954.8 509.6 L1955.2 507.6 L1955.7 505.7 L1956.2 503.7 L1956.7 501.8 L1957.2 499.9 L1957.8 497.9 L1958.3 496.0 L1958.9 494.1 L1959.5 492.2 L1960.2 490.3 L1960.8 488.4 L1961.5 486.6 L1962.3 484.7 L1963.0 482.9 L1963.8 481.0 L1964.7 479.2 L1965.6 477.4 L1966.5 475.7 L1967.5 473.9 L1968.6 472.3 L1969.7 470.7 L1971.0 469.2 L1972.4 467.9 L1973.9 466.8 L1975.6 466.1 L1977.4 465.7 L1979.2 465.7 L1980.9 466.2 L1982.5 467.0 L1984.0 468.2 L1985.3 469.6 L1986.3 471.2 L1987.3 472.9 L1988.1 474.7 L1988.9 476.6 L1989.6 478.4 L1990.2 480.3 L1990.9 482.2 L1991.5 484.1 L1992.0 486.1 L1992.6 488.0 L1993.2 489.9 L1993.7 491.8 L1994.3 493.7 L1994.8 495.7 L1995.4 497.6 L1995.9 499.5 L1996.5 501.4 L1997.0 503.4 L1997.6 505.3 L1998.2 507.2 L1998.7 509.1 L1999.3 511.0 L1999.9 512.9 L2000.4 514.9 L2001.0 516.8 L2001.5 518.7 L2002.1 520.6 L2002.7 522.6 L2003.2 524.5 L2003.9 526.4 L2004.5 528.3 L2005.2 530.1 L2005.9 532.0 L2006.7 533.8 L2007.5 535.7 L2008.3 537.5 L2009.2 539.2 L2010.2 541.0 L2011.2 542.7 L2012.2 544.5 L2013.2 546.2 L2014.3 547.9 L2015.3 549.6 L2016.4 551.3 L2017.4 553.0 L2018.5 554.7 L2019.6 556.3 L2020.7 558.0 L2021.8 559.7 L2023.0 561.3 L2024.1 563.0 L2025.2 564.7 L2026.3 566.3 L2027.3 568.0 L2028.4 569.7 L2029.4 571.5 L2030.3 573.2 L2031.2 575.0 L2032.1 576.8 L2033.0 578.6 L2033.8 580.4 L2034.6 582.2 L2035.4 584.1 L2036.1 586.0 L2036.8 587.8 L2037.5 589.7 L2038.2 591.6 L2038.9 593.5 L2039.5 595.3 L2040.2 597.2 L2040.8 599.1 L2041.4 601.0 L2042.0 603.0 L2042.6 604.9 L2043.2 606.8 L2043.7 608.7 L2044.3 610.6 L2044.8 612.5 L2045.4 614.5 L2045.9 616.4 L2046.4 618.3 L2046.9 620.3 L2047.5 622.2 L2048.0 624.1 L2048.5 626.1 L2049.0 628.0 L2049.5 629.9 L2050.0 631.9 L2050.5 633.8 L2051.1 635.7 L2051.6 637.7 L2052.1 639.6 L2052.6 641.5 L2053.2 643.4 L2053.7 645.4 L2054.2 647.3 L2054.8 649.2 L2055.3 651.2 L2055.8 653.1 L2056.4 655.0 L2056.9 656.9 L2057.4 658.9 L2058.0 660.8 L2058.5 662.7 L2059.0 664.7 L2059.6 666.6 L2060.1 668.5 L2060.6 670.4 L2061.2 672.4 L2061.7 674.3 L2062.3 676.2 L2062.8 678.1 L2063.4 680.0 L2063.9 682.0 L2064.5 683.9 L2065.1 685.8 L2065.6 687.7 L2066.2 689.6 L2066.7 691.6 L2067.3 693.5 L2067.9 695.4 L2068.4 697.3 L2069.0 699.2 L2069.6 701.2 L2070.1 703.1 L2070.7 705.0 L2071.3 706.9 L2071.9 708.8 L2072.4 710.7 L2073.0 712.7 L2073.6 714.6 L2074.2 716.5 L2074.7 718.4 L2075.3 720.3 L2075.9 722.2 L2076.4 724.2 L2077.0 726.1 L2077.6 728.0 L2078.2 729.9 L2078.7 731.8 L2079.3 733.7 L2079.9 735.7 L2080.5 737.6 L2081.0 739.5 L2081.6 741.4 L2082.2 743.3 L2082.8 745.2 L2083.3 747.2 L2083.9 749.1 L2084.5 751.0 L2085.1 752.9 L2085.7 754.8 L2086.2 756.7 L2086.8 758.6 L2087.4 760.5 L2088.0 762.5 L2088.6 764.4 L2089.2 766.3 L2089.8 768.2 L2090.4 770.1 L2091.0 772.0 L2091.6 773.9 L2092.2 775.8 L2092.8 777.7 L2093.4 779.6 L2094.0 781.6 L2094.6 783.5 L2095.2 785.4 L2095.8 787.3 L2096.4 789.2 L2097.0 791.1 L2097.6 793.0 L2098.2 794.9 L2098.9 796.8 L2099.5 798.7 L2100.1 800.6 L2100.7 802.5 L2101.3 804.4 L2102.0 806.3 L2102.6 808.2 L2103.2 810.1 L2103.8 812.0 L2104.5 813.9 L2105.1 815.8 L2105.7 817.7 L2106.3 819.6 L2106.9 821.5 L2107.6 823.4 L2108.2 825.3 L2108.8 827.2 L2109.4 829.1 L2110.0 831.0 L2110.6 832.9 L2111.3 834.8 L2111.9 836.7 L2112.5 838.6 L2113.1 840.5 L2113.7 842.4 L2114.3 844.4 L2114.9 846.3 L2115.5 848.2 L2116.0 850.1 L2116.6 852.0 L2117.1 853.9 L2117.7 855.9 L2118.2 857.8 L2118.6 859.7 L2119.1 861.7 L2119.5 863.6 L2120.0 865.6 L2120.5 867.5 L2121.0 869.5 L2121.5 871.4 L2122.0 873.3 L2122.6 875.2 L2123.1 877.2 L2123.7 879.1 L2124.3 881.0 L2124.8 882.9 L2125.4 884.8 L2126.0 886.8 L2126.6 888.7 L2127.2 890.6 L2127.8 892.5 L2128.4 894.4 L2129.1 896.3 L2129.8 898.1 L2130.5 900.0 L2131.2 901.9 L2132.0 903.7 L2132.7 905.6 L2133.5 907.4 L2134.3 909.3 L2135.1 911.1 L2135.8 913.0 L2136.6 914.8 L2137.4 916.6 L2138.2 918.5 L2139.0 920.3 L2139.8 922.1 L2140.6 924.0 L2141.4 925.8 L2142.2 927.6 L2143.0 929.5 L2143.7 931.3 L2144.5 933.2 L2145.2 935.0 L2146.0 936.9 L2146.7 938.8 L2147.5 940.6 L2148.2 942.5 L2148.9 944.3 L2149.7 946.2 L2150.4 948.0 L2151.2 949.9 L2151.9 951.8 L2152.7 953.6 L2153.4 955.5 L2154.2 957.3 L2154.9 959.2 L2155.7 961.0 L2156.4 962.9 L2157.2 964.7 L2157.9 966.6 L2158.7 968.4 L2159.4 970.3 L2160.2 972.2 L2160.9 974.0 L2161.6 975.9 L2162.4 977.7 L2163.1 979.6 L2163.9 981.4 L2164.6 983.3 L2165.4 985.1 L2166.2 987.0 L2167.0 988.8 L2167.8 990.7 L2168.6 992.5 L2169.4 994.3 L2170.2 996.1 L2171.0 998.0 L2171.8 999.8 L2172.6 1001.6 L2173.5 1003.4 L2174.3 1005.3 L2175.1 1007.1 L2176.0 1008.9 L2176.8 1010.7 L2177.6 1012.5 L2178.5 1014.4 L2179.3 1016.2 L2180.1 1018.0 L2180.9 1019.8 L2181.8 1021.6 L2182.6 1023.5 L2183.4 1025.3 L2184.3 1027.1 L2185.1 1028.9 L2185.9 1030.7 L2186.7 1032.6 L2187.5 1034.4 L2188.3 1036.2 L2189.1 1038.1 L2190.0 1039.9 L2190.8 1041.7 L2191.6 1043.5 L2192.4 1045.4 L2193.2 1047.2 L2194.0 1049.0 L2194.8 1050.9 L2195.6 1052.7 L2196.4 1054.5 L2197.2 1056.4 L2198.0 1058.2 L2198.8 1060.0 L2199.6 1061.9 L2200.4 1063.7 L2201.2 1065.5 L2202.0 1067.4 L2202.8 1069.2 L2203.5 1071.1 L2204.3 1072.9 L2205.1 1074.8 L2205.8 1076.6 L2206.6 1078.5 L2207.3 1080.3 L2208.1 1082.2 L2208.8 1084.0 L2209.5 1085.9 L2210.3 1087.8 L2211.0 1089.6 L2211.7 1091.5 L2212.4 1093.4 L2213.1 1095.2 L2213.9 1097.1 L2214.6 1099.0 L2215.3 1100.8 L2216.0 1102.7 L2216.7 1104.6 L2217.5 1106.4 L2218.2 1108.3 L2219.0 1110.1 L2219.7 1112.0 L2220.5 1113.8 L2221.3 1115.7 L2222.0 1117.5 L2222.9 1119.3 L2223.7 1121.2 L2224.5 1123.0 L2225.4 1124.8 L2226.2 1126.6 L2227.1 1128.4 L2228.0 1130.2 L2228.9 1132.0 L2229.8 1133.7 L2230.8 1135.5 L2231.7 1137.3 L2232.7 1139.0 L2233.7 1140.8 L2234.6 1142.5 L2235.7 1144.2 L2236.7 1145.9 L2237.7 1147.7 L2238.8 1149.4 L2239.9 1151.0 L2241.0 1152.7 L2242.1 1154.4 L2243.2 1156.0 L2244.4 1157.6 L2245.6 1159.2 L2246.8 1160.8 L2248.1 1162.3 L2249.4 1163.9 L2250.7 1165.4 L2252.1 1166.8 L2253.5 1168.3 L2254.9 1169.7 L2256.3 1171.1 L2257.7 1172.5 L2259.2 1173.8 L2260.7 1175.2 L2262.2 1176.5 L2263.8 1177.7 L2265.4 1178.9 L2267.0 1180.1 L2268.7 1181.2 L2270.3 1182.3 L2272.0 1183.4 L2273.7 1184.5 L2275.4 1185.6 L2277.0 1186.7 L2278.7 1187.8 L2280.3 1188.9 L2282.0 1190.1 L2283.6 1191.2 L2285.1 1192.5 L2286.5 1193.9 L2287.9 1195.4 L2289.1 1197.0 L2290.2 1198.6 L2291.3 1200.3 L2292.4 1202.0 L2293.4 1203.7 L2294.4 1205.4 L2295.4 1207.2 L2296.4 1208.9 L2297.3 1210.6 L2298.3 1212.4 L2299.3 1214.2 L2300.2 1215.9 L2301.1 1217.7 L2302.0 1219.5 L2302.9 1221.3 L2303.8 1223.1 L2304.7 1224.9 L2305.5 1226.7 L2306.4 1228.5 L2307.2 1230.3 L2308.0 1232.2 L2308.8 1234.0 L2309.5 1235.8 L2310.3 1237.7 L2311.0 1239.6 L2311.7 1241.4 L2312.4 1243.3 L2313.1 1245.2 L2313.8 1247.1 L2314.4 1249.0 L2315.1 1250.9 L2315.7 1252.7 L2316.4 1254.6 L2317.0 1256.5 L2317.7 1258.4 L2318.4 1260.3 L2319.1 1262.2 L2319.8 1264.0 L2320.6 1265.9 L2321.3 1267.7 L2322.1 1269.6 L2322.9 1271.4 L2323.6 1273.3 L2324.4 1275.1 L2325.2 1276.9 L2326.0 1278.8 L2326.9 1280.6 L2327.7 1282.4 L2328.6 1284.2 L2329.6 1285.9 L2330.5 1287.7 L2331.6 1289.4 L2332.6 1291.1 L2333.8 1292.7 L2334.9 1294.3 L2336.2 1295.9 L2337.5 1297.4 L2338.9 1298.8 L2340.5 1300.1 L2342.1 1301.1 L2343.9 1301.9 L2345.8 1302.4 L2347.7 1302.6 L2349.7 1302.8 L2351.6 1303.1 L2353.5 1303.7 L2355.3 1304.5 L2357.0 1305.5 L2358.7 1306.6 L2360.3 1307.8 L2361.9 1309.0 L2363.4 1310.3 L2364.9 1311.6 L2366.4 1313.0 L2367.8 1314.4 L2369.1 1315.9 L2370.4 1317.4 L2371.6 1319.0 L2372.9 1320.6 L2374.1 1322.1 L2375.4 1323.7 L2376.6 1325.2 L2377.8 1326.8 L2379.1 1328.4 L2380.4 1329.8 L2381.9 1331.1 L2383.6 1332.0 L2385.4 1332.5 L2387.3 1332.5 L2389.2 1332.1 L2391.1 1331.5 L2393.0 1330.8 L2394.8 1330.2 L2396.8 1329.7 L2398.7 1329.6 L2400.5 1329.9 L2402.3 1330.7 L2403.7 1331.9 L2405.0 1333.4 L2406.0 1335.1 L2406.8 1336.9 L2407.5 1338.7 L2408.1 1340.6 L2408.6 1342.6 L2409.1 1344.5 L2409.6 1346.5 L2410.0 1348.4 L2410.4 1350.4 L2410.8 1352.3 L2411.3 1354.3 L2411.7 1356.2 L2412.1 1358.2 L2412.5 1360.1 L2412.8 1362.1 L2413.0 1364.1 L2413.2 1366.1 L2413.7 1368.0 L2414.5 1369.6 L2415.8 1370.9 L2417.4 1371.8 L2419.3 1372.3 L2421.2 1372.5 L2423.2 1372.6 L2425.2 1372.6 L2427.2 1372.5 L2429.2 1372.4 L2431.2 1372.2 L2433.2 1372.1 L2435.2 1371.9 L2437.2 1371.8 L2438.2 1371.7" stroke="#ffaa3a"/>
<path d="M197.2 1425.7 L199.2 1425.6 L201.2 1425.4 L203.2 1425.3 L205.2 1425.2 L207.2 1425.1 L209.2 1425.0 L211.2 1424.8 L213.2 1424.7 L215.2 1424.6 L217.2 1424.4 L219.2 1424.3 L221.2 1424.2 L223.1 1424.0 L225.1 1423.9 L227.1 1423.7 L229.1 1423.5 L231.1 1423.4 L233.1 1423.2 L235.1 1423.0 L237.1 1422.8 L239.1 1422.6 L241.1 1422.3 L243.0 1422.1 L245.0 1421.8 L247.0 1421.6 L249.0 1421.3 L251.0 1421.0 L253.0 1420.7 L254.9 1420.4 L256.9 1420.2 L258.9 1419.9 L260.9 1419.6 L262.9 1419.4 L264.8 1419.1 L266.8 1418.8 L268.8 1418.6 L270.8 1418.4 L272.8 1418.2 L274.8 1418.0 L276.8 1417.8 L278.8 1417.6 L280.8 1417.5 L282.8 1417.4 L284.8 1417.3 L286.8 1417.2 L288.7 1417.1 L290.7 1417.0 L292.7 1416.9 L294.7 1416.9 L296.7 1416.8 L298.7 1416.8 L300.7 1416.7 L302.7 1416.7 L304.7 1416.7 L306.7 1416.7 L308.7 1416.7 L310.7 1416.8 L312.7 1416.8 L314.7 1416.8 L316.7 1416.9 L318.7 1416.9 L320.7 1417.0 L322.7 1417.1 L324.7 1417.2 L326.7 1417.3 L328.7 1417.4 L330.7 1417.5 L332.7 1417.7 L334.7 1417.9 L336.7 1418.1 L338.7 1418.3 L340.7 1418.5 L342.7 1418.7 L344.7 1418.9 L346.6 1419.1 L348.6 1419.3 L350.6 1419.6 L352.6 1419.8 L354.6 1420.0 L356.6 1420.2 L358.6 1420.5 L360.6 1420.7 L362.5 1420.9 L364.5 1421.1 L366.5 1421.2 L368.5 1421.4 L370.5 1421.5 L372.5 1421.7 L374.5 1421.8 L376.5 1421.9 L378.5 1421.9 L380.5 1422.0 L382.5 1422.0 L384.5 1421.9 L386.5 1421.9 L388.5 1421.8 L390.5 1421.7 L392.5 1421.6 L394.5 1421.4 L396.5 1421.3 L398.5 1421.1 L400.5 1420.9 L402.5 1420.7 L404.4 1420.4 L406.4 1420.2 L408.4 1420.0 L410.4 1419.8 L412.4 1419.5 L414.4 1419.3 L416.4 1419.1 L418.4 1418.9 L420.4 1418.8 L422.3 1418.6 L424.3 1418.5 L426.3 1418.3 L428.3 1418.2 L430.3 1418.1 L432.3 1418.0 L434.3 1417.9 L436.3 1417.8 L438.3 1417.7 L440.3 1417.6 L442.3 1417.5 L444.3 1417.4 L446.3 1417.3 L448.3 1417.2 L450.3 1417.1 L452.3 1417.0 L454.3 1416.9 L456.3 1416.8 L458.3 1416.7 L460.3 1416.6 L462.3 1416.5 L464.3 1416.4 L466.3 1416.3 L468.3 1416.3 L470.3 1416.2 L472.3 1416.1 L474.3 1416.0 L476.3 1415.9 L478.3 1415.7 L480.3 1415.6 L482.3 1415.5 L484.3 1415.4 L486.3 1415.3 L488.3 1415.2 L490.2 1415.1 L492.2 1414.9 L494.2 1414.8 L496.2 1414.7 L498.2 1414.6 L500.2 1414.4 L502.2 1414.3 L504.2 1414.2 L506.2 1414.1 L508.2 1413.9 L510.2 1413.8 L512.2 1413.7 L514.2 1413.6 L516.2 1413.4 L518.2 1413.3 L520.2 1413.2 L522.2 1413.1 L524.2 1413.0 L526.2 1412.9 L528.2 1412.8 L530.2 1412.7 L532.2 1412.6 L534.2 1412.5 L536.2 1412.4 L538.2 1412.3 L540.2 1412.2 L542.2 1412.2 L544.2 1412.1 L546.2 1412.1 L548.2 1412.0 L550.2 1412.0 L552.2 1411.9 L554.2 1411.9 L556.2 1411.9 L558.2 1411.8 L560.2 1411.8 L562.2 1411.8 L564.2 1411.8 L566.2 1411.8 L568.2 1411.8 L570.2 1411.8 L572.2 1411.8 L574.2 1411.9 L576.2 1411.9 L578.2 1411.9 L580.2 1412.0 L582.2 1412.1 L584.2 1412.1 L586.2 1412.2 L588.2 1412.3 L590.2 1412.3 L592.2 1412.4 L594.2 1412.4 L596.2 1412.5 L598.2 1412.5 L600.2 1412.5 L602.2 1412.5 L604.2 1412.5 L606.2 1412.5 L608.2 1412.4 L610.2 1412.4 L612.2 1412.4 L614.2 1412.4 L616.2 1412.3 L618.2 1412.3 L620.2 1412.2 L622.2 1412.2 L624.1 1412.1 L626.1 1412.1 L628.1 1412.0 L630.1 1411.9 L632.1 1411.9 L634.1 1411.8 L636.1 1411.7 L638.1 1411.6 L640.1 1411.6 L642.1 1411.5 L644.1 1411.4 L646.1 1411.3 L648.1 1411.3 L650.1 1411.2 L652.1 1411.1 L654.1 1411.1 L656.1 1411.0 L658.1 1410.9 L660.1 1410.9 L662.1 1410.8 L664.1 1410.7 L666.1 1410.6 L668.1 1410.5 L670.1 1410.4 L672.1 1410.4 L674.1 1410.3 L676.1 1410.2 L678.1 1410.1 L680.1 1410.0 L682.1 1409.8 L684.1 1409.7 L686.1 1409.6 L688.1 1409.4 L690.1 1409.3 L692.1 1409.1 L694.1 1409.0 L696.1 1408.8 L698.1 1408.6 L700.0 1408.4 L702.0 1408.2 L704.0 1407.9 L706.0 1407.7 L708.0 1407.4 L710.0 1407.1 L711.9 1406.8 L713.9 1406.5 L715.9 1406.1 L717.8 1405.8 L719.8 1405.4 L721.8 1405.1 L723.7 1404.7 L725.7 1404.3 L727.7 1404.0 L729.6 1403.6 L731.6 1403.2 L733.6 1402.9 L735.6 1402.5 L737.5 1402.2 L739.5 1401.9 L741.5 1401.6 L743.5 1401.3 L745.4 1401.0 L747.4 1400.7 L749.4 1400.5 L751.4 1400.2 L753.4 1400.0 L755.4 1399.7 L757.3 1399.5 L759.3 1399.3 L761.3 1399.0 L763.3 1398.8 L765.3 1398.6 L767.3 1398.4 L769.3 1398.2 L771.3 1397.9 L773.2 1397.7 L775.2 1397.5 L777.2 1397.3 L779.2 1397.1 L781.2 1396.9 L783.2 1396.7 L785.2 1396.5 L787.2 1396.4 L789.2 1396.2 L791.2 1396.0 L793.2 1395.8 L795.1 1395.7 L797.1 1395.5 L799.1 1395.4 L801.1 1395.2 L803.1 1395.1 L805.1 1394.9 L807.1 1394.8 L809.1 1394.7 L811.1 1394.5 L813.1 1394.4 L815.1 1394.3 L817.1 1394.2 L819.1 1394.1 L821.1 1394.0 L823.1 1393.9 L825.1 1393.8 L827.1 1393.7 L829.1 1393.6 L831.1 1393.5 L833.1 1393.4 L835.1 1393.4 L837.1 1393.3 L839.1 1393.2 L841.1 1393.2 L843.1 1393.1 L845.1 1393.1 L847.1 1393.0 L849.1 1393.0 L851.1 1392.9 L853.1 1392.9 L855.1 1392.9 L857.1 1392.9 L859.1 1392.8 L861.1 1392.8 L863.1 1392.8 L865.1 1392.8 L867.1 1392.8 L869.1 1392.8 L871.1 1392.9 L873.1 1392.9 L875.1 1393.0 L877.1 1393.0 L879.1 1393.1 L881.1 1393.2 L883.1 1393.3 L885.1 1393.4 L887.1 1393.5 L889.0 1393.6 L891.0 1393.7 L893.0 1393.8 L895.0 1394.0 L897.0 1394.1 L899.0 1394.2 L901.0 1394.3 L903.0 1394.4 L905.0 1394.5 L907.0 1394.5 L909.0 1394.6 L911.0 1394.7 L913.0 1394.7 L915.0 1394.8 L917.0 1394.8 L919.0 1394.8 L921.0 1394.8 L923.0 1394.8 L925.0 1394.8 L927.0 1394.7 L929.0 1394.7 L931.0 1394.7 L933.0 1394.6 L935.0 1394.5 L937.0 1394.5 L939.0 1394.4 L941.0 1394.3 L943.0 1394.2 L945.0 1394.2 L947.0 1394.1 L949.0 1394.0 L951.0 1393.9 L953.0 1393.8 L955.0 1393.7 L957.0 1393.6 L959.0 1393.5 L961.0 1393.3 L963.0 1393.2 L965.0 1393.1 L967.0 1393.0 L969.0 1392.9 L971.0 1392.8 L973.0 1392.6 L975.0 1392.5 L977.0 1392.4 L979.0 1392.3 L981.0 1392.1 L982.9 1392.0 L984.9 1391.9 L986.9 1391.7 L988.9 1391.6 L990.9 1391.5 L992.9 1391.4 L994.9 1391.2 L996.9 1391.1 L998.9 1391.0 L1000.9 1390.8 L1002.9 1390.7 L1004.9 1390.6 L1006.9 1390.4 L1008.9 1390.3 L1010.9 1390.1 L1012.9 1390.0 L1014.9 1389.8 L1016.9 1389.7 L1018.9 1389.5 L1020.9 1389.3 L1022.8 1389.2 L1024.8 1389.0 L1026.8 1388.8 L1028.8 1388.6 L1030.8 1388.4 L1032.8 1388.3 L1034.8 1388.1 L1036.8 1387.9 L1038.8 1387.7 L1040.8 1387.6 L1042.8 1387.4 L1044.8 1387.2 L1046.8 1387.1 L1048.7 1386.9 L1050.7 1386.8 L1052.7 1386.6 L1054.7 1386.5 L1056.7 1386.3 L1058.7 1386.2 L1060.7 1386.0 L1062.7 1385.8 L1064.7 1385.7 L1066.7 1385.5 L1068.7 1385.4 L1070.7 1385.2 L1072.7 1385.1 L1074.7 1384.9 L1076.7 1384.8 L1078.7 1384.6 L1080.7 1384.5 L1082.7 1384.3 L1084.6 1384.2 L1086.6 1384.0 L1088.6 1383.9 L1090.6 1383.7 L1092.6 1383.6 L1094.6 1383.5 L1096.6 1383.3 L1098.6 1383.2 L1100.6 1383.0 L1102.6 1382.9 L1104.6 1382.8 L1106.6 1382.6 L1108.6 1382.5 L1110.6 1382.4 L1112.6 1382.2 L1114.6 1382.1 L1116.6 1382.0 L1118.6 1381.9 L1120.6 1381.7 L1122.6 1381.6 L1124.6 1381.5 L1126.6 1381.4 L1128.5 1381.3 L1130.5 1381.2 L1132.5 1381.1 L1134.5 1381.0 L1136.5 1380.9 L1138.5 1380.8 L1140.5 1380.7 L1142.5 1380.6 L1144.5 1380.5 L1146.5 1380.5 L1148.5 1380.4 L1150.5 1380.3 L1152.5 1380.2 L1154.5 1380.2 L1156.5 1380.1 L1158.5 1380.0 L1160.5 1380.0 L1162.5 1379.9 L1164.5 1379.8 L1166.5 1379.7 L1168.5 1379.7 L1170.5 1379.6 L1172.5 1379.5 L1174.5 1379.5 L1176.5 1379.4 L1178.5 1379.3 L1180.5 1379.2 L1182.5 1379.1 L1184.5 1379.1 L1186.5 1379.0 L1188.5 1378.9 L1190.5 1378.8 L1192.5 1378.7 L1194.5 1378.6 L1196.5 1378.5 L1198.5 1378.3 L1200.5 1378.2 L1202.5 1378.1 L1204.5 1378.0 L1206.5 1377.8 L1208.5 1377.7 L1210.5 1377.6 L1212.5 1377.4 L1214.4 1377.3 L1216.4 1377.1 L1218.4 1377.0 L1220.4 1376.8 L1222.4 1376.7 L1224.4 1376.5 L1226.4 1376.3 L1228.4 1376.2 L1230.4 1376.0 L1232.4 1375.8 L1234.4 1375.6 L1236.4 1375.5 L1238.4 1375.3 L1240.4 1375.1 L1242.4 1374.9 L1244.3 1374.7 L1246.3 1374.6 L1248.3 1374.4 L1250.3 1374.2 L1252.3 1374.0 L1254.3 1373.8 L1256.3 1373.6 L1258.3 1373.4 L1260.3 1373.2 L1262.3 1373.0 L1264.2 1372.8 L1266.2 1372.6 L1268.2 1372.4 L1270.2 1372.2 L1272.2 1372.0 L1274.2 1371.7 L1276.2 1371.5 L1278.2 1371.3 L1280.2 1371.1 L1282.1 1370.8 L1284.1 1370.6 L1286.1 1370.4 L1288.1 1370.1 L1290.1 1369.9 L1292.1 1369.7 L1294.1 1369.4 L1296.0 1369.2 L1298.0 1368.9 L1300.0 1368.7 L1302.0 1368.4 L1304.0 1368.1 L1306.0 1367.9 L1307.9 1367.6 L1309.9 1367.3 L1311.9 1367.1 L1313.9 1366.8 L1315.9 1366.5 L1317.8 1366.2 L1319.8 1365.9 L1321.8 1365.7 L1323.8 1365.4 L1325.8 1365.1 L1327.7 1364.8 L1329.7 1364.5 L1331.7 1364.2 L1333.7 1363.9 L1335.7 1363.6 L1337.6 1363.3 L1339.6 1363.0 L1341.6 1362.7 L1343.6 1362.4 L1345.5 1362.1 L1347.5 1361.8 L1349.5 1361.5 L1351.5 1361.1 L1353.4 1360.8 L1355.4 1360.5 L1357.4 1360.1 L1359.3 1359.8 L1361.3 1359.4 L1363.3 1359.1 L1365.2 1358.7 L1367.2 1358.3 L1369.2 1357.9 L1371.1 1357.5 L1373.1 1357.1 L1375.0 1356.6 L1377.0 1356.1 L1378.9 1355.6 L1380.8 1355.1 L1382.7 1354.5 L1384.7 1354.0 L1386.6 1353.4 L1388.5 1352.9 L1390.4 1352.4 L1392.4 1351.9 L1394.3 1351.4 L1396.3 1350.9 L1398.2 1350.4 L1400.2 1350.0 L1402.1 1349.6 L1404.1 1349.1 L1406.0 1348.7 L1408.0 1348.3 L1409.9 1347.9 L1411.9 1347.5 L1413.9 1347.2 L1415.8 1346.8 L1417.8 1346.4 L1419.8 1346.0 L1421.7 1345.6 L1423.7 1345.3 L1425.7 1344.9 L1427.6 1344.5 L1429.6 1344.1 L1431.5 1343.7 L1433.5 1343.4 L1435.5 1343.0 L1437.4 1342.6 L1439.4 1342.2 L1441.3 1341.8 L1443.3 1341.4 L1445.3 1341.0 L1447.2 1340.6 L1449.2 1340.1 L1451.1 1339.7 L1453.1 1339.3 L1455.0 1338.8 L1457.0 1338.3 L1458.9 1337.9 L1460.9 1337.4 L1462.8 1336.9 L1464.7 1336.3 L1466.6 1335.8 L1468.6 1335.2 L1470.5 1334.7 L1472.4 1334.1 L1474.3 1333.5 L1476.2 1332.8 L1478.1 1332.2 L1480.0 1331.5 L1481.9 1330.9 L1483.7 1330.2 L1485.6 1329.5 L1487.5 1328.8 L1489.4 1328.1 L1491.2 1327.4 L1493.1 1326.7 L1495.0 1325.9 L1496.8 1325.2 L1498.7 1324.5 L1500.5 1323.7 L1502.4 1323.0 L1504.3 1322.2 L1506.1 1321.5 L1508.0 1320.8 L1509.8 1320.1 L1511.7 1319.3 L1513.6 1318.6 L1515.4 1317.9 L1517.3 1317.1 L1519.2 1316.4 L1521.0 1315.7 L1522.9 1314.9 L1524.7 1314.2 L1526.6 1313.4 L1528.4 1312.6 L1530.2 1311.8 L1532.1 1311.0 L1533.9 1310.2 L1535.7 1309.4 L1537.5 1308.5 L1539.3 1307.6 L1541.1 1306.7 L1542.9 1305.8 L1544.6 1304.9 L1546.4 1303.9 L1548.1 1302.9 L1549.8 1301.8 L1551.5 1300.7 L1553.2 1299.6 L1554.8 1298.5 L1556.4 1297.4 L1558.1 1296.2 L1559.7 1295.0 L1561.3 1293.8 L1562.9 1292.6 L1564.5 1291.4 L1566.1 1290.2 L1567.6 1289.0 L1569.2 1287.8 L1570.8 1286.6 L1572.4 1285.4 L1574.0 1284.2 L1575.7 1283.0 L1577.3 1281.8 L1578.9 1280.6 L1580.5 1279.4 L1582.1 1278.2 L1583.6 1277.0 L1585.2 1275.7 L1586.8 1274.5 L1588.4 1273.3 L1589.9 1272.0 L1591.5 1270.8 L1593.1 1269.6 L1594.7 1268.4 L1596.3 1267.2 L1598.0 1266.1 L1599.6 1265.0 L1601.3 1263.9 L1603.1 1262.9 L1604.8 1262.0 L1606.6 1261.1 L1608.5 1260.4 L1610.3 1259.7 L1612.3 1259.1 L1614.2 1258.6 L1616.2 1258.2 L1618.1 1257.9 L1620.1 1257.7 L1622.1 1257.4 L1624.1 1257.3 L1626.1 1257.1 L1628.1 1256.9 L1630.1 1256.7 L1632.0 1256.5 L1634.0 1256.3 L1636.0 1255.9 L1638.0 1255.5 L1639.9 1255.0 L1641.8 1254.5 L1643.8 1254.0 L1645.7 1253.4 L1647.6 1252.8 L1649.5 1252.2 L1651.3 1251.5 L1653.2 1250.8 L1655.0 1250.0 L1656.8 1249.1 L1658.6 1248.1 L1660.3 1247.1 L1661.9 1246.0 L1663.6 1244.8 L1665.1 1243.6 L1666.7 1242.3 L1668.1 1241.0 L1669.5 1239.5 L1670.8 1238.1 L1672.1 1236.5 L1673.2 1234.9 L1674.3 1233.2 L1675.3 1231.5 L1676.2 1229.7 L1677.1 1227.9 L1677.9 1226.1 L1678.7 1224.3 L1679.4 1222.4 L1680.1 1220.5 L1680.7 1218.6 L1681.3 1216.7 L1681.9 1214.8 L1682.5 1212.9 L1683.1 1211.0 L1683.6 1209.1 L1684.2 1207.1 L1684.7 1205.2 L1685.3 1203.3 L1685.8 1201.4 L1686.3 1199.4 L1686.9 1197.5 L1687.4 1195.6 L1688.0 1193.7 L1688.5 1191.7 L1689.1 1189.8 L1689.7 1187.9 L1690.3 1186.0 L1690.9 1184.1 L1691.5 1182.2 L1692.1 1180.3 L1692.7 1178.4 L1693.3 1176.5 L1693.9 1174.6 L1694.5 1172.6 L1695.0 1170.7 L1695.6 1168.8 L1696.2 1166.9 L1696.9 1165.0 L1697.5 1163.1 L1698.1 1161.2 L1698.7 1159.3 L1699.4 1157.4 L1700.1 1155.5 L1700.8 1153.7 L1701.5 1151.8 L1702.3 1150.0 L1703.1 1148.2 L1704.0 1146.4 L1705.0 1144.7 L1706.1 1143.1 L1707.4 1141.6 L1708.8 1140.4 L1710.3 1139.5 L1712.0 1139.0 L1713.7 1139.0 L1715.4 1139.4 L1717.1 1140.3 L1718.6 1141.3 L1720.1 1142.6 L1721.6 1143.9 L1723.1 1145.3 L1724.6 1146.6 L1726.1 1147.9 L1727.6 1149.2 L1729.2 1150.4 L1730.7 1151.7 L1732.3 1153.0 L1733.8 1154.3 L1735.3 1155.6 L1736.9 1156.8 L1738.4 1158.1 L1740.0 1159.3 L1741.6 1160.5 L1743.2 1161.6 L1744.9 1162.7 L1746.6 1163.7 L1748.4 1164.5 L1750.3 1165.2 L1752.1 1165.6 L1754.1 1165.9 L1756.0 1165.8 L1757.9 1165.6 L1759.8 1165.1 L1761.6 1164.4 L1763.3 1163.5 L1765.0 1162.4 L1766.6 1161.2 L1768.2 1160.0 L1769.7 1158.7 L1771.1 1157.3 L1772.6 1155.9 L1774.0 1154.5 L1775.3 1153.0 L1776.6 1151.6 L1777.9 1150.0 L1779.2 1148.5 L1780.5 1146.9 L1781.7 1145.3 L1782.9 1143.7 L1784.1 1142.1 L1785.3 1140.5 L1786.5 1138.9 L1787.6 1137.3 L1788.8 1135.7 L1789.9 1134.0 L1791.1 1132.4 L1792.2 1130.8 L1793.4 1129.1 L1794.5 1127.5 L1795.7 1125.9 L1796.8 1124.2 L1798.0 1122.6 L1799.1 1120.9 L1800.3 1119.3 L1801.5 1117.7 L1802.6 1116.0 L1803.7 1114.4 L1804.8 1112.7 L1805.8 1111.0 L1806.8 1109.3 L1807.8 1107.5 L1808.8 1105.8 L1809.8 1104.1 L1810.9 1102.4 L1811.9 1100.6 L1812.9 1098.9 L1813.9 1097.2 L1815.0 1095.5 L1816.0 1093.8 L1817.0 1092.1 L1818.0 1090.3 L1819.1 1088.6 L1820.1 1086.9 L1821.1 1085.2 L1822.1 1083.4 L1823.1 1081.7 L1824.1 1080.0 L1825.1 1078.3 L1826.1 1076.5 L1827.1 1074.8 L1828.0 1073.0 L1829.0 1071.3 L1830.0 1069.5 L1830.9 1067.7 L1831.8 1066.0 L1832.7 1064.2 L1833.6 1062.4 L1834.5 1060.6 L1835.4 1058.8 L1836.2 1057.0 L1837.1 1055.2 L1837.9 1053.4 L1838.6 1051.5 L1839.4 1049.7 L1840.1 1047.8 L1840.8 1045.9 L1841.5 1044.1 L1842.2 1042.2 L1842.9 1040.3 L1843.5 1038.4 L1844.1 1036.5 L1844.7 1034.6 L1845.3 1032.7 L1845.9 1030.8 L1846.5 1028.9 L1847.1 1026.9 L1847.7 1025.0 L1848.2 1023.1 L1848.8 1021.2 L1849.4 1019.3 L1849.9 1017.4 L1850.5 1015.4 L1851.1 1013.5 L1851.7 1011.6 L1852.3 1009.7 L1852.9 1007.8 L1853.5 1005.9 L1854.1 1004.0 L1854.8 1002.1 L1855.4 1000.2 L1856.1 998.3 L1856.7 996.4 L1857.3 994.5 L1857.9 992.6 L1858.5 990.7 L1859.1 988.8 L1859.7 986.9 L1860.2 985.0 L1860.7 983.0 L1861.2 981.1 L1861.6 979.1 L1862.1 977.2 L1862.5 975.2 L1863.0 973.3 L1863.4 971.3 L1863.9 969.4 L1864.3 967.4 L1864.8 965.5 L1865.3 963.5 L1865.8 961.6 L1866.3 959.7 L1866.9 957.8 L1867.4 955.8 L1868.0 953.9 L1868.6 952.0 L1869.2 950.1 L1869.8 948.2 L1870.4 946.3 L1871.0 944.4 L1871.6 942.5 L1872.2 940.6 L1872.8 938.7 L1873.4 936.8 L1874.0 934.9 L1874.6 933.0 L1875.3 931.1 L1875.9 929.1 L1876.5 927.2 L1877.1 925.3 L1877.6 923.4 L1878.2 921.5 L1878.8 919.6 L1879.4 917.7 L1880.0 915.8 L1880.6 913.9 L1881.2 912.0 L1881.8 910.0 L1882.4 908.1 L1882.9 906.2 L1883.5 904.3 L1884.0 902.4 L1884.6 900.5 L1885.1 898.5 L1885.7 896.6 L1886.2 894.7 L1886.7 892.7 L1887.2 890.8 L1887.7 888.9 L1888.2 886.9 L1888.6 885.0 L1889.1 883.0 L1889.6 881.1 L1890.0 879.1 L1890.5 877.2 L1891.0 875.2 L1891.4 873.3 L1891.9 871.4 L1892.4 869.4 L1892.9 867.5 L1893.4 865.5 L1893.8 863.6 L1894.3 861.7 L1894.8 859.7 L1895.3 857.8 L1895.8 855.8 L1896.3 853.9 L1896.8 852.0 L1897.3 850.0 L1897.8 848.1 L1898.3 846.2 L1898.8 844.2 L1899.2 842.3 L1899.7 840.3 L1900.1 838.4 L1900.6 836.4 L1901.0 834.5 L1901.4 832.5 L1901.8 830.5 L1902.2 828.6 L1902.6 826.6 L1903.0 824.7 L1903.4 822.7 L1903.8 820.7 L1904.1 818.8 L1904.5 816.8 L1904.9 814.8 L1905.3 812.9 L1905.6 810.9 L1906.0 809.0 L1906.4 807.0 L1906.8 805.0 L1907.2 803.1 L1907.6 801.1 L1907.9 799.1 L1908.3 797.2 L1908.7 795.2 L1909.1 793.3 L1909.5 791.3 L1909.9 789.3 L1910.3 787.4 L1910.7 785.4 L1911.1 783.5 L1911.5 781.5 L1911.9 779.5 L1912.4 777.6 L1912.8 775.6 L1913.3 773.7 L1913.8 771.8 L1914.2 769.8 L1914.7 767.9 L1915.2 765.9 L1915.7 764.0 L1916.2 762.1 L1916.7 760.1 L1917.2 758.2 L1917.7 756.2 L1918.2 754.3 L1918.7 752.4 L1919.2 750.4 L1919.6 748.5 L1920.1 746.6 L1920.6 744.6 L1921.1 742.7 L1921.6 740.7 L1922.1 738.8 L1922.5 736.8 L1923.0 734.9 L1923.5 733.0 L1924.0 731.0 L1924.5 729.1 L1925.0 727.1 L1925.5 725.2 L1926.0 723.3 L1926.5 721.3 L1927.0 719.4 L1927.5 717.5 L1928.1 715.6 L1928.7 713.7 L1929.3 711.7 L1929.9 709.8 L1930.5 707.9 L1931.1 706.0 L1931.7 704.1 L1932.3 702.2 L1932.9 700.3 L1933.5 698.4 L1934.1 696.5 L1934.6 694.6 L1935.2 692.6 L1935.8 690.7 L1936.3 688.8 L1936.8 686.9 L1937.3 684.9 L1937.8 683.0 L1938.3 681.0 L1938.8 679.1 L1939.2 677.2 L1939.7 675.2 L1940.1 673.3 L1940.6 671.3 L1941.0 669.4 L1941.5 667.4 L1942.0 665.5 L1942.4 663.5 L1942.9 661.6 L1943.4 659.6 L1943.8 657.7 L1944.3 655.8 L1944.8 653.8 L1945.2 651.9 L1945.7 649.9 L1946.2 648.0 L1946.6 646.0 L1947.1 644.1 L1947.6 642.1 L1948.0 640.2 L1948.5 638.2 L1948.9 636.3 L1949.3 634.3 L1949.7 632.4 L1950.2 630.4 L1950.6 628.5 L1951.0 626.5 L1951.4 624.6 L1951.9 622.6 L1952.4 620.7 L1952.9 618.7 L1953.4 616.8 L1954.0 614.9 L1954.5 613.0 L1955.2 611.1 L1955.8 609.2 L1956.5 607.3 L1957.3 605.5 L1958.2 603.7 L1959.2 602.0 L1960.3 600.4 L1961.5 598.9 L1962.9 597.6 L1964.5 596.7 L1966.1 596.1 L1967.7 596.1 L1969.2 596.5 L1970.6 597.5 L1971.8 598.8 L1972.9 600.4 L1973.8 602.1 L1974.6 603.9 L1975.3 605.8 L1975.9 607.7 L1976.5 609.6 L1977.0 611.5 L1977.5 613.5 L1978.0 615.4 L1978.5 617.4 L1978.9 619.3 L1979.4 621.3 L1979.8 623.2 L1980.2 625.2 L1980.5 627.1 L1980.9 629.1 L1981.3 631.1 L1981.6 633.0 L1982.0 635.0 L1982.3 637.0 L1982.6 639.0 L1982.9 640.9 L1983.3 642.9 L1983.6 644.9 L1983.9 646.9 L1984.2 648.8 L1984.5 650.8 L1984.8 652.8 L1985.1 654.8 L1985.4 656.7 L1985.7 658.7 L1986.0 660.7 L1986.3 662.7 L1986.6 664.6 L1987.0 666.6 L1987.3 668.6 L1987.6 670.6 L1987.9 672.5 L1988.2 674.5 L1988.6 676.5 L1988.9 678.5 L1989.2 680.4 L1989.6 682.4 L1989.9 684.4 L1990.3 686.3 L1990.7 688.3 L1991.1 690.3 L1991.5 692.2 L1991.9 694.2 L1992.2 696.1 L1992.6 698.1 L1993.0 700.1 L1993.3 702.0 L1993.7 704.0 L1994.0 706.0 L1994.3 708.0 L1994.6 709.9 L1994.9 711.9 L1995.2 713.9 L1995.6 715.9 L1995.9 717.8 L1996.2 719.8 L1996.5 721.8 L1996.8 723.8 L1997.1 725.7 L1997.4 727.7 L1997.7 729.7 L1998.1 731.7 L1998.4 733.6 L1998.7 735.6 L1999.0 737.6 L1999.3 739.6 L1999.7 741.5 L2000.0 743.5 L2000.3 745.5 L2000.6 747.5 L2001.0 749.4 L2001.3 751.4 L2001.6 753.4 L2002.0 755.4 L2002.3 757.3 L2002.6 759.3 L2002.9 761.3 L2003.3 763.2 L2003.6 765.2 L2003.9 767.2 L2004.2 769.2 L2004.6 771.1 L2004.9 773.1 L2005.2 775.1 L2005.5 777.1 L2005.9 779.0 L2006.2 781.0 L2006.5 783.0 L2006.9 784.9 L2007.2 786.9 L2007.6 788.9 L2007.9 790.9 L2008.3 792.8 L2008.7 794.8 L2009.0 796.7 L2009.4 798.7 L2009.8 800.7 L2010.2 802.6 L2010.7 804.6 L2011.1 806.5 L2011.5 808.5 L2012.0 810.4 L2012.5 812.4 L2013.0 814.3 L2013.5 816.2 L2014.0 818.2 L2014.5 820.1 L2015.0 822.1 L2015.5 824.0 L2016.0 825.9 L2016.5 827.9 L2017.0 829.8 L2017.4 831.7 L2017.9 833.7 L2018.4 835.6 L2018.9 837.6 L2019.4 839.5 L2019.9 841.4 L2020.4 843.4 L2020.9 845.3 L2021.4 847.2 L2021.9 849.2 L2022.4 851.1 L2022.9 853.1 L2023.4 855.0 L2023.8 856.9 L2024.3 858.9 L2024.8 860.8 L2025.2 862.8 L2025.7 864.7 L2026.1 866.7 L2026.6 868.6 L2027.0 870.6 L2027.4 872.5 L2027.8 874.5 L2028.2 876.5 L2028.6 878.4 L2029.0 880.4 L2029.3 882.4 L2029.7 884.3 L2030.1 886.3 L2030.4 888.3 L2030.8 890.2 L2031.1 892.2 L2031.5 894.2 L2031.8 896.1 L2032.1 898.1 L2032.5 900.1 L2032.8 902.1 L2033.1 904.0 L2033.4 906.0 L2033.7 908.0 L2034.1 909.9 L2034.4 911.9 L2034.7 913.9 L2035.0 915.9 L2035.3 917.8 L2035.6 919.8 L2036.0 921.8 L2036.3 923.8 L2036.6 925.8 L2036.9 927.7 L2037.2 929.7 L2037.5 931.7 L2037.8 933.6 L2038.2 935.6 L2038.5 937.6 L2038.8 939.6 L2039.1 941.5 L2039.5 943.5 L2039.8 945.5 L2040.1 947.5 L2040.4 949.4 L2040.7 951.4 L2041.1 953.4 L2041.4 955.4 L2041.7 957.3 L2042.0 959.3 L2042.3 961.3 L2042.7 963.3 L2043.0 965.2 L2043.3 967.2 L2043.6 969.2 L2043.9 971.2 L2044.3 973.1 L2044.6 975.1 L2044.9 977.1 L2045.2 979.1 L2045.5 981.0 L2045.9 983.0 L2046.2 985.0 L2046.5 987.0 L2046.8 988.9 L2047.2 990.9 L2047.5 992.9 L2047.8 994.8 L2048.2 996.8 L2048.5 998.8 L2048.9 1000.8 L2049.2 1002.7 L2049.6 1004.7 L2049.9 1006.7 L2050.3 1008.6 L2050.7 1010.6 L2051.1 1012.5 L2051.4 1014.5 L2051.8 1016.5 L2052.2 1018.4 L2052.6 1020.4 L2053.1 1022.3 L2053.5 1024.3 L2053.9 1026.3 L2054.3 1028.2 L2054.8 1030.2 L2055.2 1032.1 L2055.6 1034.1 L2056.1 1036.0 L2056.5 1038.0 L2057.0 1039.9 L2057.5 1041.9 L2057.9 1043.8 L2058.4 1045.7 L2058.8 1047.7 L2059.3 1049.6 L2059.7 1051.6 L2060.2 1053.5 L2060.7 1055.5 L2061.1 1057.4 L2061.5 1059.4 L2062.0 1061.3 L2062.4 1063.3 L2062.8 1065.2 L2063.3 1067.2 L2063.7 1069.2 L2064.1 1071.1 L2064.5 1073.1 L2065.0 1075.0 L2065.4 1077.0 L2065.9 1078.9 L2066.4 1080.8 L2066.9 1082.8 L2067.4 1084.7 L2067.9 1086.6 L2068.5 1088.6 L2069.0 1090.5 L2069.5 1092.4 L2070.1 1094.3 L2070.7 1096.3 L2071.2 1098.2 L2071.8 1100.1 L2072.4 1102.0 L2073.0 1103.9 L2073.6 1105.8 L2074.1 1107.7 L2074.7 1109.6 L2075.4 1111.6 L2076.0 1113.5 L2076.6 1115.4 L2077.2 1117.3 L2077.8 1119.2 L2078.5 1121.1 L2079.1 1123.0 L2079.8 1124.8 L2080.4 1126.7 L2081.1 1128.6 L2081.7 1130.5 L2082.4 1132.4 L2083.1 1134.3 L2083.7 1136.2 L2084.4 1138.0 L2085.1 1139.9 L2085.8 1141.8 L2086.4 1143.7 L2087.1 1145.6 L2087.8 1147.5 L2088.4 1149.4 L2089.1 1151.3 L2089.7 1153.1 L2090.3 1155.0 L2091.0 1156.9 L2091.6 1158.8 L2092.2 1160.7 L2092.9 1162.6 L2093.5 1164.5 L2094.1 1166.4 L2094.8 1168.3 L2095.5 1170.2 L2096.1 1172.1 L2096.8 1174.0 L2097.6 1175.8 L2098.3 1177.7 L2099.1 1179.5 L2099.8 1181.4 L2100.6 1183.2 L2101.4 1185.0 L2102.3 1186.9 L2103.1 1188.7 L2103.9 1190.5 L2104.8 1192.3 L2105.7 1194.1 L2106.6 1195.9 L2107.5 1197.7 L2108.4 1199.5 L2109.3 1201.2 L2110.2 1203.0 L2111.2 1204.8 L2112.1 1206.5 L2113.1 1208.3 L2114.1 1210.0 L2115.1 1211.7 L2116.1 1213.5 L2117.1 1215.2 L2118.1 1216.9 L2119.1 1218.6 L2120.2 1220.3 L2121.3 1222.0 L2122.3 1223.7 L2123.4 1225.4 L2124.5 1227.1 L2125.6 1228.8 L2126.7 1230.4 L2127.8 1232.1 L2128.9 1233.8 L2130.0 1235.4 L2131.1 1237.1 L2132.3 1238.7 L2133.4 1240.4 L2134.6 1242.0 L2135.7 1243.6 L2136.9 1245.2 L2138.1 1246.8 L2139.3 1248.4 L2140.6 1249.9 L2141.9 1251.4 L2143.3 1252.9 L2144.6 1254.4 L2145.9 1255.9 L2147.2 1257.4 L2148.5 1259.0 L2149.8 1260.5 L2151.0 1262.1 L2152.2 1263.7 L2153.3 1265.4 L2154.5 1267.0 L2155.6 1268.6 L2156.8 1270.3 L2157.9 1271.9 L2159.1 1273.5 L2160.2 1275.2 L2161.4 1276.8 L2162.5 1278.5 L2163.7 1280.1 L2164.8 1281.7 L2166.0 1283.3 L2167.2 1284.9 L2168.4 1286.5 L2169.6 1288.1 L2170.9 1289.7 L2172.1 1291.3 L2173.3 1292.8 L2174.6 1294.4 L2175.9 1295.9 L2177.1 1297.5 L2178.4 1299.0 L2179.7 1300.5 L2181.0 1302.1 L2182.3 1303.6 L2183.6 1305.1 L2184.9 1306.6 L2186.2 1308.1 L2187.5 1309.6 L2188.8 1311.1 L2190.2 1312.7 L2191.5 1314.2 L2192.8 1315.7 L2194.1 1317.2 L2195.4 1318.7 L2196.8 1320.2 L2198.1 1321.7 L2199.5 1323.1 L2200.8 1324.6 L2202.2 1326.0 L2203.6 1327.4 L2205.1 1328.8 L2206.5 1330.2 L2208.0 1331.5 L2209.5 1332.8 L2211.1 1334.1 L2212.7 1335.3 L2214.3 1336.5 L2215.9 1337.7 L2217.4 1338.9 L2219.0 1340.1 L2220.6 1341.4 L2222.2 1342.6 L2223.7 1343.9 L2225.2 1345.2 L2226.7 1346.5 L2228.2 1347.9 L2229.7 1349.2 L2231.2 1350.6 L2232.6 1351.9 L2234.1 1353.3 L2235.6 1354.7 L2237.0 1356.0 L2238.5 1357.3 L2240.0 1358.6 L2241.6 1359.9 L2243.2 1361.1 L2244.8 1362.3 L2246.4 1363.5 L2248.0 1364.7 L2249.7 1365.8 L2251.4 1366.8 L2253.1 1367.8 L2254.9 1368.7 L2256.7 1369.5 L2258.6 1370.1 L2260.6 1370.5 L2262.5 1370.8 L2264.5 1370.9 L2266.5 1371.1 L2268.5 1371.4 L2270.4 1371.9 L2272.3 1372.5 L2274.2 1373.1 L2276.1 1373.8 L2278.0 1374.5 L2279.8 1375.3 L2281.6 1376.2 L2283.4 1377.1 L2285.1 1378.1 L2286.7 1379.2 L2288.3 1380.4 L2289.8 1381.7 L2291.3 1383.1 L2292.8 1384.5 L2294.1 1385.9 L2295.5 1387.4 L2296.9 1388.8 L2298.2 1390.3 L2299.6 1391.8 L2300.9 1393.3 L2302.2 1394.7 L2303.6 1396.2 L2304.9 1397.8 L2306.2 1399.3 L2307.5 1400.8 L2308.7 1402.4 L2310.0 1403.9 L2311.3 1405.4 L2312.7 1406.9 L2314.1 1408.3 L2315.5 1409.7 L2317.1 1410.9 L2318.7 1412.1 L2320.4 1413.0 L2322.3 1413.7 L2324.2 1414.3 L2326.1 1414.8 L2328.1 1415.2 L2330.0 1415.6 L2332.0 1416.0 L2334.0 1416.3 L2336.0 1416.5 L2337.9 1416.7 L2339.9 1416.9 L2341.9 1416.9 L2343.9 1416.9 L2345.9 1416.9 L2347.9 1416.7 L2349.9 1416.5 L2351.9 1416.2 L2353.9 1415.9 L2355.8 1415.5 L2357.7 1415.0 L2359.6 1414.4 L2361.5 1413.6 L2363.2 1412.7 L2364.9 1411.6 L2366.5 1410.4 L2368.1 1409.2 L2369.8 1408.2 L2371.6 1407.6 L2373.4 1407.4 L2375.2 1407.7 L2377.0 1408.5 L2378.6 1409.7 L2380.1 1410.9 L2381.6 1412.2 L2383.1 1413.5 L2384.7 1414.7 L2386.4 1415.8 L2388.1 1416.8 L2389.9 1417.7 L2391.7 1418.5 L2393.5 1419.4 L2395.4 1420.2 L2397.2 1420.9 L2399.1 1421.6 L2401.0 1422.2 L2402.9 1422.8 L2404.9 1423.2 L2406.8 1423.5 L2408.8 1423.5 L2410.8 1423.3 L2412.8 1423.1 L2414.7 1422.8 L2416.7 1422.6 L2418.7 1422.6 L2420.7 1422.6 L2422.7 1422.6 L2424.7 1422.7 L2426.7 1422.8 L2428.7 1422.9 L2430.7 1423.0 L2432.7 1423.1 L2434.7 1423.2 L2436.7 1423.3 L2438.2 1423.4" stroke="#30ff30"/>
</g>
<g stroke="#303030" stroke-width="3.6" fill="none">
<rect x="197.6" y="38" width="2240.6" height="1398"/>
<line x1="589.9" y1="1436" x2="589.9" y2="1461"/><line x1="981.8" y1="1436" x2="981.8" y2="1461"/><line x1="1374.9" y1="1436" x2="1374.9" y2="1461"/><line x1="1767.8" y1="1436" x2="1767.8" y2="1461"/><line x1="2161.7" y1="1436" x2="2161.7" y2="1461"/>
</g>
<g font-family="Liberation Sans, Arial, Helvetica, sans-serif" fill="#000">
<text x="481.9" y="888.4" font-size="62.5" fill="#c00000">NaCl – CR</text>
<text x="481.9" y="1007.4" font-size="62.5" fill="#0070c0">NaCl – BH</text>
<text x="481.9" y="1107.7" font-size="62.5" fill="#000000">NaCl – CH</text>
<text x="481.9" y="1209.1" font-size="62.5" fill="#ff40ff">NaCl – PH</text>
<text x="763.5" y="1267.3" font-size="62.5" fill="#ff8800">KCl – CR</text>
<text x="763.5" y="1367.7" font-size="62.5" fill="#22c322">KCl – CS</text>
<text transform="translate(136.2 1542.5) scale(0.965 1)" font-size="74.5">600</text>
<text transform="translate(539.3 1547.5) scale(0.965 1)" font-size="74.5">500</text>
<text transform="translate(934.4 1547.5) scale(0.965 1)" font-size="74.5">400</text>
<text transform="translate(1328.0 1547.5) scale(0.965 1)" font-size="74.5">300</text>
<text transform="translate(1719.9 1547.5) scale(0.965 1)" font-size="74.5">200</text>
<text transform="translate(2114.0 1547.5) scale(0.965 1)" font-size="74.5">100</text>
<text transform="translate(1887.8 147.9) rotate(-90) scale(0.921 1)" font-size="65.3" fill="#000">175</text>
<text transform="translate(2007.1 428.2) rotate(-90) scale(0.926 1)" font-size="64.9" fill="#000">145</text>
<text transform="translate(1545.5 565.3) rotate(-90) scale(0.969 1)" font-size="64.3" fill="#000">260</text>
<text transform="translate(1647.0 504.5) rotate(-90) scale(0.935 1)" font-size="67.3" fill="#000">235</text>
<text transform="translate(1625.4 1236.4) rotate(-90) scale(0.894 1)" font-size="65.4" fill="#000">241</text>
<text transform="translate(1727.1 1115.1) rotate(-90) scale(0.921 1)" font-size="68.4" fill="#000">215</text>
<text transform="translate(105.5 894.6) rotate(-90)" font-size="72.5" textLength="383.4" lengthAdjust="spacingAndGlyphs">Absorbance</text>
<text x="918.3" y="1733.1" font-size="72.5" textLength="547.4" lengthAdjust="spacingAndGlyphs">Wavenumber, cm</text>
<text x="1467.8" y="1714" font-size="43.8">−1</text>
</g>
</g>
</svg>
</body></html>
